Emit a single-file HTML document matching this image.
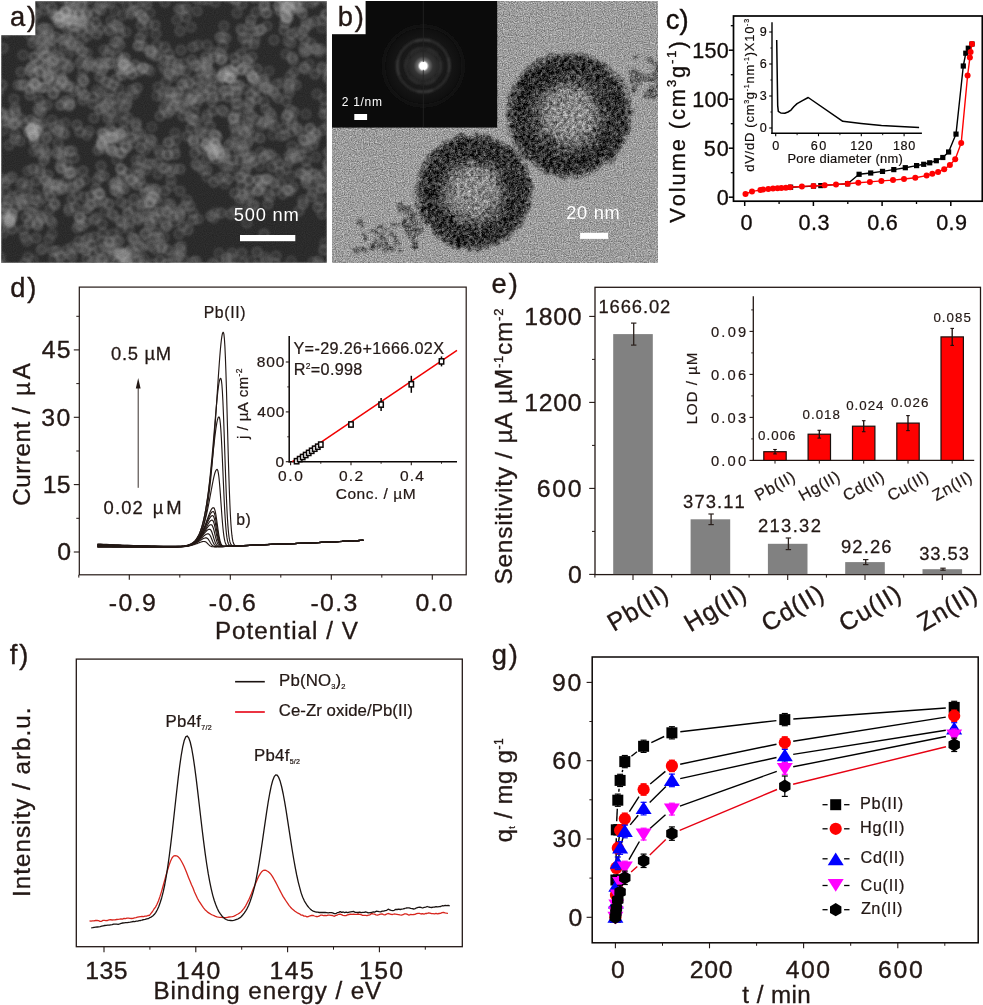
<!DOCTYPE html>
<html><head><meta charset="utf-8"><title>figure</title>
<style>html,body{margin:0;padding:0;background:#fff;overflow:hidden}svg{display:block;font-family:"Liberation Sans",sans-serif;font-kerning:none;stroke-width:0.35px;will-change:transform;opacity:0.9999;}</style>
</head><body>
<svg width="983" height="1005" viewBox="0 0 983 1005">
<defs>
<filter id="semf" x="0" y="0" width="100%" height="100%" color-interpolation-filters="sRGB"><feGaussianBlur in="SourceGraphic" stdDeviation="1.15" result="b"/><feTurbulence type="fractalNoise" baseFrequency="0.9" numOctaves="1" seed="5" result="n"/><feColorMatrix in="n" type="matrix" values="1 0 0 0 0 1 0 0 0 0 1 0 0 0 0 0 0 0 0 1" result="g"/><feComposite in="b" in2="g" operator="arithmetic" k1="0" k2="1" k3="0.10" k4="-0.05"/></filter>
<filter id="temf" x="0" y="0" width="100%" height="100%" color-interpolation-filters="sRGB"><feTurbulence type="fractalNoise" baseFrequency="0.85" numOctaves="2" seed="11" result="n"/><feColorMatrix in="n" type="matrix" values="1 0 0 0 0 1 0 0 0 0 1 0 0 0 0 0 0 0 0 1" result="g"/><feComposite in="SourceGraphic" in2="g" operator="arithmetic" k1="0" k2="1" k3="0.6" k4="-0.3"/></filter>
<filter id="rough" x="-10%" y="-10%" width="120%" height="120%" color-interpolation-filters="sRGB"><feTurbulence type="fractalNoise" baseFrequency="0.12" numOctaves="2" seed="4" result="t"/><feDisplacementMap in="SourceGraphic" in2="t" scale="9" xChannelSelector="R" yChannelSelector="G" result="d"/><feGaussianBlur in="d" stdDeviation="0.8" result="db"/><feTurbulence type="fractalNoise" baseFrequency="0.28" numOctaves="2" seed="9" result="m"/><feColorMatrix in="m" type="matrix" values="1 0 0 0 0 1 0 0 0 0 1 0 0 0 0 0 0 0 0 1" result="mg"/><feComposite in="db" in2="mg" operator="arithmetic" k1="0" k2="1" k3="0.7" k4="-0.35" result="mix"/><feComposite in="mix" in2="db" operator="in"/></filter>
<radialGradient id="p1" cx="0.5" cy="0.5" r="0.5"><stop offset="0" stop-color="#8e8e8e"/><stop offset="0.34" stop-color="#828282"/><stop offset="0.56" stop-color="#4c4c4c"/><stop offset="0.72" stop-color="#303030"/><stop offset="0.9" stop-color="#383838"/><stop offset="0.97" stop-color="#606060"/><stop offset="1" stop-color="#b0b0b0"/></radialGradient>
<radialGradient id="glow" cx="0.5" cy="0.5" r="0.5"><stop offset="0" stop-color="#fff"/><stop offset="0.08" stop-color="#fff"/><stop offset="0.13" stop-color="#707070"/><stop offset="0.22" stop-color="#343434"/><stop offset="0.45" stop-color="#1a1a1a"/><stop offset="1" stop-color="#0b0b0b"/></radialGradient>
<g id="sb"><circle r="5" fill="#a2a2a2" fill-opacity="0.45" stroke="#bebebe" stroke-opacity="0.45" stroke-width="1.6"/><circle r="1.6" fill="#555" fill-opacity="0.3"/></g>
<g id="sp"><circle r="4.8" fill="#858585" fill-opacity="0.36" stroke="#a8a8a8" stroke-opacity="0.42" stroke-width="1.6"/><circle r="1.8" fill="#303030" fill-opacity="0.3"/></g>
<filter id="soft" x="-20%" y="-20%" width="140%" height="140%"><feGaussianBlur stdDeviation="0.9"/></filter>
<clipPath id="ca"><rect x="1" y="1" width="326" height="262"/></clipPath>
<clipPath id="cb"><rect x="332" y="1" width="326" height="262"/></clipPath>
</defs>
<rect width="983" height="1005" fill="#fff"/>
<g clip-path="url(#ca)"><g filter="url(#semf)">
<rect x="1" y="1" width="326" height="262" fill="#2b2b2b"/>
<use href="#sp" x="320" y="265" opacity="0.46"/>
<use href="#sp" x="317" y="265" opacity="0.57"/>
<use href="#sp" x="318" y="261" opacity="0.56"/>
<use href="#sp" x="313" y="262" opacity="0.44"/>
<use href="#sp" x="324" y="250" opacity="0.63"/>
<use href="#sp" x="325" y="243" opacity="0.44"/>
<use href="#sp" x="330" y="152" opacity="0.47"/>
<use href="#sp" x="331" y="156" opacity="0.48"/>
<use href="#sp" x="328" y="152" opacity="0.50"/>
<use href="#sp" x="215" y="265" opacity="0.53"/>
<use href="#sp" x="226" y="262" opacity="0.62"/>
<use href="#sp" x="291" y="261" opacity="0.44"/>
<use href="#sp" x="213" y="263" opacity="0.55"/>
<use href="#sp" x="328" y="163" opacity="0.56"/>
<use href="#sp" x="328" y="164" opacity="0.48"/>
<use href="#sp" x="257" y="266" opacity="0.50"/>
<use href="#sp" x="329" y="168" opacity="0.52"/>
<use href="#sp" x="227" y="258" opacity="0.62"/>
<use href="#sp" x="275" y="263" opacity="0.59"/>
<use href="#sp" x="329" y="172" opacity="0.53"/>
<use href="#sp" x="219" y="253" opacity="0.44"/>
<use href="#sp" x="243" y="263" opacity="0.50"/>
<use href="#sp" x="328" y="126" opacity="0.60"/>
<use href="#sp" x="232" y="258" opacity="0.52"/>
<use href="#sp" x="329" y="187" opacity="0.51"/>
<use href="#sp" x="266" y="261" opacity="0.56"/>
<use href="#sp" x="251" y="261" opacity="0.43"/>
<use href="#sp" x="313" y="145" opacity="0.56"/>
<use href="#sp" x="323" y="130" opacity="0.57"/>
<use href="#sp" x="315" y="139" opacity="0.44"/>
<use href="#sp" x="328" y="113" opacity="0.51"/>
<use href="#sp" x="324" y="174" opacity="0.61"/>
<use href="#sp" x="322" y="214" opacity="0.48"/>
<use href="#sp" x="316" y="135" opacity="0.54"/>
<use href="#sp" x="276" y="256" opacity="0.50"/>
<use href="#sp" x="311" y="139" opacity="0.54"/>
<use href="#sp" x="232" y="253" opacity="0.51"/>
<use href="#sp" x="316" y="157" opacity="0.50"/>
<use href="#sp" x="315" y="133" opacity="0.62"/>
<use href="#sp" x="311" y="137" opacity="0.57"/>
<use href="#sp" x="324" y="114" opacity="0.64"/>
<use href="#sp" x="265" y="257" opacity="0.49"/>
<use href="#sp" x="307" y="148" opacity="0.52"/>
<use href="#sp" x="325" y="108" opacity="0.50"/>
<use href="#sp" x="306" y="140" opacity="0.61"/>
<use href="#sp" x="304" y="140" opacity="0.50"/>
<use href="#sp" x="242" y="253" opacity="0.57"/>
<use href="#sp" x="322" y="188" opacity="0.46"/>
<use href="#sp" x="321" y="189" opacity="0.54"/>
<use href="#sp" x="303" y="139" opacity="0.48"/>
<use href="#sp" x="321" y="182" opacity="0.62"/>
<use href="#sp" x="324" y="99" opacity="0.50"/>
<use href="#sp" x="310" y="129" opacity="0.63"/>
<use href="#sp" x="320" y="201" opacity="0.54"/>
<use href="#sp" x="310" y="128" opacity="0.50"/>
<use href="#sp" x="302" y="148" opacity="0.54"/>
<use href="#sp" x="318" y="207" opacity="0.62"/>
<use href="#sp" x="196" y="261" opacity="0.57"/>
<use href="#sp" x="257" y="252" opacity="0.60"/>
<use href="#sp" x="318" y="178" opacity="0.54"/>
<use href="#sp" x="194" y="266" opacity="0.56"/>
<use href="#sp" x="54" y="259" opacity="0.45"/>
<use href="#sp" x="315" y="174" opacity="0.60"/>
<use href="#sp" x="193" y="262" opacity="0.56"/>
<use href="#sp" x="-3" y="5" opacity="0.56"/>
<use href="#sp" x="328" y="78" opacity="0.49"/>
<use href="#sp" x="329" y="77" opacity="0.59"/>
<use href="#sp" x="299" y="131" opacity="0.54"/>
<use href="#sp" x="317" y="94" opacity="0.49"/>
<use href="#sp" x="53" y="251" opacity="0.64"/>
<use href="#sp" x="57" y="251" opacity="0.59"/>
<use href="#sp" x="312" y="174" opacity="0.57"/>
<use href="#sp" x="306" y="161" opacity="0.60"/>
<use href="#sp" x="197" y="-1" opacity="0.57"/>
<use href="#sp" x="292" y="146" opacity="0.50"/>
<use href="#sp" x="330" y="72" opacity="0.63"/>
<use href="#sp" x="300" y="155" opacity="0.62"/>
<use href="#sp" x="313" y="192" opacity="0.57"/>
<use href="#sp" x="2" y="2" opacity="0.52"/>
<use href="#sp" x="0" y="21" opacity="0.53"/>
<use href="#sp" x="306" y="114" opacity="0.43"/>
<use href="#sp" x="297" y="128" opacity="0.62"/>
<use href="#sp" x="179" y="9" opacity="0.60"/>
<use href="#sp" x="182" y="10" opacity="0.55"/>
<use href="#sp" x="60" y="256" opacity="0.52"/>
<use href="#sp" x="186" y="8" opacity="0.60"/>
<use href="#sp" x="292" y="132" opacity="0.42"/>
<use href="#sp" x="307" y="169" opacity="0.51"/>
<use href="#sp" x="203" y="0" opacity="0.48"/>
<use href="#sp" x="165" y="2" opacity="0.55"/>
<use href="#sp" x="61" y="257" opacity="0.50"/>
<use href="#sp" x="311" y="197" opacity="0.55"/>
<use href="#sp" x="211" y="216" opacity="0.62"/>
<use href="#sp" x="198" y="219" opacity="0.51"/>
<use href="#sp" x="208" y="0" opacity="0.45"/>
<use href="#sp" x="310" y="185" opacity="0.42"/>
<use href="#sp" x="285" y="135" opacity="0.60"/>
<use href="#sp" x="51" y="184" opacity="0.52"/>
<use href="#sp" x="295" y="156" opacity="0.52"/>
<use href="#sp" x="281" y="136" opacity="0.43"/>
<use href="#sp" x="33" y="260" opacity="0.44"/>
<use href="#sp" x="214" y="218" opacity="0.42"/>
<use href="#sp" x="315" y="74" opacity="0.62"/>
<use href="#sp" x="307" y="177" opacity="0.43"/>
<use href="#sp" x="292" y="125" opacity="0.49"/>
<use href="#sp" x="-2" y="30" opacity="0.52"/>
<use href="#sp" x="292" y="153" opacity="0.55"/>
<use href="#sp" x="183" y="259" opacity="0.47"/>
<use href="#sp" x="46" y="180" opacity="0.56"/>
<use href="#sp" x="25" y="263" opacity="0.56"/>
<use href="#sp" x="296" y="158" opacity="0.64"/>
<use href="#sp" x="322" y="69" opacity="0.44"/>
<use href="#sp" x="215" y="2" opacity="0.49"/>
<use href="#sp" x="48" y="184" opacity="0.44"/>
<use href="#sp" x="305" y="175" opacity="0.48"/>
<use href="#sp" x="45" y="180" opacity="0.47"/>
<use href="#sp" x="-2" y="264" opacity="0.43"/>
<use href="#sp" x="186" y="17" opacity="0.60"/>
<use href="#sp" x="3" y="265" opacity="0.48"/>
<use href="#sp" x="292" y="121" opacity="0.58"/>
<use href="#sp" x="306" y="179" opacity="0.60"/>
<use href="#sp" x="188" y="230" opacity="0.60"/>
<use href="#sp" x="54" y="185" opacity="0.43"/>
<use href="#sp" x="197" y="11" opacity="0.55"/>
<use href="#sp" x="193" y="220" opacity="0.61"/>
<use href="#sp" x="322" y="67" opacity="0.56"/>
<use href="#sp" x="284" y="128" opacity="0.55"/>
<use href="#sp" x="181" y="246" opacity="0.51"/>
<use href="#sp" x="306" y="183" opacity="0.60"/>
<use href="#sp" x="48" y="187" opacity="0.54"/>
<use href="#sp" x="177" y="20" opacity="0.50"/>
<use href="#sp" x="120" y="-2" opacity="0.53"/>
<use href="#sp" x="67" y="250" opacity="0.52"/>
<use href="#sp" x="215" y="213" opacity="0.46"/>
<use href="#sp" x="181" y="251" opacity="0.57"/>
<use href="#sp" x="144" y="1" opacity="0.60"/>
<use href="#sp" x="10" y="2" opacity="0.56"/>
<use href="#sp" x="43" y="248" opacity="0.42"/>
<use href="#sp" x="41" y="250" opacity="0.51"/>
<use href="#sp" x="55" y="205" opacity="0.59"/>
<use href="#sp" x="52" y="234" opacity="0.45"/>
<use href="#sp" x="10" y="7" opacity="0.53"/>
<use href="#sp" x="294" y="112" opacity="0.57"/>
<use href="#sp" x="302" y="174" opacity="0.54"/>
<use href="#sp" x="49" y="239" opacity="0.49"/>
<use href="#sp" x="273" y="135" opacity="0.42"/>
<use href="#sp" x="54" y="203" opacity="0.57"/>
<use href="#sp" x="56" y="191" opacity="0.46"/>
<use href="#sp" x="289" y="156" opacity="0.55"/>
<use href="#sp" x="179" y="248" opacity="0.54"/>
<use href="#sp" x="57" y="186" opacity="0.58"/>
<use href="#sp" x="227" y="-3" opacity="0.44"/>
<use href="#sp" x="303" y="204" opacity="0.63"/>
<use href="#sp" x="179" y="256" opacity="0.58"/>
<use href="#sp" x="48" y="190" opacity="0.61"/>
<use href="#sp" x="62" y="169" opacity="0.46"/>
<use href="#sp" x="61" y="168" opacity="0.58"/>
<use href="#sp" x="193" y="213" opacity="0.50"/>
<use href="#sp" x="14" y="-4" opacity="0.57"/>
<use href="#sp" x="57" y="184" opacity="0.57"/>
<use href="#sp" x="70" y="254" opacity="0.51"/>
<use href="#sp" x="147" y="4" opacity="0.63"/>
<use href="#sp" x="6" y="32" opacity="0.52"/>
<use href="#sp" x="291" y="159" opacity="0.52"/>
<use href="#sp" x="48" y="175" opacity="0.58"/>
<use href="#sp" x="28" y="257" opacity="0.45"/>
<use href="#sp" x="50" y="196" opacity="0.62"/>
<use href="#sp" x="13" y="-1" opacity="0.49"/>
<use href="#sp" x="305" y="69" opacity="0.62"/>
<use href="#sp" x="300" y="173" opacity="0.45"/>
<use href="#sp" x="303" y="200" opacity="0.45"/>
<use href="#sp" x="299" y="211" opacity="0.55"/>
<use href="#sp" x="134" y="3" opacity="0.47"/>
<use href="#sp" x="179" y="234" opacity="0.52"/>
<use href="#sp" x="286" y="118" opacity="0.46"/>
<use href="#sp" x="288" y="115" opacity="0.58"/>
<use href="#sp" x="160" y="116" opacity="0.58"/>
<use href="#sp" x="52" y="223" opacity="0.57"/>
<use href="#sp" x="72" y="247" opacity="0.45"/>
<use href="#sp" x="60" y="166" opacity="0.43"/>
<use href="#sp" x="72" y="257" opacity="0.55"/>
<use href="#sp" x="287" y="115" opacity="0.44"/>
<use href="#sp" x="180" y="31" opacity="0.58"/>
<use href="#sp" x="176" y="258" opacity="0.54"/>
<use href="#sp" x="67" y="165" opacity="0.63"/>
<use href="#sp" x="290" y="110" opacity="0.60"/>
<use href="#sp" x="304" y="67" opacity="0.56"/>
<use href="#sp" x="36" y="181" opacity="0.60"/>
<use href="#sp" x="15" y="30" opacity="0.53"/>
<use href="#sp" x="127" y="5" opacity="0.48"/>
<use href="#sp" x="165" y="111" opacity="0.43"/>
<use href="#sp" x="264" y="234" opacity="0.57"/>
<use href="#sp" x="168" y="113" opacity="0.57"/>
<use href="#sp" x="60" y="189" opacity="0.56"/>
<use href="#sp" x="232" y="-2" opacity="0.53"/>
<use href="#sp" x="14" y="19" opacity="0.52"/>
<use href="#sp" x="183" y="226" opacity="0.62"/>
<use href="#sp" x="330" y="51" opacity="0.50"/>
<use href="#sp" x="62" y="162" opacity="0.45"/>
<use href="#sp" x="274" y="125" opacity="0.63"/>
<use href="#sp" x="221" y="213" opacity="0.59"/>
<use href="#sp" x="172" y="110" opacity="0.62"/>
<use href="#sp" x="174" y="106" opacity="0.64"/>
<use href="#sp" x="-4" y="256" opacity="0.52"/>
<use href="#sp" x="309" y="64" opacity="0.45"/>
<use href="#sp" x="296" y="85" opacity="0.53"/>
<use href="#sp" x="40" y="173" opacity="0.53"/>
<use href="#sp" x="191" y="27" opacity="0.51"/>
<use href="#sp" x="50" y="220" opacity="0.59"/>
<use href="#sp" x="-0" y="257" opacity="0.48"/>
<use href="#sp" x="62" y="186" opacity="0.63"/>
<use href="#sp" x="289" y="162" opacity="0.47"/>
<use href="#sp" x="77" y="228" opacity="0.48"/>
<use href="#sp" x="164" y="108" opacity="0.60"/>
<use href="#sp" x="173" y="256" opacity="0.47"/>
<use href="#sp" x="50" y="209" opacity="0.58"/>
<use href="#sp" x="16" y="13" opacity="0.48"/>
<use href="#sp" x="190" y="206" opacity="0.51"/>
<use href="#sp" x="18" y="-0" opacity="0.52"/>
<use href="#sp" x="174" y="101" opacity="0.47"/>
<use href="#sp" x="235" y="-4" opacity="0.60"/>
<use href="#sp" x="17" y="23" opacity="0.63"/>
<use href="#sp" x="294" y="72" opacity="0.62"/>
<use href="#sp" x="150" y="13" opacity="0.45"/>
<use href="#sp" x="152" y="127" opacity="0.43"/>
<use href="#sp" x="63" y="189" opacity="0.52"/>
<use href="#sp" x="17" y="12" opacity="0.58"/>
<use href="#sp" x="77" y="248" opacity="0.54"/>
<use href="#sp" x="137" y="10" opacity="0.63"/>
<use href="#sp" x="260" y="138" opacity="0.64"/>
<use href="#sp" x="159" y="150" opacity="0.57"/>
<use href="#sp" x="68" y="173" opacity="0.48"/>
<use href="#sp" x="172" y="98" opacity="0.51"/>
<use href="#sp" x="115" y="11" opacity="0.43"/>
<use href="#sp" x="169" y="100" opacity="0.51"/>
<use href="#sp" x="269" y="124" opacity="0.59"/>
<use href="#sp" x="28" y="171" opacity="0.49"/>
<use href="#sp" x="160" y="154" opacity="0.46"/>
<use href="#sp" x="236" y="1" opacity="0.54"/>
<use href="#sp" x="236" y="-1" opacity="0.62"/>
<use href="#sp" x="79" y="241" opacity="0.56"/>
<use href="#sp" x="292" y="82" opacity="0.44"/>
<use href="#sp" x="176" y="97" opacity="0.51"/>
<use href="#sp" x="20" y="3" opacity="0.47"/>
<use href="#sp" x="152" y="141" opacity="0.60"/>
<use href="#sp" x="286" y="101" opacity="0.51"/>
<use href="#sp" x="289" y="93" opacity="0.52"/>
<use href="#sp" x="133" y="11" opacity="0.61"/>
<use href="#sp" x="66" y="181" opacity="0.49"/>
<use href="#sp" x="62" y="156" opacity="0.52"/>
<use href="#sp" x="70" y="172" opacity="0.64"/>
<use href="#sp" x="21" y="30" opacity="0.49"/>
<use href="#sp" x="110" y="3" opacity="0.54"/>
<use href="#sp" x="180" y="106" opacity="0.56"/>
<use href="#sp" x="69" y="211" opacity="0.49"/>
<use href="#sp" x="158" y="163" opacity="0.56"/>
<use href="#sp" x="261" y="152" opacity="0.51"/>
<use href="#sp" x="79" y="225" opacity="0.60"/>
<use href="#sp" x="187" y="200" opacity="0.54"/>
<use href="#sp" x="289" y="88" opacity="0.58"/>
<use href="#sp" x="271" y="155" opacity="0.55"/>
<use href="#sp" x="178" y="98" opacity="0.57"/>
<use href="#sp" x="237" y="13" opacity="0.51"/>
<use href="#sp" x="71" y="173" opacity="0.45"/>
<use href="#sp" x="319" y="52" opacity="0.50"/>
<use href="#sp" x="290" y="76" opacity="0.49"/>
<use href="#sp" x="182" y="106" opacity="0.42"/>
<use href="#sp" x="173" y="92" opacity="0.59"/>
<use href="#sp" x="268" y="154" opacity="0.54"/>
<use href="#sp" x="3" y="48" opacity="0.53"/>
<use href="#sp" x="289" y="84" opacity="0.57"/>
<use href="#sp" x="43" y="198" opacity="0.43"/>
<use href="#sp" x="261" y="126" opacity="0.45"/>
<use href="#sp" x="40" y="169" opacity="0.58"/>
<use href="#sp" x="70" y="174" opacity="0.43"/>
<use href="#sp" x="33" y="169" opacity="0.61"/>
<use href="#sp" x="69" y="208" opacity="0.53"/>
<use href="#sp" x="69" y="151" opacity="0.63"/>
<use href="#sp" x="-4" y="109" opacity="0.61"/>
<use href="#sp" x="272" y="117" opacity="0.51"/>
<use href="#sp" x="168" y="264" opacity="0.50"/>
<use href="#sp" x="150" y="139" opacity="0.52"/>
<use href="#sp" x="12" y="177" opacity="0.59"/>
<use href="#sp" x="141" y="15" opacity="0.52"/>
<use href="#sp" x="141" y="15" opacity="0.58"/>
<use href="#sp" x="293" y="60" opacity="0.64"/>
<use href="#sp" x="181" y="50" opacity="0.58"/>
<use href="#sp" x="268" y="120" opacity="0.53"/>
<use href="#sp" x="82" y="226" opacity="0.58"/>
<use href="#sp" x="131" y="14" opacity="0.53"/>
<use href="#sp" x="263" y="123" opacity="0.55"/>
<use href="#sp" x="152" y="164" opacity="0.51"/>
<use href="#sp" x="168" y="250" opacity="0.63"/>
<use href="#sp" x="320" y="49" opacity="0.64"/>
<use href="#sp" x="149" y="145" opacity="0.54"/>
<use href="#sp" x="178" y="92" opacity="0.54"/>
<use href="#sp" x="164" y="237" opacity="0.44"/>
<use href="#sp" x="73" y="172" opacity="0.54"/>
<use href="#sp" x="166" y="168" opacity="0.62"/>
<use href="#sp" x="123" y="15" opacity="0.47"/>
<use href="#sp" x="184" y="109" opacity="0.59"/>
<use href="#sp" x="-3" y="109" opacity="0.48"/>
<use href="#sp" x="106" y="2" opacity="0.58"/>
<use href="#sp" x="185" y="206" opacity="0.48"/>
<use href="#sp" x="63" y="151" opacity="0.55"/>
<use href="#sp" x="169" y="92" opacity="0.59"/>
<use href="#sp" x="276" y="159" opacity="0.43"/>
<use href="#sp" x="148" y="164" opacity="0.60"/>
<use href="#sp" x="264" y="121" opacity="0.54"/>
<use href="#sp" x="61" y="154" opacity="0.47"/>
<use href="#sp" x="254" y="136" opacity="0.49"/>
<use href="#sp" x="74" y="158" opacity="0.54"/>
<use href="#sp" x="166" y="264" opacity="0.58"/>
<use href="#sp" x="316" y="50" opacity="0.46"/>
<use href="#sp" x="291" y="176" opacity="0.44"/>
<use href="#sp" x="93" y="97" opacity="0.47"/>
<use href="#sp" x="2" y="179" opacity="0.56"/>
<use href="#sp" x="82" y="248" opacity="0.51"/>
<use href="#sp" x="36" y="238" opacity="0.59"/>
<use href="#sp" x="170" y="172" opacity="0.58"/>
<use href="#sp" x="163" y="168" opacity="0.50"/>
<use href="#sp" x="265" y="156" opacity="0.55"/>
<use href="#sp" x="286" y="169" opacity="0.45"/>
<use href="#sp" x="72" y="151" opacity="0.55"/>
<use href="#sp" x="178" y="64" opacity="0.56"/>
<use href="#sp" x="28" y="185" opacity="0.47"/>
<use href="#sp" x="0" y="114" opacity="0.57"/>
<use href="#sp" x="23" y="182" opacity="0.45"/>
<use href="#sp" x="180" y="216" opacity="0.63"/>
<use href="#sp" x="25" y="26" opacity="0.54"/>
<use href="#sp" x="231" y="214" opacity="0.62"/>
<use href="#sp" x="293" y="187" opacity="0.57"/>
<use href="#sp" x="9" y="179" opacity="0.47"/>
<use href="#sp" x="242" y="4" opacity="0.58"/>
<use href="#sp" x="93" y="104" opacity="0.56"/>
<use href="#sp" x="177" y="71" opacity="0.50"/>
<use href="#sp" x="177" y="68" opacity="0.57"/>
<use href="#sp" x="270" y="113" opacity="0.59"/>
<use href="#sp" x="70" y="188" opacity="0.57"/>
<use href="#sp" x="85" y="241" opacity="0.47"/>
<use href="#sp" x="-2" y="181" opacity="0.63"/>
<use href="#sp" x="144" y="19" opacity="0.62"/>
<use href="#sp" x="163" y="97" opacity="0.52"/>
<use href="#sp" x="141" y="160" opacity="0.62"/>
<use href="#sp" x="292" y="57" opacity="0.64"/>
<use href="#sp" x="111" y="21" opacity="0.50"/>
<use href="#sp" x="26" y="29" opacity="0.46"/>
<use href="#sp" x="182" y="209" opacity="0.47"/>
<use href="#sp" x="85" y="95" opacity="0.53"/>
<use href="#sp" x="143" y="19" opacity="0.45"/>
<use href="#sp" x="82" y="60" opacity="0.47"/>
<use href="#sp" x="180" y="70" opacity="0.58"/>
<use href="#sp" x="145" y="150" opacity="0.42"/>
<use href="#sp" x="155" y="25" opacity="0.55"/>
<use href="#sp" x="167" y="155" opacity="0.51"/>
<use href="#sp" x="279" y="164" opacity="0.58"/>
<use href="#sp" x="26" y="4" opacity="0.48"/>
<use href="#sp" x="249" y="129" opacity="0.53"/>
<use href="#sp" x="180" y="214" opacity="0.47"/>
<use href="#sp" x="83" y="52" opacity="0.42"/>
<use href="#sp" x="2" y="113" opacity="0.61"/>
<use href="#sp" x="247" y="223" opacity="0.50"/>
<use href="#sp" x="315" y="48" opacity="0.48"/>
<use href="#sp" x="83" y="100" opacity="0.63"/>
<use href="#sp" x="30" y="35" opacity="0.50"/>
<use href="#sp" x="80" y="63" opacity="0.54"/>
<use href="#sp" x="81" y="219" opacity="0.45"/>
<use href="#sp" x="42" y="219" opacity="0.51"/>
<use href="#sp" x="168" y="155" opacity="0.61"/>
<use href="#sp" x="80" y="217" opacity="0.60"/>
<use href="#sp" x="79" y="217" opacity="0.60"/>
<use href="#sp" x="72" y="199" opacity="0.62"/>
<use href="#sp" x="35" y="194" opacity="0.47"/>
<use href="#sp" x="306" y="52" opacity="0.43"/>
<use href="#sp" x="83" y="95" opacity="0.45"/>
<use href="#sp" x="42" y="217" opacity="0.56"/>
<use href="#sp" x="257" y="120" opacity="0.54"/>
<use href="#sp" x="168" y="143" opacity="0.50"/>
<use href="#sp" x="264" y="158" opacity="0.58"/>
<use href="#sp" x="162" y="245" opacity="0.47"/>
<use href="#sp" x="173" y="76" opacity="0.55"/>
<use href="#sp" x="182" y="84" opacity="0.51"/>
<use href="#sp" x="282" y="83" opacity="0.45"/>
<use href="#sp" x="82" y="51" opacity="0.59"/>
<use href="#sp" x="304" y="52" opacity="0.46"/>
<use href="#sp" x="247" y="126" opacity="0.60"/>
<use href="#sp" x="180" y="191" opacity="0.59"/>
<use href="#sp" x="224" y="26" opacity="0.52"/>
<use href="#sp" x="88" y="238" opacity="0.52"/>
<use href="#sp" x="57" y="154" opacity="0.47"/>
<use href="#sp" x="174" y="222" opacity="0.45"/>
<use href="#sp" x="278" y="98" opacity="0.57"/>
<use href="#sp" x="21" y="184" opacity="0.50"/>
<use href="#sp" x="148" y="24" opacity="0.54"/>
<use href="#sp" x="183" y="85" opacity="0.50"/>
<use href="#sp" x="65" y="123" opacity="0.48"/>
<use href="#sp" x="83" y="71" opacity="0.46"/>
<use href="#sp" x="251" y="156" opacity="0.59"/>
<use href="#sp" x="162" y="248" opacity="0.52"/>
<use href="#sp" x="163" y="92" opacity="0.45"/>
<use href="#sp" x="75" y="207" opacity="0.61"/>
<use href="#sp" x="39" y="202" opacity="0.45"/>
<use href="#sp" x="57" y="152" opacity="0.47"/>
<use href="#sp" x="184" y="63" opacity="0.45"/>
<use href="#sp" x="169" y="142" opacity="0.54"/>
<use href="#sp" x="159" y="237" opacity="0.59"/>
<use href="#sp" x="65" y="134" opacity="0.43"/>
<use href="#sp" x="84" y="81" opacity="0.62"/>
<use href="#sp" x="183" y="116" opacity="0.57"/>
<use href="#sp" x="174" y="169" opacity="0.60"/>
<use href="#sp" x="86" y="222" opacity="0.51"/>
<use href="#sp" x="308" y="50" opacity="0.52"/>
<use href="#sp" x="189" y="101" opacity="0.44"/>
<use href="#sp" x="248" y="123" opacity="0.48"/>
<use href="#sp" x="185" y="90" opacity="0.61"/>
<use href="#sp" x="286" y="54" opacity="0.48"/>
<use href="#sp" x="27" y="21" opacity="0.62"/>
<use href="#sp" x="86" y="251" opacity="0.60"/>
<use href="#sp" x="77" y="125" opacity="0.62"/>
<use href="#sp" x="178" y="212" opacity="0.45"/>
<use href="#sp" x="161" y="248" opacity="0.51"/>
<use href="#sp" x="74" y="187" opacity="0.60"/>
<use href="#sp" x="102" y="98" opacity="0.49"/>
<use href="#sp" x="3" y="116" opacity="0.47"/>
<use href="#sp" x="87" y="248" opacity="0.42"/>
<use href="#sp" x="101" y="4" opacity="0.54"/>
<use href="#sp" x="83" y="81" opacity="0.54"/>
<use href="#sp" x="40" y="215" opacity="0.47"/>
<use href="#sp" x="82" y="78" opacity="0.48"/>
<use href="#sp" x="290" y="191" opacity="0.56"/>
<use href="#sp" x="87" y="53" opacity="0.46"/>
<use href="#sp" x="108" y="103" opacity="0.59"/>
<use href="#sp" x="-2" y="92" opacity="0.61"/>
<use href="#sp" x="189" y="99" opacity="0.51"/>
<use href="#sp" x="172" y="61" opacity="0.45"/>
<use href="#sp" x="100" y="29" opacity="0.55"/>
<use href="#sp" x="171" y="180" opacity="0.48"/>
<use href="#sp" x="27" y="189" opacity="0.44"/>
<use href="#sp" x="193" y="47" opacity="0.58"/>
<use href="#sp" x="141" y="169" opacity="0.54"/>
<use href="#sp" x="87" y="259" opacity="0.48"/>
<use href="#sp" x="167" y="226" opacity="0.47"/>
<use href="#sp" x="156" y="232" opacity="0.58"/>
<use href="#sp" x="5" y="183" opacity="0.62"/>
<use href="#sp" x="191" y="101" opacity="0.50"/>
<use href="#sp" x="241" y="29" opacity="0.55"/>
<use href="#sp" x="249" y="140" opacity="0.47"/>
<use href="#sp" x="146" y="170" opacity="0.52"/>
<use href="#sp" x="249" y="158" opacity="0.55"/>
<use href="#sp" x="27" y="241" opacity="0.49"/>
<use href="#sp" x="38" y="226" opacity="0.55"/>
<use href="#sp" x="36" y="39" opacity="0.54"/>
<use href="#sp" x="157" y="96" opacity="0.43"/>
<use href="#sp" x="125" y="107" opacity="0.45"/>
<use href="#sp" x="137" y="167" opacity="0.51"/>
<use href="#sp" x="136" y="160" opacity="0.45"/>
<use href="#sp" x="246" y="133" opacity="0.54"/>
<use href="#sp" x="63" y="133" opacity="0.55"/>
<use href="#sp" x="266" y="109" opacity="0.56"/>
<use href="#sp" x="97" y="34" opacity="0.61"/>
<use href="#sp" x="35" y="200" opacity="0.55"/>
<use href="#sp" x="33" y="43" opacity="0.59"/>
<use href="#sp" x="97" y="90" opacity="0.45"/>
<use href="#sp" x="250" y="25" opacity="0.61"/>
<use href="#sp" x="160" y="260" opacity="0.62"/>
<use href="#sp" x="115" y="25" opacity="0.55"/>
<use href="#sp" x="83" y="171" opacity="0.60"/>
<use href="#sp" x="194" y="112" opacity="0.54"/>
<use href="#sp" x="170" y="60" opacity="0.52"/>
<use href="#sp" x="117" y="105" opacity="0.46"/>
<use href="#sp" x="235" y="211" opacity="0.53"/>
<use href="#sp" x="166" y="226" opacity="0.58"/>
<use href="#sp" x="255" y="161" opacity="0.59"/>
<use href="#sp" x="81" y="90" opacity="0.62"/>
<use href="#sp" x="141" y="25" opacity="0.53"/>
<use href="#sp" x="44" y="160" opacity="0.63"/>
<use href="#sp" x="275" y="94" opacity="0.50"/>
<use href="#sp" x="225" y="184" opacity="0.42"/>
<use href="#sp" x="186" y="71" opacity="0.51"/>
<use href="#sp" x="169" y="72" opacity="0.54"/>
<use href="#sp" x="169" y="54" opacity="0.59"/>
<use href="#sp" x="253" y="31" opacity="0.47"/>
<use href="#sp" x="38" y="222" opacity="0.43"/>
<use href="#sp" x="304" y="48" opacity="0.58"/>
<use href="#sp" x="88" y="64" opacity="0.46"/>
<use href="#sp" x="247" y="159" opacity="0.61"/>
<use href="#sp" x="100" y="93" opacity="0.54"/>
<use href="#sp" x="142" y="139" opacity="0.45"/>
<use href="#sp" x="166" y="82" opacity="0.53"/>
<use href="#sp" x="101" y="10" opacity="0.59"/>
<use href="#sp" x="186" y="80" opacity="0.47"/>
<use href="#sp" x="288" y="190" opacity="0.63"/>
<use href="#sp" x="242" y="31" opacity="0.43"/>
<use href="#sp" x="74" y="50" opacity="0.45"/>
<use href="#sp" x="192" y="99" opacity="0.55"/>
<use href="#sp" x="169" y="74" opacity="0.57"/>
<use href="#sp" x="104" y="106" opacity="0.55"/>
<use href="#sp" x="141" y="148" opacity="0.62"/>
<use href="#sp" x="198" y="45" opacity="0.46"/>
<use href="#sp" x="88" y="66" opacity="0.43"/>
<use href="#sp" x="243" y="130" opacity="0.54"/>
<use href="#sp" x="277" y="84" opacity="0.50"/>
<use href="#sp" x="155" y="237" opacity="0.51"/>
<use href="#sp" x="156" y="34" opacity="0.51"/>
<use href="#sp" x="4" y="121" opacity="0.61"/>
<use href="#sp" x="118" y="25" opacity="0.48"/>
<use href="#sp" x="127" y="104" opacity="0.57"/>
<use href="#sp" x="37" y="224" opacity="0.54"/>
<use href="#sp" x="196" y="104" opacity="0.48"/>
<use href="#sp" x="193" y="98" opacity="0.62"/>
<use href="#sp" x="175" y="133" opacity="0.48"/>
<use href="#sp" x="110" y="99" opacity="0.49"/>
<use href="#sp" x="41" y="41" opacity="0.46"/>
<use href="#sp" x="94" y="237" opacity="0.57"/>
<use href="#sp" x="165" y="47" opacity="0.57"/>
<use href="#sp" x="141" y="134" opacity="0.50"/>
<use href="#sp" x="109" y="29" opacity="0.45"/>
<use href="#sp" x="247" y="144" opacity="0.55"/>
<use href="#sp" x="287" y="190" opacity="0.49"/>
<use href="#sp" x="280" y="172" opacity="0.54"/>
<use href="#sp" x="252" y="116" opacity="0.56"/>
<use href="#sp" x="154" y="238" opacity="0.42"/>
<use href="#sp" x="116" y="108" opacity="0.43"/>
<use href="#sp" x="79" y="182" opacity="0.60"/>
<use href="#sp" x="91" y="245" opacity="0.61"/>
<use href="#sp" x="244" y="133" opacity="0.44"/>
<use href="#sp" x="3" y="130" opacity="0.47"/>
<use href="#sp" x="190" y="117" opacity="0.51"/>
<use href="#sp" x="173" y="216" opacity="0.60"/>
<use href="#sp" x="311" y="43" opacity="0.49"/>
<use href="#sp" x="189" y="83" opacity="0.63"/>
<use href="#sp" x="77" y="195" opacity="0.44"/>
<use href="#sp" x="32" y="23" opacity="0.62"/>
<use href="#sp" x="67" y="57" opacity="0.43"/>
<use href="#sp" x="251" y="163" opacity="0.55"/>
<use href="#sp" x="98" y="8" opacity="0.63"/>
<use href="#sp" x="136" y="123" opacity="0.58"/>
<use href="#sp" x="180" y="169" opacity="0.62"/>
<use href="#sp" x="174" y="149" opacity="0.50"/>
<use href="#sp" x="2" y="85" opacity="0.63"/>
<use href="#sp" x="251" y="20" opacity="0.62"/>
<use href="#sp" x="327" y="1" opacity="0.48"/>
<use href="#sp" x="325" y="-3" opacity="0.59"/>
<use href="#sp" x="90" y="62" opacity="0.62"/>
<use href="#sp" x="32" y="10" opacity="0.47"/>
<use href="#sp" x="100" y="109" opacity="0.51"/>
<use href="#sp" x="273" y="91" opacity="0.59"/>
<use href="#sp" x="255" y="39" opacity="0.55"/>
<use href="#sp" x="91" y="264" opacity="0.62"/>
<use href="#sp" x="158" y="174" opacity="0.52"/>
<use href="#sp" x="110" y="31" opacity="0.52"/>
<use href="#sp" x="47" y="44" opacity="0.46"/>
<use href="#sp" x="247" y="165" opacity="0.48"/>
<use href="#sp" x="79" y="184" opacity="0.61"/>
<use href="#sp" x="32" y="15" opacity="0.48"/>
<use href="#sp" x="228" y="179" opacity="0.62"/>
<use href="#sp" x="105" y="108" opacity="0.60"/>
<use href="#sp" x="58" y="143" opacity="0.55"/>
<use href="#sp" x="78" y="46" opacity="0.49"/>
<use href="#sp" x="32" y="15" opacity="0.42"/>
<use href="#sp" x="45" y="156" opacity="0.45"/>
<use href="#sp" x="272" y="167" opacity="0.60"/>
<use href="#sp" x="175" y="154" opacity="0.63"/>
<use href="#sp" x="192" y="60" opacity="0.63"/>
<use href="#sp" x="194" y="95" opacity="0.48"/>
<use href="#sp" x="51" y="48" opacity="0.63"/>
<use href="#sp" x="239" y="118" opacity="0.52"/>
<use href="#sp" x="114" y="99" opacity="0.50"/>
<use href="#sp" x="233" y="119" opacity="0.62"/>
<use href="#sp" x="254" y="-2" opacity="0.60"/>
<use href="#sp" x="258" y="31" opacity="0.57"/>
<use href="#sp" x="74" y="46" opacity="0.48"/>
<use href="#sp" x="235" y="124" opacity="0.44"/>
<use href="#sp" x="326" y="15" opacity="0.46"/>
<use href="#sp" x="94" y="220" opacity="0.48"/>
<use href="#sp" x="100" y="110" opacity="0.46"/>
<use href="#sp" x="92" y="66" opacity="0.55"/>
<use href="#sp" x="158" y="87" opacity="0.49"/>
<use href="#sp" x="264" y="102" opacity="0.47"/>
<use href="#sp" x="80" y="132" opacity="0.61"/>
<use href="#sp" x="165" y="223" opacity="0.50"/>
<use href="#sp" x="176" y="140" opacity="0.42"/>
<use href="#sp" x="322" y="28" opacity="0.42"/>
<use href="#sp" x="9" y="115" opacity="0.54"/>
<use href="#sp" x="71" y="104" opacity="0.43"/>
<use href="#sp" x="102" y="224" opacity="0.54"/>
<use href="#sp" x="171" y="186" opacity="0.43"/>
<use href="#sp" x="249" y="114" opacity="0.52"/>
<use href="#sp" x="119" y="28" opacity="0.56"/>
<use href="#sp" x="25" y="237" opacity="0.54"/>
<use href="#sp" x="59" y="125" opacity="0.47"/>
<use href="#sp" x="326" y="14" opacity="0.60"/>
<use href="#sp" x="136" y="126" opacity="0.63"/>
<use href="#sp" x="234" y="118" opacity="0.60"/>
<use href="#sp" x="214" y="182" opacity="0.63"/>
<use href="#sp" x="43" y="39" opacity="0.63"/>
<use href="#sp" x="38" y="32" opacity="0.50"/>
<use href="#sp" x="139" y="175" opacity="0.54"/>
<use href="#sp" x="247" y="38" opacity="0.51"/>
<use href="#sp" x="69" y="106" opacity="0.59"/>
<use href="#sp" x="192" y="119" opacity="0.46"/>
<use href="#sp" x="234" y="117" opacity="0.47"/>
<use href="#sp" x="43" y="48" opacity="0.52"/>
<use href="#sp" x="91" y="-4" opacity="0.54"/>
<use href="#sp" x="220" y="37" opacity="0.64"/>
<use href="#sp" x="9" y="145" opacity="0.49"/>
<use href="#sp" x="165" y="70" opacity="0.42"/>
<use href="#sp" x="129" y="223" opacity="0.51"/>
<use href="#sp" x="96" y="23" opacity="0.61"/>
<use href="#sp" x="124" y="114" opacity="0.44"/>
<use href="#sp" x="244" y="149" opacity="0.53"/>
<use href="#sp" x="155" y="249" opacity="0.55"/>
<use href="#sp" x="69" y="104" opacity="0.60"/>
<use href="#sp" x="146" y="233" opacity="0.49"/>
<use href="#sp" x="165" y="60" opacity="0.55"/>
<use href="#sp" x="75" y="91" opacity="0.63"/>
<use href="#sp" x="64" y="46" opacity="0.63"/>
<use href="#sp" x="223" y="37" opacity="0.54"/>
<use href="#sp" x="207" y="45" opacity="0.49"/>
<use href="#sp" x="71" y="45" opacity="0.56"/>
<use href="#sp" x="46" y="153" opacity="0.58"/>
<use href="#sp" x="243" y="38" opacity="0.57"/>
<use href="#sp" x="199" y="99" opacity="0.57"/>
<use href="#sp" x="243" y="151" opacity="0.50"/>
<use href="#sp" x="58" y="132" opacity="0.58"/>
<use href="#sp" x="124" y="224" opacity="0.50"/>
<use href="#sp" x="237" y="130" opacity="0.47"/>
<use href="#sp" x="128" y="118" opacity="0.44"/>
<use href="#sp" x="153" y="264" opacity="0.54"/>
<use href="#sp" x="137" y="133" opacity="0.46"/>
<use href="#sp" x="207" y="115" opacity="0.48"/>
<use href="#sp" x="86" y="209" opacity="0.49"/>
<use href="#sp" x="93" y="253" opacity="0.50"/>
<use href="#sp" x="43" y="50" opacity="0.51"/>
<use href="#sp" x="213" y="111" opacity="0.63"/>
<use href="#sp" x="127" y="99" opacity="0.54"/>
<use href="#sp" x="95" y="14" opacity="0.54"/>
<use href="#sp" x="-3" y="192" opacity="0.51"/>
<use href="#sp" x="193" y="120" opacity="0.54"/>
<use href="#sp" x="58" y="130" opacity="0.60"/>
<use href="#sp" x="69" y="66" opacity="0.54"/>
<use href="#sp" x="243" y="211" opacity="0.53"/>
<use href="#sp" x="94" y="261" opacity="0.50"/>
<use href="#sp" x="15" y="108" opacity="0.46"/>
<use href="#sp" x="136" y="176" opacity="0.47"/>
<use href="#sp" x="33" y="207" opacity="0.44"/>
<use href="#sp" x="82" y="40" opacity="0.48"/>
<use href="#sp" x="268" y="91" opacity="0.43"/>
<use href="#sp" x="87" y="36" opacity="0.51"/>
<use href="#sp" x="15" y="111" opacity="0.55"/>
<use href="#sp" x="234" y="127" opacity="0.45"/>
<use href="#sp" x="240" y="160" opacity="0.59"/>
<use href="#sp" x="226" y="38" opacity="0.52"/>
<use href="#sp" x="254" y="44" opacity="0.56"/>
<use href="#sp" x="157" y="45" opacity="0.51"/>
<use href="#sp" x="261" y="30" opacity="0.60"/>
<use href="#sp" x="322" y="20" opacity="0.57"/>
<use href="#sp" x="96" y="265" opacity="0.45"/>
<use href="#sp" x="57" y="55" opacity="0.54"/>
<use href="#sp" x="120" y="221" opacity="0.48"/>
<use href="#sp" x="103" y="233" opacity="0.58"/>
<use href="#sp" x="23" y="55" opacity="0.50"/>
<use href="#sp" x="69" y="100" opacity="0.47"/>
<use href="#sp" x="260" y="166" opacity="0.43"/>
<use href="#sp" x="145" y="234" opacity="0.64"/>
<use href="#sp" x="121" y="221" opacity="0.45"/>
<use href="#sp" x="195" y="65" opacity="0.48"/>
<use href="#sp" x="123" y="97" opacity="0.63"/>
<use href="#sp" x="28" y="199" opacity="0.43"/>
<use href="#sp" x="283" y="194" opacity="0.51"/>
<use href="#sp" x="242" y="145" opacity="0.52"/>
<use href="#sp" x="96" y="218" opacity="0.57"/>
<use href="#sp" x="268" y="88" opacity="0.59"/>
<use href="#sp" x="305" y="40" opacity="0.63"/>
<use href="#sp" x="59" y="57" opacity="0.49"/>
<use href="#sp" x="85" y="180" opacity="0.44"/>
<use href="#sp" x="219" y="178" opacity="0.47"/>
<use href="#sp" x="163" y="66" opacity="0.42"/>
<use href="#sp" x="33" y="213" opacity="0.48"/>
<use href="#sp" x="36" y="14" opacity="0.56"/>
<use href="#sp" x="281" y="183" opacity="0.62"/>
<use href="#sp" x="73" y="87" opacity="0.44"/>
<use href="#sp" x="261" y="29" opacity="0.48"/>
<use href="#sp" x="196" y="87" opacity="0.62"/>
<use href="#sp" x="274" y="40" opacity="0.55"/>
<use href="#sp" x="291" y="43" opacity="0.51"/>
<use href="#sp" x="66" y="64" opacity="0.44"/>
<use href="#sp" x="11" y="118" opacity="0.43"/>
<use href="#sp" x="171" y="208" opacity="0.47"/>
<use href="#sp" x="89" y="-1" opacity="0.56"/>
<use href="#sp" x="269" y="71" opacity="0.43"/>
<use href="#sp" x="224" y="176" opacity="0.53"/>
<use href="#sp" x="48" y="38" opacity="0.60"/>
<use href="#sp" x="143" y="34" opacity="0.42"/>
<use href="#sp" x="196" y="66" opacity="0.48"/>
<use href="#sp" x="246" y="170" opacity="0.51"/>
<use href="#sp" x="256" y="12" opacity="0.55"/>
<use href="#sp" x="9" y="122" opacity="0.58"/>
<use href="#sp" x="41" y="-1" opacity="0.57"/>
<use href="#sp" x="149" y="225" opacity="0.52"/>
<use href="#sp" x="68" y="68" opacity="0.49"/>
<use href="#sp" x="40" y="52" opacity="0.56"/>
<use href="#sp" x="224" y="112" opacity="0.52"/>
<use href="#sp" x="196" y="121" opacity="0.62"/>
<use href="#sp" x="110" y="91" opacity="0.54"/>
<use href="#sp" x="236" y="112" opacity="0.55"/>
<use href="#sp" x="90" y="29" opacity="0.57"/>
<use href="#sp" x="266" y="88" opacity="0.53"/>
<use href="#sp" x="151" y="246" opacity="0.53"/>
<use href="#sp" x="101" y="166" opacity="0.57"/>
<use href="#sp" x="239" y="177" opacity="0.55"/>
<use href="#sp" x="100" y="77" opacity="0.64"/>
<use href="#sp" x="244" y="172" opacity="0.49"/>
<use href="#sp" x="71" y="42" opacity="0.53"/>
<use href="#sp" x="235" y="193" opacity="0.64"/>
<use href="#sp" x="52" y="40" opacity="0.60"/>
<use href="#sp" x="97" y="68" opacity="0.54"/>
<use href="#sp" x="126" y="32" opacity="0.49"/>
<use href="#sp" x="233" y="167" opacity="0.46"/>
<use href="#sp" x="84" y="197" opacity="0.51"/>
<use href="#sp" x="203" y="97" opacity="0.51"/>
<use href="#sp" x="111" y="113" opacity="0.52"/>
<use href="#sp" x="88" y="208" opacity="0.48"/>
<use href="#sp" x="207" y="119" opacity="0.53"/>
<use href="#sp" x="94" y="118" opacity="0.55"/>
<use href="#sp" x="134" y="143" opacity="0.44"/>
<use href="#sp" x="63" y="63" opacity="0.57"/>
<use href="#sp" x="168" y="213" opacity="0.58"/>
<use href="#sp" x="62" y="105" opacity="0.46"/>
<use href="#sp" x="236" y="134" opacity="0.48"/>
<use href="#sp" x="207" y="177" opacity="0.43"/>
<use href="#sp" x="247" y="108" opacity="0.52"/>
<use href="#sp" x="222" y="110" opacity="0.57"/>
<use href="#sp" x="16" y="114" opacity="0.51"/>
<use href="#sp" x="30" y="222" opacity="0.55"/>
<use href="#sp" x="120" y="34" opacity="0.55"/>
<use href="#sp" x="40" y="153" opacity="0.43"/>
<use href="#sp" x="265" y="88" opacity="0.43"/>
<use href="#sp" x="65" y="101" opacity="0.53"/>
<use href="#sp" x="197" y="80" opacity="0.62"/>
<use href="#sp" x="250" y="105" opacity="0.58"/>
<use href="#sp" x="247" y="45" opacity="0.52"/>
<use href="#sp" x="129" y="228" opacity="0.48"/>
<use href="#sp" x="151" y="224" opacity="0.45"/>
<use href="#sp" x="42" y="29" opacity="0.56"/>
<use href="#sp" x="239" y="151" opacity="0.59"/>
<use href="#sp" x="288" y="41" opacity="0.51"/>
<use href="#sp" x="6" y="192" opacity="0.44"/>
<use href="#sp" x="52" y="120" opacity="0.48"/>
<use href="#sp" x="18" y="195" opacity="0.58"/>
<use href="#sp" x="170" y="204" opacity="0.59"/>
<use href="#sp" x="14" y="99" opacity="0.51"/>
<use href="#sp" x="89" y="26" opacity="0.62"/>
<use href="#sp" x="201" y="91" opacity="0.51"/>
<use href="#sp" x="54" y="127" opacity="0.43"/>
<use href="#sp" x="128" y="214" opacity="0.47"/>
<use href="#sp" x="127" y="173" opacity="0.62"/>
<use href="#sp" x="140" y="180" opacity="0.58"/>
<use href="#sp" x="29" y="224" opacity="0.44"/>
<use href="#sp" x="134" y="94" opacity="0.48"/>
<use href="#sp" x="204" y="95" opacity="0.51"/>
<use href="#sp" x="200" y="66" opacity="0.53"/>
<use href="#sp" x="158" y="55" opacity="0.43"/>
<use href="#sp" x="121" y="169" opacity="0.62"/>
<use href="#sp" x="265" y="83" opacity="0.54"/>
<use href="#sp" x="257" y="99" opacity="0.48"/>
<use href="#sp" x="105" y="82" opacity="0.43"/>
<use href="#sp" x="84" y="-3" opacity="0.55"/>
<use href="#sp" x="121" y="169" opacity="0.63"/>
<use href="#sp" x="54" y="59" opacity="0.58"/>
<use href="#sp" x="99" y="250" opacity="0.61"/>
<use href="#sp" x="241" y="177" opacity="0.61"/>
<use href="#sp" x="24" y="199" opacity="0.57"/>
<use href="#sp" x="121" y="229" opacity="0.43"/>
<use href="#sp" x="45" y="56" opacity="0.49"/>
<use href="#sp" x="191" y="128" opacity="0.55"/>
<use href="#sp" x="60" y="105" opacity="0.51"/>
<use href="#sp" x="103" y="241" opacity="0.47"/>
<use href="#sp" x="316" y="-0" opacity="0.44"/>
<use href="#sp" x="30" y="212" opacity="0.61"/>
<use href="#sp" x="138" y="220" opacity="0.57"/>
<use href="#sp" x="104" y="50" opacity="0.49"/>
<use href="#sp" x="237" y="142" opacity="0.53"/>
<use href="#sp" x="47" y="56" opacity="0.61"/>
<use href="#sp" x="100" y="62" opacity="0.45"/>
<use href="#sp" x="100" y="64" opacity="0.56"/>
<use href="#sp" x="264" y="79" opacity="0.47"/>
<use href="#sp" x="44" y="56" opacity="0.62"/>
<use href="#sp" x="166" y="212" opacity="0.60"/>
<use href="#sp" x="206" y="57" opacity="0.63"/>
<use href="#sp" x="34" y="57" opacity="0.51"/>
<use href="#sp" x="128" y="212" opacity="0.53"/>
<use href="#sp" x="66" y="40" opacity="0.49"/>
<use href="#sp" x="203" y="62" opacity="0.50"/>
<use href="#sp" x="107" y="82" opacity="0.63"/>
<use href="#sp" x="132" y="180" opacity="0.64"/>
<use href="#sp" x="212" y="101" opacity="0.64"/>
<use href="#sp" x="44" y="149" opacity="0.62"/>
<use href="#sp" x="132" y="138" opacity="0.53"/>
<use href="#sp" x="63" y="40" opacity="0.57"/>
<use href="#sp" x="68" y="86" opacity="0.62"/>
<use href="#sp" x="23" y="230" opacity="0.52"/>
<use href="#sp" x="140" y="38" opacity="0.62"/>
<use href="#sp" x="49" y="34" opacity="0.60"/>
<use href="#sp" x="134" y="183" opacity="0.49"/>
<use href="#sp" x="35" y="57" opacity="0.50"/>
<use href="#sp" x="187" y="136" opacity="0.57"/>
<use href="#sp" x="301" y="35" opacity="0.46"/>
<use href="#sp" x="149" y="221" opacity="0.48"/>
<use href="#sp" x="90" y="205" opacity="0.47"/>
<use href="#sp" x="255" y="98" opacity="0.45"/>
<use href="#sp" x="44" y="28" opacity="0.62"/>
<use href="#sp" x="201" y="71" opacity="0.64"/>
<use href="#sp" x="156" y="56" opacity="0.60"/>
<use href="#sp" x="67" y="87" opacity="0.53"/>
<use href="#sp" x="102" y="71" opacity="0.59"/>
<use href="#sp" x="13" y="124" opacity="0.57"/>
<use href="#sp" x="315" y="21" opacity="0.52"/>
<use href="#sp" x="124" y="122" opacity="0.54"/>
<use href="#sp" x="44" y="4" opacity="0.45"/>
<use href="#sp" x="87" y="135" opacity="0.48"/>
<use href="#sp" x="223" y="46" opacity="0.50"/>
<use href="#sp" x="267" y="26" opacity="0.50"/>
<use href="#sp" x="131" y="180" opacity="0.57"/>
<use href="#sp" x="117" y="160" opacity="0.48"/>
<use href="#sp" x="114" y="216" opacity="0.48"/>
<use href="#sp" x="233" y="160" opacity="0.62"/>
<use href="#sp" x="138" y="218" opacity="0.60"/>
<use href="#sp" x="56" y="37" opacity="0.63"/>
<use href="#sp" x="240" y="199" opacity="0.60"/>
<use href="#sp" x="52" y="61" opacity="0.47"/>
<use href="#sp" x="249" y="102" opacity="0.53"/>
<use href="#sp" x="228" y="166" opacity="0.61"/>
<use href="#sp" x="262" y="80" opacity="0.60"/>
<use href="#sp" x="131" y="137" opacity="0.47"/>
<use href="#sp" x="145" y="244" opacity="0.53"/>
<use href="#sp" x="314" y="-0" opacity="0.55"/>
<use href="#sp" x="235" y="146" opacity="0.43"/>
<use href="#sp" x="119" y="89" opacity="0.48"/>
<use href="#sp" x="165" y="191" opacity="0.59"/>
<use href="#sp" x="214" y="52" opacity="0.57"/>
<use href="#sp" x="113" y="234" opacity="0.52"/>
<use href="#sp" x="101" y="260" opacity="0.55"/>
<use href="#sp" x="41" y="112" opacity="0.54"/>
<use href="#sp" x="89" y="131" opacity="0.50"/>
<use href="#sp" x="34" y="151" opacity="0.44"/>
<use href="#sp" x="53" y="62" opacity="0.59"/>
<use href="#sp" x="115" y="42" opacity="0.60"/>
<use href="#sp" x="113" y="118" opacity="0.52"/>
<use href="#sp" x="21" y="200" opacity="0.59"/>
<use href="#sp" x="156" y="219" opacity="0.61"/>
<use href="#sp" x="132" y="90" opacity="0.58"/>
<use href="#sp" x="14" y="124" opacity="0.60"/>
<use href="#sp" x="113" y="85" opacity="0.64"/>
<use href="#sp" x="39" y="111" opacity="0.43"/>
<use href="#sp" x="108" y="118" opacity="0.63"/>
<use href="#sp" x="151" y="50" opacity="0.53"/>
<use href="#sp" x="137" y="185" opacity="0.60"/>
<use href="#sp" x="102" y="259" opacity="0.59"/>
<use href="#sp" x="3" y="233" opacity="0.45"/>
<use href="#sp" x="152" y="52" opacity="0.56"/>
<use href="#sp" x="203" y="78" opacity="0.45"/>
<use href="#sp" x="87" y="12" opacity="0.59"/>
<use href="#sp" x="264" y="3" opacity="0.50"/>
<use href="#sp" x="276" y="190" opacity="0.51"/>
<use href="#sp" x="82" y="30" opacity="0.49"/>
<use href="#sp" x="48" y="29" opacity="0.60"/>
<use href="#sp" x="15" y="139" opacity="0.57"/>
<use href="#sp" x="38" y="109" opacity="0.49"/>
<use href="#sp" x="87" y="15" opacity="0.59"/>
<use href="#sp" x="65" y="82" opacity="0.47"/>
<use href="#sp" x="67" y="37" opacity="0.60"/>
<use href="#sp" x="236" y="104" opacity="0.56"/>
<use href="#sp" x="92" y="204" opacity="0.60"/>
<use href="#sp" x="104" y="67" opacity="0.56"/>
<use href="#sp" x="53" y="-4" opacity="0.64"/>
<use href="#sp" x="264" y="6" opacity="0.58"/>
<use href="#sp" x="118" y="42" opacity="0.53"/>
<use href="#sp" x="44" y="10" opacity="0.56"/>
<use href="#sp" x="144" y="265" opacity="0.55"/>
<use href="#sp" x="206" y="87" opacity="0.49"/>
<use href="#sp" x="310" y="24" opacity="0.50"/>
<use href="#sp" x="53" y="-3" opacity="0.60"/>
<use href="#sp" x="137" y="88" opacity="0.61"/>
<use href="#sp" x="304" y="30" opacity="0.64"/>
<use href="#sp" x="274" y="183" opacity="0.58"/>
<use href="#sp" x="16" y="123" opacity="0.54"/>
<use href="#sp" x="203" y="170" opacity="0.52"/>
<use href="#sp" x="213" y="97" opacity="0.58"/>
<use href="#sp" x="252" y="57" opacity="0.57"/>
<use href="#sp" x="207" y="64" opacity="0.64"/>
<use href="#sp" x="208" y="61" opacity="0.59"/>
<use href="#sp" x="256" y="90" opacity="0.51"/>
<use href="#sp" x="12" y="197" opacity="0.49"/>
<use href="#sp" x="166" y="203" opacity="0.44"/>
<use href="#sp" x="238" y="103" opacity="0.60"/>
<use href="#sp" x="26" y="217" opacity="0.52"/>
<use href="#sp" x="110" y="49" opacity="0.52"/>
<use href="#sp" x="232" y="142" opacity="0.44"/>
<use href="#sp" x="112" y="214" opacity="0.54"/>
<use href="#sp" x="91" y="196" opacity="0.63"/>
<use href="#sp" x="265" y="6" opacity="0.49"/>
<use href="#sp" x="149" y="51" opacity="0.59"/>
<use href="#sp" x="292" y="34" opacity="0.60"/>
<use href="#sp" x="100" y="176" opacity="0.58"/>
<use href="#sp" x="312" y="3" opacity="0.56"/>
<use href="#sp" x="151" y="54" opacity="0.49"/>
<use href="#sp" x="38" y="148" opacity="0.58"/>
<use href="#sp" x="207" y="170" opacity="0.56"/>
<use href="#sp" x="74" y="34" opacity="0.64"/>
<use href="#sp" x="23" y="205" opacity="0.54"/>
<use href="#sp" x="256" y="88" opacity="0.51"/>
<use href="#sp" x="251" y="95" opacity="0.63"/>
<use href="#sp" x="122" y="176" opacity="0.57"/>
<use href="#sp" x="127" y="147" opacity="0.51"/>
<use href="#sp" x="62" y="78" opacity="0.57"/>
<use href="#sp" x="206" y="72" opacity="0.47"/>
<use href="#sp" x="144" y="259" opacity="0.47"/>
<use href="#sp" x="60" y="73" opacity="0.63"/>
<use href="#sp" x="122" y="153" opacity="0.53"/>
<use href="#sp" x="105" y="63" opacity="0.61"/>
<use href="#sp" x="105" y="212" opacity="0.48"/>
<use href="#sp" x="224" y="165" opacity="0.54"/>
<use href="#sp" x="161" y="212" opacity="0.49"/>
<use href="#sp" x="207" y="67" opacity="0.61"/>
<use href="#sp" x="21" y="72" opacity="0.57"/>
<use href="#sp" x="126" y="148" opacity="0.52"/>
<use href="#sp" x="62" y="80" opacity="0.52"/>
<use href="#sp" x="252" y="206" opacity="0.48"/>
<use href="#sp" x="18" y="85" opacity="0.48"/>
<use href="#sp" x="210" y="126" opacity="0.59"/>
<use href="#sp" x="21" y="204" opacity="0.50"/>
<use href="#sp" x="105" y="247" opacity="0.46"/>
<use href="#sp" x="84" y="20" opacity="0.52"/>
<use href="#sp" x="123" y="178" opacity="0.53"/>
<use href="#sp" x="242" y="186" opacity="0.65"/>
<use href="#sp" x="198" y="166" opacity="0.52"/>
<use href="#sp" x="97" y="180" opacity="0.52"/>
<use href="#sp" x="257" y="69" opacity="0.65"/>
<use href="#sp" x="108" y="54" opacity="0.59"/>
<use href="#sp" x="266" y="13" opacity="0.54"/>
<use href="#sp" x="270" y="180" opacity="0.52"/>
<use href="#sp" x="220" y="53" opacity="0.48"/>
<use href="#sp" x="81" y="3" opacity="0.47"/>
<use href="#sp" x="62" y="83" opacity="0.54"/>
<use href="#sp" x="196" y="164" opacity="0.58"/>
<use href="#sp" x="296" y="32" opacity="0.46"/>
<use href="#sp" x="42" y="106" opacity="0.54"/>
<use href="#sp" x="62" y="82" opacity="0.47"/>
<use href="#sp" x="268" y="204" opacity="0.57"/>
<use href="#sp" x="210" y="89" opacity="0.51"/>
<use href="#sp" x="143" y="46" opacity="0.58"/>
<use href="#sp" x="121" y="153" opacity="0.61"/>
<use href="#sp" x="306" y="26" opacity="0.53"/>
<use href="#sp" x="15" y="134" opacity="0.52"/>
<use href="#sp" x="134" y="238" opacity="0.45"/>
<use href="#sp" x="104" y="258" opacity="0.48"/>
<use href="#sp" x="134" y="209" opacity="0.57"/>
<use href="#sp" x="215" y="57" opacity="0.61"/>
<use href="#sp" x="83" y="24" opacity="0.47"/>
<use href="#sp" x="243" y="195" opacity="0.65"/>
<use href="#sp" x="154" y="216" opacity="0.64"/>
<use href="#sp" x="85" y="15" opacity="0.52"/>
<use href="#sp" x="47" y="105" opacity="0.56"/>
<use href="#sp" x="104" y="176" opacity="0.59"/>
<use href="#sp" x="207" y="81" opacity="0.51"/>
<use href="#sp" x="82" y="5" opacity="0.52"/>
<use href="#sp" x="109" y="242" opacity="0.60"/>
<use href="#sp" x="143" y="216" opacity="0.55"/>
<use href="#sp" x="126" y="205" opacity="0.53"/>
<use href="#sp" x="0" y="229" opacity="0.56"/>
<use href="#sp" x="150" y="71" opacity="0.46"/>
<use href="#sp" x="54" y="68" opacity="0.54"/>
<use href="#sp" x="211" y="90" opacity="0.50"/>
<use href="#sp" x="245" y="199" opacity="0.48"/>
<use href="#sp" x="142" y="248" opacity="0.56"/>
<use href="#sp" x="48" y="64" opacity="0.59"/>
<use href="#sp" x="21" y="119" opacity="0.56"/>
<use href="#sp" x="132" y="238" opacity="0.55"/>
<use href="#sp" x="51" y="66" opacity="0.59"/>
<use href="#sp" x="47" y="137" opacity="0.53"/>
<use href="#sp" x="135" y="240" opacity="0.66"/>
<use href="#sp" x="46" y="139" opacity="0.49"/>
<use href="#sp" x="200" y="130" opacity="0.44"/>
<use href="#sp" x="267" y="13" opacity="0.57"/>
<use href="#sp" x="39" y="63" opacity="0.59"/>
<use href="#sp" x="110" y="242" opacity="0.53"/>
<use href="#sp" x="267" y="179" opacity="0.53"/>
<use href="#sp" x="120" y="45" opacity="0.52"/>
<use href="#sp" x="108" y="265" opacity="0.50"/>
<use href="#sp" x="241" y="54" opacity="0.62"/>
<use href="#sp" x="139" y="45" opacity="0.63"/>
<use href="#sp" x="20" y="141" opacity="0.51"/>
<use href="#sp" x="249" y="180" opacity="0.57"/>
<use href="#sp" x="306" y="22" opacity="0.55"/>
<use href="#sp" x="249" y="180" opacity="0.48"/>
<use href="#sp" x="125" y="146" opacity="0.61"/>
<use href="#sp" x="81" y="6" opacity="0.56"/>
<use href="#sp" x="220" y="96" opacity="0.67"/>
<use href="#sp" x="284" y="30" opacity="0.65"/>
<use href="#sp" x="124" y="131" opacity="0.65"/>
<use href="#sp" x="47" y="129" opacity="0.51"/>
<use href="#sp" x="209" y="71" opacity="0.47"/>
<use href="#sp" x="254" y="205" opacity="0.63"/>
<use href="#sp" x="2" y="201" opacity="0.47"/>
<use href="#sp" x="229" y="145" opacity="0.60"/>
<use href="#sp" x="79" y="26" opacity="0.49"/>
<use href="#sp" x="255" y="79" opacity="0.61"/>
<use href="#sp" x="35" y="65" opacity="0.46"/>
<use href="#sp" x="119" y="152" opacity="0.47"/>
<use href="#sp" x="266" y="179" opacity="0.65"/>
<use href="#sp" x="148" y="215" opacity="0.57"/>
<use href="#sp" x="32" y="67" opacity="0.55"/>
<use href="#sp" x="116" y="79" opacity="0.67"/>
<use href="#sp" x="193" y="140" opacity="0.63"/>
<use href="#sp" x="158" y="211" opacity="0.51"/>
<use href="#sp" x="134" y="199" opacity="0.61"/>
<use href="#sp" x="81" y="22" opacity="0.54"/>
<use href="#sp" x="139" y="246" opacity="0.56"/>
<use href="#sp" x="144" y="187" opacity="0.53"/>
<use href="#sp" x="59" y="87" opacity="0.51"/>
<use href="#sp" x="138" y="46" opacity="0.52"/>
<use href="#sp" x="21" y="85" opacity="0.52"/>
<use href="#sp" x="223" y="56" opacity="0.50"/>
<use href="#sp" x="110" y="63" opacity="0.65"/>
<use href="#sp" x="109" y="248" opacity="0.54"/>
<use href="#sp" x="116" y="240" opacity="0.58"/>
<use href="#sp" x="81" y="21" opacity="0.64"/>
<use href="#sp" x="71" y="-1" opacity="0.61"/>
<use href="#sp" x="270" y="197" opacity="0.50"/>
<use href="#sp" x="31" y="68" opacity="0.67"/>
<use href="#sp" x="12" y="229" opacity="0.67"/>
<use href="#sp" x="247" y="60" opacity="0.65"/>
<use href="#sp" x="194" y="140" opacity="0.54"/>
<use href="#sp" x="45" y="67" opacity="0.65"/>
<use href="#sp" x="98" y="150" opacity="0.61"/>
<use href="#sp" x="225" y="158" opacity="0.47"/>
<use href="#sp" x="110" y="64" opacity="0.55"/>
<use href="#sp" x="8" y="201" opacity="0.62"/>
<use href="#sp" x="96" y="189" opacity="0.59"/>
<use href="#sp" x="155" y="189" opacity="0.67"/>
<use href="#sp" x="98" y="202" opacity="0.64"/>
<use href="#sp" x="228" y="97" opacity="0.65"/>
<use href="#sp" x="253" y="79" opacity="0.68"/>
<use href="#sp" x="81" y="19" opacity="0.55"/>
<use href="#sp" x="201" y="133" opacity="0.67"/>
<use href="#sp" x="253" y="78" opacity="0.47"/>
<use href="#sp" x="248" y="63" opacity="0.65"/>
<use href="#sp" x="64" y="-1" opacity="0.49"/>
<use href="#sp" x="147" y="69" opacity="0.58"/>
<use href="#sp" x="263" y="180" opacity="0.57"/>
<use href="#sp" x="212" y="74" opacity="0.49"/>
<use href="#sp" x="57" y="86" opacity="0.62"/>
<use href="#sp" x="194" y="143" opacity="0.65"/>
<use href="#sp" x="236" y="96" opacity="0.53"/>
<use href="#sp" x="54" y="93" opacity="0.53"/>
<use href="#sp" x="80" y="16" opacity="0.65"/>
<use href="#sp" x="212" y="78" opacity="0.60"/>
<use href="#sp" x="24" y="86" opacity="0.49"/>
<use href="#sp" x="139" y="259" opacity="0.55"/>
<use href="#sp" x="222" y="59" opacity="0.69"/>
<use href="#sp" x="39" y="100" opacity="0.55"/>
<use href="#sp" x="76" y="26" opacity="0.55"/>
<use href="#sp" x="119" y="241" opacity="0.59"/>
<use href="#sp" x="53" y="94" opacity="0.68"/>
<use href="#sp" x="30" y="71" opacity="0.67"/>
<use href="#sp" x="221" y="60" opacity="0.57"/>
<use href="#sp" x="52" y="8" opacity="0.64"/>
<use href="#sp" x="42" y="123" opacity="0.50"/>
<use href="#sp" x="151" y="189" opacity="0.50"/>
<use href="#sp" x="97" y="194" opacity="0.57"/>
<use href="#sp" x="195" y="153" opacity="0.63"/>
<use href="#sp" x="75" y="4" opacity="0.53"/>
<use href="#sp" x="24" y="84" opacity="0.51"/>
<use href="#sp" x="224" y="155" opacity="0.69"/>
<use href="#sp" x="111" y="249" opacity="0.54"/>
<use href="#sp" x="155" y="192" opacity="0.51"/>
<use href="#sp" x="73" y="27" opacity="0.52"/>
<use href="#sp" x="245" y="89" opacity="0.52"/>
<use href="#sp" x="301" y="-1" opacity="0.56"/>
<use href="#sp" x="235" y="58" opacity="0.63"/>
<use href="#sp" x="124" y="189" opacity="0.65"/>
<use href="#sp" x="121" y="202" opacity="0.57"/>
<use href="#sp" x="225" y="153" opacity="0.62"/>
<use href="#sp" x="259" y="180" opacity="0.58"/>
<use href="#sp" x="258" y="180" opacity="0.64"/>
<use href="#sp" x="79" y="14" opacity="0.53"/>
<use href="#sp" x="120" y="133" opacity="0.65"/>
<use href="#sp" x="153" y="211" opacity="0.51"/>
<use href="#sp" x="31" y="120" opacity="0.72"/>
<use href="#sp" x="70" y="2" opacity="0.56"/>
<use href="#sp" x="30" y="95" opacity="0.64"/>
<use href="#sp" x="268" y="194" opacity="0.56"/>
<use href="#sp" x="77" y="21" opacity="0.62"/>
<use href="#sp" x="111" y="151" opacity="0.58"/>
<use href="#sp" x="136" y="260" opacity="0.67"/>
<use href="#sp" x="249" y="195" opacity="0.70"/>
<use href="#sp" x="16" y="207" opacity="0.71"/>
<use href="#sp" x="121" y="135" opacity="0.74"/>
<use href="#sp" x="248" y="71" opacity="0.63"/>
<use href="#sp" x="205" y="135" opacity="0.65"/>
<use href="#sp" x="113" y="151" opacity="0.61"/>
<use href="#sp" x="116" y="182" opacity="0.59"/>
<use href="#sp" x="215" y="135" opacity="0.64"/>
<use href="#sp" x="51" y="76" opacity="0.75"/>
<use href="#sp" x="24" y="124" opacity="0.55"/>
<use href="#sp" x="103" y="201" opacity="0.70"/>
<use href="#sp" x="221" y="157" opacity="0.61"/>
<use href="#sp" x="99" y="193" opacity="0.67"/>
<use href="#sp" x="121" y="187" opacity="0.60"/>
<use href="#sp" x="40" y="71" opacity="0.70"/>
<use href="#sp" x="78" y="15" opacity="0.65"/>
<use href="#sp" x="225" y="91" opacity="0.61"/>
<use href="#sp" x="215" y="135" opacity="0.64"/>
<use href="#sp" x="53" y="83" opacity="0.55"/>
<use href="#sp" x="53" y="14" opacity="0.57"/>
<use href="#sp" x="219" y="85" opacity="0.74"/>
<use href="#sp" x="249" y="190" opacity="0.56"/>
<use href="#sp" x="245" y="67" opacity="0.63"/>
<use href="#sp" x="121" y="267" opacity="0.70"/>
<use href="#sp" x="119" y="134" opacity="0.56"/>
<use href="#sp" x="70" y="4" opacity="0.76"/>
<use href="#sp" x="48" y="75" opacity="0.60"/>
<use href="#sp" x="109" y="204" opacity="0.76"/>
<use href="#sp" x="34" y="141" opacity="0.65"/>
<use href="#sp" x="285" y="23" opacity="0.68"/>
<use href="#sp" x="100" y="194" opacity="0.69"/>
<use href="#sp" x="302" y="7" opacity="0.58"/>
<use href="#sp" x="118" y="56" opacity="0.67"/>
<use href="#sp" x="236" y="91" opacity="0.73"/>
<use href="#sp" x="149" y="192" opacity="0.73"/>
<use href="#sp" x="217" y="137" opacity="0.72"/>
<use href="#sp" x="216" y="159" opacity="0.71"/>
<use href="#sp" x="103" y="148" opacity="0.59"/>
<use href="#sp" x="72" y="25" opacity="0.66"/>
<use href="#sp" x="120" y="139" opacity="0.68"/>
<use href="#sp" x="38" y="124" opacity="0.58"/>
<use href="#sp" x="229" y="90" opacity="0.74"/>
<use href="#sp" x="65" y="26" opacity="0.60"/>
<use href="#sp" x="122" y="75" opacity="0.70"/>
<use href="#sp" x="207" y="159" opacity="0.64"/>
<use href="#sp" x="34" y="74" opacity="0.62"/>
<use href="#sp" x="283" y="-1" opacity="0.80"/>
<use href="#sp" x="49" y="77" opacity="0.72"/>
<use href="#sp" x="35" y="123" opacity="0.75"/>
<use href="#sp" x="114" y="184" opacity="0.72"/>
<use href="#sp" x="30" y="89" opacity="0.71"/>
<use href="#sp" x="145" y="193" opacity="0.78"/>
<use href="#sp" x="139" y="71" opacity="0.61"/>
<use href="#sp" x="101" y="145" opacity="0.68"/>
<use href="#sp" x="134" y="253" opacity="0.64"/>
<use href="#sp" x="156" y="199" opacity="0.73"/>
<use href="#sp" x="40" y="73" opacity="0.69"/>
<use href="#sp" x="117" y="186" opacity="0.80"/>
<use href="#sp" x="110" y="129" opacity="0.65"/>
<use href="#sp" x="114" y="251" opacity="0.66"/>
<use href="#sp" x="262" y="185" opacity="0.81"/>
<use href="#sp" x="6" y="207" opacity="0.77"/>
<use href="#sp" x="102" y="133" opacity="0.70"/>
<use href="#sp" x="114" y="255" opacity="0.69"/>
<use href="#sp" x="9" y="223" opacity="0.77"/>
<use href="#sp" x="59" y="23" opacity="0.65"/>
<use href="#sp" x="220" y="153" opacity="0.78"/>
<use href="#sp" x="142" y="205" opacity="0.67"/>
<use href="#sp" x="219" y="154" opacity="0.80"/>
<use href="#sp" x="242" y="69" opacity="0.64"/>
<use href="#sp" x="48" y="79" opacity="0.83"/>
<use href="#sp" x="154" y="197" opacity="0.82"/>
<use href="#sp" x="10" y="222" opacity="0.64"/>
<use href="#sp" x="72" y="9" opacity="0.67"/>
<use href="#sp" x="132" y="74" opacity="0.84"/>
<use href="#sp" x="120" y="69" opacity="0.82"/>
<use href="#sp" x="57" y="19" opacity="0.71"/>
<use href="#sp" x="236" y="65" opacity="0.82"/>
<use href="#sp" x="113" y="132" opacity="0.78"/>
<use href="#sp" x="239" y="85" opacity="0.71"/>
<use href="#sp" x="291" y="0" opacity="0.81"/>
<use href="#sp" x="56" y="16" opacity="0.75"/>
<use href="#sp" x="118" y="192" opacity="0.70"/>
<use href="#sp" x="241" y="70" opacity="0.86"/>
<use href="#sp" x="123" y="263" opacity="0.83"/>
<use href="#sp" x="10" y="221" opacity="0.73"/>
<use href="#sp" x="65" y="23" opacity="0.77"/>
<use href="#sp" x="296" y="4" opacity="0.83"/>
<use href="#sp" x="118" y="261" opacity="0.76"/>
<use href="#sp" x="152" y="197" opacity="0.74"/>
<use href="#sp" x="298" y="8" opacity="0.80"/>
<use href="#sp" x="61" y="22" opacity="0.90"/>
<use href="#sp" x="280" y="11" opacity="0.71"/>
<use href="#sp" x="284" y="3" opacity="0.75"/>
<use href="#sp" x="218" y="149" opacity="0.80"/>
<use href="#sp" x="34" y="137" opacity="0.92"/>
<use href="#sp" x="222" y="76" opacity="0.92"/>
<use href="#sp" x="6" y="221" opacity="0.70"/>
<use href="#sp" x="235" y="85" opacity="0.84"/>
<use href="#sp" x="144" y="203" opacity="0.73"/>
<use href="#sp" x="202" y="149" opacity="0.75"/>
<use href="#sp" x="34" y="83" opacity="0.74"/>
<use href="#sp" x="34" y="84" opacity="0.82"/>
<use href="#sp" x="102" y="141" opacity="0.93"/>
<use href="#sp" x="286" y="18" opacity="0.93"/>
<use href="#sp" x="223" y="77" opacity="0.80"/>
<use href="#sp" x="37" y="130" opacity="0.92"/>
<use href="#sp" x="10" y="220" opacity="0.87"/>
<use href="#sp" x="259" y="189" opacity="0.74"/>
<use href="#sp" x="72" y="15" opacity="0.92"/>
<use href="#sp" x="115" y="190" opacity="0.78"/>
<use href="#sp" x="45" y="87" opacity="0.94"/>
<use href="#sp" x="288" y="18" opacity="0.76"/>
<use href="#sp" x="217" y="148" opacity="0.93"/>
<use href="#sp" x="36" y="87" opacity="0.84"/>
<use href="#sp" x="295" y="5" opacity="0.84"/>
<use href="#sp" x="37" y="132" opacity="0.77"/>
<use href="#sp" x="124" y="70" opacity="0.84"/>
<use href="#sp" x="224" y="72" opacity="0.91"/>
<use href="#sp" x="258" y="191" opacity="0.86"/>
<use href="#sp" x="287" y="17" opacity="0.96"/>
<use href="#sp" x="122" y="61" opacity="0.86"/>
<use href="#sp" x="215" y="143" opacity="0.95"/>
<use href="#sp" x="41" y="88" opacity="0.78"/>
<use href="#sp" x="151" y="202" opacity="0.92"/>
<use href="#sp" x="36" y="84" opacity="0.89"/>
<use href="#sp" x="71" y="14" opacity="0.95"/>
<use href="#sp" x="285" y="15" opacity="0.84"/>
<use href="#sp" x="69" y="19" opacity="0.87"/>
<use href="#sp" x="149" y="203" opacity="0.95"/>
<use href="#sp" x="215" y="145" opacity="0.83"/>
<use href="#sp" x="207" y="143" opacity="0.86"/>
<use href="#sp" x="290" y="4" opacity="0.97"/>
<use href="#sp" x="119" y="254" opacity="0.93"/>
<use href="#sp" x="35" y="130" opacity="0.89"/>
<use href="#sp" x="29" y="132" opacity="0.80"/>
<use href="#sp" x="206" y="145" opacity="0.97"/>
<use href="#sp" x="65" y="11" opacity="0.90"/>
<use href="#sp" x="128" y="69" opacity="0.86"/>
<use href="#sp" x="105" y="138" opacity="0.90"/>
<use href="#sp" x="62" y="17" opacity="0.85"/>
<use href="#sp" x="285" y="12" opacity="1.00"/>
<use href="#sp" x="112" y="137" opacity="1.00"/>
<use href="#sp" x="229" y="78" opacity="1.00"/>
<use href="#sp" x="125" y="64" opacity="0.99"/>
<use href="#sp" x="228" y="77" opacity="0.88"/>
<use href="#sp" x="287" y="8" opacity="0.94"/>
<use href="#sp" x="65" y="12" opacity="1.00"/>
<use href="#sp" x="125" y="257" opacity="0.86"/>
<use href="#sp" x="233" y="73" opacity="0.93"/>
<use href="#sp" x="123" y="254" opacity="0.90"/>
<use href="#sp" x="122" y="256" opacity="0.90"/>
<use href="#sp" x="108" y="138" opacity="0.93"/>
<use href="#sp" x="291" y="10" opacity="1.00"/>
<use href="#sb" x="59" y="17" opacity="0.77"/>
<use href="#sb" x="60" y="16" opacity="0.66"/>
<use href="#sb" x="67" y="20" opacity="0.67"/>
<use href="#sb" x="66" y="13" opacity="0.56"/>
<use href="#sb" x="72" y="20" opacity="0.69"/>
<use href="#sb" x="143" y="68" opacity="0.79"/>
<use href="#sb" x="125" y="58" opacity="0.51"/>
<use href="#sb" x="135" y="65" opacity="0.47"/>
<use href="#sb" x="130" y="68" opacity="0.46"/>
<use href="#sb" x="123" y="65" opacity="0.74"/>
<use href="#sb" x="224" y="75" opacity="0.62"/>
<use href="#sb" x="229" y="70" opacity="0.55"/>
<use href="#sb" x="252" y="76" opacity="0.74"/>
<use href="#sb" x="231" y="71" opacity="0.53"/>
<use href="#sb" x="231" y="78" opacity="0.72"/>
<use href="#sb" x="102" y="144" opacity="0.59"/>
<use href="#sb" x="117" y="137" opacity="0.45"/>
<use href="#sb" x="111" y="148" opacity="0.61"/>
<use href="#sb" x="113" y="138" opacity="0.48"/>
<use href="#sb" x="104" y="134" opacity="0.54"/>
<use href="#sb" x="214" y="150" opacity="0.79"/>
<use href="#sb" x="210" y="146" opacity="0.54"/>
<use href="#sb" x="211" y="149" opacity="0.73"/>
<use href="#sb" x="213" y="154" opacity="0.61"/>
<use href="#sb" x="213" y="155" opacity="0.50"/>
<use href="#sb" x="31" y="129" opacity="0.60"/>
<use href="#sb" x="33" y="134" opacity="0.79"/>
<use href="#sb" x="33" y="128" opacity="0.76"/>
<use href="#sb" x="33" y="135" opacity="0.75"/>
<use href="#sb" x="31" y="130" opacity="0.80"/>
<use href="#sb" x="9" y="218" opacity="0.72"/>
<use href="#sb" x="6" y="218" opacity="0.48"/>
<use href="#sb" x="12" y="218" opacity="0.54"/>
<use href="#sb" x="5" y="213" opacity="0.61"/>
<use href="#sb" x="12" y="214" opacity="0.65"/>
<use href="#sb" x="126" y="253" opacity="0.50"/>
<use href="#sb" x="131" y="250" opacity="0.54"/>
<use href="#sb" x="127" y="262" opacity="0.78"/>
<use href="#sb" x="128" y="266" opacity="0.76"/>
<use href="#sb" x="120" y="252" opacity="0.49"/>
<use href="#sb" x="302" y="13" opacity="0.53"/>
<use href="#sb" x="288" y="6" opacity="0.74"/>
<use href="#sb" x="285" y="7" opacity="0.51"/>
<use href="#sb" x="289" y="8" opacity="0.53"/>
<use href="#sb" x="279" y="6" opacity="0.67"/>
</g></g>
<rect x="0.0" y="0.0" width="35.3" height="35.2" fill="#fff"/>
<text x="9.9" y="26.2" font-size="27.3" fill="#231815" stroke="#231815" stroke-width="0.38" letter-spacing="1.9">a)</text>
<text x="233.77" y="220.6" font-size="18.3" letter-spacing="0.80" fill="#fff" stroke="none" stroke-width="0.26">500 nm</text>
<rect x="240.0" y="235.0" width="55.3" height="6.2" fill="#fff"/>
<g clip-path="url(#cb)"><g filter="url(#temf)">
<rect x="332" y="1" width="326" height="262" fill="#9c9c9c"/>
<g filter="url(#rough)">
<circle cx="639" cy="77" r="4.0" fill="rgb(108,108,108)" fill-opacity="0.7"/>
<circle cx="645" cy="79" r="2.2" fill="rgb(123,123,123)" fill-opacity="0.7"/>
<circle cx="655" cy="63" r="2.6" fill="rgb(99,99,99)" fill-opacity="0.7"/>
<circle cx="652" cy="77" r="3.2" fill="rgb(120,120,120)" fill-opacity="0.7"/>
<circle cx="650" cy="58" r="2.5" fill="rgb(125,125,125)" fill-opacity="0.7"/>
<circle cx="658" cy="69" r="3.5" fill="rgb(85,85,85)" fill-opacity="0.7"/>
<circle cx="634" cy="88" r="2.3" fill="rgb(122,122,122)" fill-opacity="0.7"/>
<circle cx="654" cy="91" r="3.1" fill="rgb(102,102,102)" fill-opacity="0.7"/>
<circle cx="652" cy="94" r="3.0" fill="rgb(112,112,112)" fill-opacity="0.7"/>
<circle cx="654" cy="72" r="4.0" fill="rgb(93,93,93)" fill-opacity="0.7"/>
<circle cx="635" cy="57" r="2.7" fill="rgb(98,98,98)" fill-opacity="0.7"/>
<circle cx="651" cy="89" r="3.0" fill="rgb(104,104,104)" fill-opacity="0.7"/>
<circle cx="655" cy="79" r="3.4" fill="rgb(119,119,119)" fill-opacity="0.7"/>
<circle cx="648" cy="95" r="3.9" fill="rgb(86,86,86)" fill-opacity="0.7"/>
<circle cx="660" cy="84" r="3.6" fill="rgb(95,95,95)" fill-opacity="0.7"/>
<circle cx="641" cy="77" r="3.3" fill="rgb(121,121,121)" fill-opacity="0.7"/>
<circle cx="652" cy="61" r="2.7" fill="rgb(121,121,121)" fill-opacity="0.7"/>
<circle cx="635" cy="74" r="4.2" fill="rgb(125,125,125)" fill-opacity="0.7"/>
<circle cx="634" cy="90" r="4.0" fill="rgb(111,111,111)" fill-opacity="0.7"/>
<circle cx="633" cy="71" r="3.9" fill="rgb(111,111,111)" fill-opacity="0.7"/>
<circle cx="633" cy="81" r="3.0" fill="rgb(87,87,87)" fill-opacity="0.7"/>
<circle cx="648" cy="78" r="3.2" fill="rgb(102,102,102)" fill-opacity="0.7"/>
<circle cx="660" cy="65" r="2.4" fill="rgb(89,89,89)" fill-opacity="0.7"/>
<circle cx="647" cy="97" r="2.8" fill="rgb(111,111,111)" fill-opacity="0.7"/>
<circle cx="639" cy="84" r="2.8" fill="rgb(106,106,106)" fill-opacity="0.7"/>
<circle cx="659" cy="95" r="3.0" fill="rgb(109,109,109)" fill-opacity="0.7"/>
<circle cx="412" cy="234" r="3.6" fill="rgb(123,123,123)" fill-opacity="0.7"/>
<circle cx="363" cy="251" r="2.7" fill="rgb(117,117,117)" fill-opacity="0.7"/>
<circle cx="397" cy="243" r="3.1" fill="rgb(104,104,104)" fill-opacity="0.7"/>
<circle cx="373" cy="231" r="2.2" fill="rgb(106,106,106)" fill-opacity="0.7"/>
<circle cx="383" cy="239" r="3.0" fill="rgb(86,86,86)" fill-opacity="0.7"/>
<circle cx="394" cy="226" r="3.5" fill="rgb(125,125,125)" fill-opacity="0.7"/>
<circle cx="386" cy="242" r="3.4" fill="rgb(107,107,107)" fill-opacity="0.7"/>
<circle cx="375" cy="237" r="2.3" fill="rgb(122,122,122)" fill-opacity="0.7"/>
<circle cx="400" cy="251" r="3.5" fill="rgb(101,101,101)" fill-opacity="0.7"/>
<circle cx="376" cy="240" r="2.9" fill="rgb(96,96,96)" fill-opacity="0.7"/>
<circle cx="377" cy="233" r="2.7" fill="rgb(123,123,123)" fill-opacity="0.7"/>
<circle cx="407" cy="225" r="4.1" fill="rgb(86,86,86)" fill-opacity="0.7"/>
<circle cx="400" cy="226" r="2.6" fill="rgb(117,117,117)" fill-opacity="0.7"/>
<circle cx="408" cy="229" r="3.6" fill="rgb(96,96,96)" fill-opacity="0.7"/>
<circle cx="398" cy="225" r="2.8" fill="rgb(123,123,123)" fill-opacity="0.7"/>
<circle cx="378" cy="247" r="3.8" fill="rgb(113,113,113)" fill-opacity="0.7"/>
<circle cx="418" cy="224" r="4.0" fill="rgb(98,98,98)" fill-opacity="0.7"/>
<circle cx="385" cy="229" r="2.3" fill="rgb(92,92,92)" fill-opacity="0.7"/>
<circle cx="417" cy="231" r="2.6" fill="rgb(121,121,121)" fill-opacity="0.7"/>
<circle cx="375" cy="246" r="3.8" fill="rgb(90,90,90)" fill-opacity="0.7"/>
<circle cx="379" cy="226" r="3.2" fill="rgb(103,103,103)" fill-opacity="0.7"/>
<circle cx="411" cy="236" r="3.0" fill="rgb(125,125,125)" fill-opacity="0.7"/>
<circle cx="383" cy="234" r="2.5" fill="rgb(111,111,111)" fill-opacity="0.7"/>
<circle cx="357" cy="250" r="4.2" fill="rgb(124,124,124)" fill-opacity="0.7"/>
<circle cx="384" cy="251" r="2.3" fill="rgb(99,99,99)" fill-opacity="0.7"/>
<circle cx="386" cy="245" r="4.1" fill="rgb(118,118,118)" fill-opacity="0.7"/>
<circle cx="391" cy="249" r="3.9" fill="rgb(89,89,89)" fill-opacity="0.7"/>
<circle cx="418" cy="226" r="2.3" fill="rgb(100,100,100)" fill-opacity="0.7"/>
<circle cx="414" cy="243" r="4.0" fill="rgb(97,97,97)" fill-opacity="0.7"/>
<circle cx="414" cy="239" r="3.2" fill="rgb(85,85,85)" fill-opacity="0.7"/>
<circle cx="365" cy="237" r="3.5" fill="rgb(100,100,100)" fill-opacity="0.7"/>
<circle cx="390" cy="234" r="2.4" fill="rgb(124,124,124)" fill-opacity="0.7"/>
<circle cx="365" cy="251" r="3.2" fill="rgb(119,119,119)" fill-opacity="0.7"/>
<circle cx="406" cy="233" r="2.4" fill="rgb(97,97,97)" fill-opacity="0.7"/>
<circle cx="413" cy="226" r="3.8" fill="rgb(100,100,100)" fill-opacity="0.7"/>
<circle cx="415" cy="246" r="3.2" fill="rgb(85,85,85)" fill-opacity="0.7"/>
<circle cx="393" cy="234" r="2.7" fill="rgb(102,102,102)" fill-opacity="0.7"/>
<circle cx="396" cy="238" r="3.1" fill="rgb(88,88,88)" fill-opacity="0.7"/>
<circle cx="406" cy="222" r="3.8" fill="rgb(88,88,88)" fill-opacity="0.7"/>
<circle cx="360" cy="223" r="4.1" fill="rgb(115,115,115)" fill-opacity="0.7"/>
<circle cx="421" cy="208" r="3.2" fill="rgb(117,117,117)" fill-opacity="0.7"/>
<circle cx="400" cy="207" r="3.5" fill="rgb(109,109,109)" fill-opacity="0.7"/>
<circle cx="413" cy="216" r="4.2" fill="rgb(97,97,97)" fill-opacity="0.7"/>
<circle cx="408" cy="209" r="3.6" fill="rgb(85,85,85)" fill-opacity="0.7"/>
<circle cx="406" cy="207" r="2.3" fill="rgb(96,96,96)" fill-opacity="0.7"/>
<circle cx="409" cy="225" r="3.0" fill="rgb(119,119,119)" fill-opacity="0.7"/>
<circle cx="419" cy="224" r="2.3" fill="rgb(112,112,112)" fill-opacity="0.7"/>
<circle cx="414" cy="228" r="3.0" fill="rgb(105,105,105)" fill-opacity="0.7"/>
<circle cx="416" cy="219" r="2.6" fill="rgb(100,100,100)" fill-opacity="0.7"/>
<circle cx="403" cy="223" r="2.6" fill="rgb(112,112,112)" fill-opacity="0.7"/>
<circle cx="399" cy="206" r="2.9" fill="rgb(105,105,105)" fill-opacity="0.7"/>
<circle cx="422" cy="229" r="2.4" fill="rgb(101,101,101)" fill-opacity="0.7"/>
<circle cx="416" cy="233" r="3.8" fill="rgb(118,118,118)" fill-opacity="0.7"/>
<circle cx="415" cy="227" r="3.3" fill="rgb(121,121,121)" fill-opacity="0.7"/>
<circle cx="419" cy="226" r="2.5" fill="rgb(115,115,115)" fill-opacity="0.7"/>
<circle cx="418" cy="206" r="3.3" fill="rgb(90,90,90)" fill-opacity="0.7"/>
<circle cx="569" cy="114.5" r="63" fill="url(#p1)"/>
<circle cx="474" cy="192" r="58.5" fill="url(#p1)"/>
<circle cx="550" cy="85" r="3.4" fill="rgb(15,15,15)" fill-opacity="0.4"/>
<circle cx="575" cy="107" r="4.2" fill="rgb(127,127,127)" fill-opacity="0.35"/>
<circle cx="598" cy="66" r="3.2" fill="rgb(33,33,33)" fill-opacity="0.4"/>
<circle cx="618" cy="145" r="3.8" fill="rgb(33,33,33)" fill-opacity="0.4"/>
<circle cx="565" cy="96" r="4.8" fill="rgb(126,126,126)" fill-opacity="0.35"/>
<circle cx="600" cy="127" r="3.0" fill="rgb(33,33,33)" fill-opacity="0.4"/>
<circle cx="620" cy="142" r="3.1" fill="rgb(35,35,35)" fill-opacity="0.4"/>
<circle cx="531" cy="81" r="3.1" fill="rgb(27,27,27)" fill-opacity="0.4"/>
<circle cx="523" cy="82" r="3.5" fill="rgb(32,32,32)" fill-opacity="0.4"/>
<circle cx="605" cy="135" r="4.6" fill="rgb(28,28,28)" fill-opacity="0.4"/>
<circle cx="606" cy="107" r="4.4" fill="rgb(33,33,33)" fill-opacity="0.4"/>
<circle cx="550" cy="77" r="2.9" fill="rgb(30,30,30)" fill-opacity="0.4"/>
<circle cx="525" cy="146" r="2.7" fill="rgb(20,20,20)" fill-opacity="0.4"/>
<circle cx="568" cy="59" r="4.9" fill="rgb(31,31,31)" fill-opacity="0.4"/>
<circle cx="523" cy="87" r="3.2" fill="rgb(19,19,19)" fill-opacity="0.4"/>
<circle cx="583" cy="157" r="4.8" fill="rgb(25,25,25)" fill-opacity="0.4"/>
<circle cx="594" cy="80" r="3.2" fill="rgb(39,39,39)" fill-opacity="0.4"/>
<circle cx="559" cy="79" r="4.0" fill="rgb(33,33,33)" fill-opacity="0.4"/>
<circle cx="566" cy="141" r="3.2" fill="rgb(121,121,121)" fill-opacity="0.35"/>
<circle cx="578" cy="90" r="3.4" fill="rgb(156,156,156)" fill-opacity="0.35"/>
<circle cx="547" cy="160" r="3.5" fill="rgb(19,19,19)" fill-opacity="0.4"/>
<circle cx="553" cy="69" r="3.7" fill="rgb(21,21,21)" fill-opacity="0.4"/>
<circle cx="596" cy="69" r="2.6" fill="rgb(32,32,32)" fill-opacity="0.4"/>
<circle cx="585" cy="114" r="4.5" fill="rgb(145,145,145)" fill-opacity="0.35"/>
<circle cx="578" cy="106" r="4.7" fill="rgb(134,134,134)" fill-opacity="0.35"/>
<circle cx="538" cy="73" r="4.9" fill="rgb(17,17,17)" fill-opacity="0.4"/>
<circle cx="586" cy="92" r="4.4" fill="rgb(132,132,132)" fill-opacity="0.35"/>
<circle cx="599" cy="149" r="4.6" fill="rgb(36,36,36)" fill-opacity="0.4"/>
<circle cx="593" cy="97" r="3.3" fill="rgb(16,16,16)" fill-opacity="0.4"/>
<circle cx="525" cy="137" r="2.8" fill="rgb(17,17,17)" fill-opacity="0.4"/>
<circle cx="564" cy="170" r="3.4" fill="rgb(16,16,16)" fill-opacity="0.4"/>
<circle cx="527" cy="91" r="2.6" fill="rgb(15,15,15)" fill-opacity="0.4"/>
<circle cx="551" cy="146" r="3.0" fill="rgb(17,17,17)" fill-opacity="0.4"/>
<circle cx="520" cy="86" r="2.8" fill="rgb(27,27,27)" fill-opacity="0.4"/>
<circle cx="546" cy="164" r="4.2" fill="rgb(17,17,17)" fill-opacity="0.4"/>
<circle cx="611" cy="150" r="2.7" fill="rgb(23,23,23)" fill-opacity="0.4"/>
<circle cx="602" cy="102" r="3.4" fill="rgb(39,39,39)" fill-opacity="0.4"/>
<circle cx="524" cy="129" r="4.1" fill="rgb(36,36,36)" fill-opacity="0.4"/>
<circle cx="579" cy="86" r="4.9" fill="rgb(39,39,39)" fill-opacity="0.4"/>
<circle cx="546" cy="152" r="2.8" fill="rgb(31,31,31)" fill-opacity="0.4"/>
<circle cx="535" cy="116" r="3.2" fill="rgb(37,37,37)" fill-opacity="0.4"/>
<circle cx="562" cy="65" r="4.1" fill="rgb(35,35,35)" fill-opacity="0.4"/>
<circle cx="552" cy="97" r="2.8" fill="rgb(149,149,149)" fill-opacity="0.35"/>
<circle cx="589" cy="105" r="4.1" fill="rgb(141,141,141)" fill-opacity="0.35"/>
<circle cx="547" cy="84" r="4.1" fill="rgb(24,24,24)" fill-opacity="0.4"/>
<circle cx="538" cy="123" r="4.3" fill="rgb(20,20,20)" fill-opacity="0.4"/>
<circle cx="588" cy="130" r="3.9" fill="rgb(155,155,155)" fill-opacity="0.35"/>
<circle cx="567" cy="80" r="3.2" fill="rgb(23,23,23)" fill-opacity="0.4"/>
<circle cx="589" cy="122" r="3.8" fill="rgb(150,150,150)" fill-opacity="0.35"/>
<circle cx="570" cy="165" r="4.7" fill="rgb(26,26,26)" fill-opacity="0.4"/>
<circle cx="606" cy="101" r="4.4" fill="rgb(40,40,40)" fill-opacity="0.4"/>
<circle cx="537" cy="157" r="2.9" fill="rgb(18,18,18)" fill-opacity="0.4"/>
<circle cx="529" cy="89" r="4.4" fill="rgb(33,33,33)" fill-opacity="0.4"/>
<circle cx="565" cy="90" r="3.9" fill="rgb(132,132,132)" fill-opacity="0.35"/>
<circle cx="552" cy="83" r="2.8" fill="rgb(38,38,38)" fill-opacity="0.4"/>
<circle cx="527" cy="81" r="3.0" fill="rgb(40,40,40)" fill-opacity="0.4"/>
<circle cx="526" cy="107" r="4.7" fill="rgb(21,21,21)" fill-opacity="0.4"/>
<circle cx="548" cy="137" r="3.6" fill="rgb(40,40,40)" fill-opacity="0.4"/>
<circle cx="525" cy="143" r="3.9" fill="rgb(25,25,25)" fill-opacity="0.4"/>
<circle cx="529" cy="91" r="4.2" fill="rgb(31,31,31)" fill-opacity="0.4"/>
<circle cx="553" cy="166" r="2.6" fill="rgb(30,30,30)" fill-opacity="0.4"/>
<circle cx="586" cy="157" r="4.4" fill="rgb(18,18,18)" fill-opacity="0.4"/>
<circle cx="548" cy="80" r="4.1" fill="rgb(31,31,31)" fill-opacity="0.4"/>
<circle cx="585" cy="163" r="2.6" fill="rgb(21,21,21)" fill-opacity="0.4"/>
<circle cx="522" cy="114" r="2.8" fill="rgb(29,29,29)" fill-opacity="0.4"/>
<circle cx="559" cy="161" r="2.8" fill="rgb(19,19,19)" fill-opacity="0.4"/>
<circle cx="581" cy="70" r="2.6" fill="rgb(16,16,16)" fill-opacity="0.4"/>
<circle cx="539" cy="87" r="3.8" fill="rgb(30,30,30)" fill-opacity="0.4"/>
<circle cx="599" cy="100" r="4.2" fill="rgb(26,26,26)" fill-opacity="0.4"/>
<circle cx="605" cy="155" r="4.4" fill="rgb(34,34,34)" fill-opacity="0.4"/>
<circle cx="489" cy="195" r="5.0" fill="rgb(141,141,141)" fill-opacity="0.35"/>
<circle cx="478" cy="206" r="3.6" fill="rgb(132,132,132)" fill-opacity="0.35"/>
<circle cx="476" cy="153" r="4.5" fill="rgb(18,18,18)" fill-opacity="0.4"/>
<circle cx="431" cy="220" r="2.9" fill="rgb(37,37,37)" fill-opacity="0.4"/>
<circle cx="427" cy="193" r="4.6" fill="rgb(32,32,32)" fill-opacity="0.4"/>
<circle cx="484" cy="230" r="3.7" fill="rgb(15,15,15)" fill-opacity="0.4"/>
<circle cx="476" cy="157" r="3.6" fill="rgb(20,20,20)" fill-opacity="0.4"/>
<circle cx="502" cy="199" r="3.6" fill="rgb(26,26,26)" fill-opacity="0.4"/>
<circle cx="451" cy="219" r="4.5" fill="rgb(15,15,15)" fill-opacity="0.4"/>
<circle cx="472" cy="226" r="3.8" fill="rgb(29,29,29)" fill-opacity="0.4"/>
<circle cx="479" cy="199" r="3.5" fill="rgb(157,157,157)" fill-opacity="0.35"/>
<circle cx="479" cy="200" r="4.0" fill="rgb(127,127,127)" fill-opacity="0.35"/>
<circle cx="451" cy="200" r="3.5" fill="rgb(121,121,121)" fill-opacity="0.35"/>
<circle cx="470" cy="201" r="3.1" fill="rgb(123,123,123)" fill-opacity="0.35"/>
<circle cx="512" cy="202" r="3.1" fill="rgb(22,22,22)" fill-opacity="0.4"/>
<circle cx="455" cy="208" r="4.1" fill="rgb(141,141,141)" fill-opacity="0.35"/>
<circle cx="463" cy="208" r="4.5" fill="rgb(123,123,123)" fill-opacity="0.35"/>
<circle cx="460" cy="246" r="4.5" fill="rgb(29,29,29)" fill-opacity="0.4"/>
<circle cx="512" cy="183" r="3.2" fill="rgb(32,32,32)" fill-opacity="0.4"/>
<circle cx="492" cy="151" r="3.3" fill="rgb(26,26,26)" fill-opacity="0.4"/>
<circle cx="509" cy="205" r="4.0" fill="rgb(17,17,17)" fill-opacity="0.4"/>
<circle cx="484" cy="192" r="2.5" fill="rgb(125,125,125)" fill-opacity="0.35"/>
<circle cx="435" cy="191" r="4.1" fill="rgb(21,21,21)" fill-opacity="0.4"/>
<circle cx="494" cy="177" r="3.3" fill="rgb(150,150,150)" fill-opacity="0.35"/>
<circle cx="441" cy="196" r="2.6" fill="rgb(36,36,36)" fill-opacity="0.4"/>
<circle cx="459" cy="233" r="2.7" fill="rgb(27,27,27)" fill-opacity="0.4"/>
<circle cx="460" cy="242" r="3.8" fill="rgb(18,18,18)" fill-opacity="0.4"/>
<circle cx="435" cy="180" r="4.8" fill="rgb(39,39,39)" fill-opacity="0.4"/>
<circle cx="496" cy="235" r="3.5" fill="rgb(38,38,38)" fill-opacity="0.4"/>
<circle cx="505" cy="179" r="3.4" fill="rgb(20,20,20)" fill-opacity="0.4"/>
<circle cx="451" cy="206" r="3.4" fill="rgb(150,150,150)" fill-opacity="0.35"/>
<circle cx="491" cy="156" r="4.0" fill="rgb(39,39,39)" fill-opacity="0.4"/>
<circle cx="465" cy="158" r="2.6" fill="rgb(30,30,30)" fill-opacity="0.4"/>
<circle cx="497" cy="235" r="2.7" fill="rgb(29,29,29)" fill-opacity="0.4"/>
<circle cx="458" cy="149" r="3.1" fill="rgb(25,25,25)" fill-opacity="0.4"/>
<circle cx="499" cy="155" r="4.7" fill="rgb(34,34,34)" fill-opacity="0.4"/>
<circle cx="424" cy="208" r="4.1" fill="rgb(38,38,38)" fill-opacity="0.4"/>
<circle cx="476" cy="192" r="3.5" fill="rgb(132,132,132)" fill-opacity="0.35"/>
<circle cx="491" cy="187" r="3.3" fill="rgb(156,156,156)" fill-opacity="0.35"/>
<circle cx="426" cy="208" r="3.1" fill="rgb(21,21,21)" fill-opacity="0.4"/>
<circle cx="495" cy="199" r="4.0" fill="rgb(129,129,129)" fill-opacity="0.35"/>
<circle cx="501" cy="194" r="3.1" fill="rgb(133,133,133)" fill-opacity="0.35"/>
<circle cx="440" cy="178" r="4.8" fill="rgb(39,39,39)" fill-opacity="0.4"/>
<circle cx="452" cy="240" r="3.0" fill="rgb(40,40,40)" fill-opacity="0.4"/>
<circle cx="481" cy="206" r="4.0" fill="rgb(127,127,127)" fill-opacity="0.35"/>
<circle cx="485" cy="178" r="2.7" fill="rgb(136,136,136)" fill-opacity="0.35"/>
<circle cx="448" cy="198" r="2.8" fill="rgb(159,159,159)" fill-opacity="0.35"/>
<circle cx="428" cy="196" r="3.4" fill="rgb(37,37,37)" fill-opacity="0.4"/>
<circle cx="444" cy="169" r="3.2" fill="rgb(18,18,18)" fill-opacity="0.4"/>
<circle cx="509" cy="179" r="3.0" fill="rgb(27,27,27)" fill-opacity="0.4"/>
<circle cx="437" cy="183" r="4.1" fill="rgb(38,38,38)" fill-opacity="0.4"/>
<circle cx="461" cy="213" r="4.8" fill="rgb(124,124,124)" fill-opacity="0.35"/>
<circle cx="461" cy="161" r="4.1" fill="rgb(40,40,40)" fill-opacity="0.4"/>
<circle cx="454" cy="176" r="4.6" fill="rgb(142,142,142)" fill-opacity="0.35"/>
<circle cx="499" cy="202" r="2.7" fill="rgb(148,148,148)" fill-opacity="0.35"/>
<circle cx="479" cy="214" r="4.3" fill="rgb(133,133,133)" fill-opacity="0.35"/>
<circle cx="513" cy="153" r="3.7" fill="rgb(34,34,34)" fill-opacity="0.4"/>
<circle cx="462" cy="142" r="4.9" fill="rgb(26,26,26)" fill-opacity="0.4"/>
<circle cx="519" cy="161" r="4.7" fill="rgb(30,30,30)" fill-opacity="0.4"/>
<circle cx="512" cy="188" r="4.8" fill="rgb(33,33,33)" fill-opacity="0.4"/>
<circle cx="460" cy="244" r="4.7" fill="rgb(20,20,20)" fill-opacity="0.4"/>
<circle cx="495" cy="196" r="3.8" fill="rgb(152,152,152)" fill-opacity="0.35"/>
<circle cx="467" cy="183" r="3.2" fill="rgb(133,133,133)" fill-opacity="0.35"/>
<circle cx="444" cy="206" r="3.0" fill="rgb(38,38,38)" fill-opacity="0.4"/>
<circle cx="478" cy="171" r="3.2" fill="rgb(148,148,148)" fill-opacity="0.35"/>
<circle cx="461" cy="200" r="3.7" fill="rgb(129,129,129)" fill-opacity="0.35"/>
<circle cx="485" cy="164" r="4.9" fill="rgb(27,27,27)" fill-opacity="0.4"/>
<circle cx="498" cy="168" r="3.6" fill="rgb(20,20,20)" fill-opacity="0.4"/>
<circle cx="510" cy="178" r="3.1" fill="rgb(32,32,32)" fill-opacity="0.4"/>
<circle cx="503" cy="184" r="3.7" fill="rgb(15,15,15)" fill-opacity="0.4"/>
</g>
</g>
<rect x="332.0" y="1.0" width="165.2" height="126.6" fill="#0b0b0b"/>
<circle cx="423.3" cy="65.9" r="44" fill="url(#glow)"/>
<g filter="url(#soft)" fill="none">
<circle cx="423.3" cy="65.9" r="17.5" stroke="#4a4a4a" stroke-width="2.4" stroke-dasharray="11 7" stroke-dashoffset="4"/>
<circle cx="423.3" cy="65.9" r="17.5" stroke="#2a2a2a" stroke-width="2"/>
<circle cx="423.3" cy="65.9" r="26" stroke="#303030" stroke-width="2.2"/>
<circle cx="423.3" cy="65.9" r="26" stroke="#3c3c3c" stroke-width="2.2" stroke-dasharray="16 25" stroke-dashoffset="10"/>
<circle cx="423.3" cy="65.9" r="40" stroke="#181818" stroke-width="2"/>
</g>
<line x1="423.3" y1="1.0" x2="423.3" y2="127.5" stroke="#242424" stroke-width="0.8"/>
<circle cx="423.3" cy="65.9" r="3.8" fill="#fff"/>
</g>
<rect x="332.0" y="0.0" width="33.6" height="34.2" fill="#fff"/>
<text x="337.7" y="26.0" font-size="27.3" fill="#231815" stroke="#231815" stroke-width="0.38" letter-spacing="1.9">b)</text>
<text x="341.80" y="105.8" font-size="12" letter-spacing="0.70" fill="#fff" stroke="none" stroke-width="0.17">2 1/nm</text>
<rect x="354.3" y="114.0" width="12.8" height="6.0" fill="#fff"/>
<text x="566.28" y="219.0" font-size="18.2" letter-spacing="0.71" fill="#fff" stroke="none" stroke-width="0.25">20 nm</text>
<rect x="580.1" y="232.8" width="28.1" height="6.1" fill="#fff"/>
<rect x="733.5" y="16.0" width="248.8" height="185.2" fill="none" stroke="#000" stroke-width="1.7"/>
<line x1="728.8" y1="197.2" x2="733.5" y2="197.2" stroke="#000" stroke-width="1.5"/>
<line x1="728.8" y1="148.2" x2="733.5" y2="148.2" stroke="#000" stroke-width="1.5"/>
<line x1="728.8" y1="99.2" x2="733.5" y2="99.2" stroke="#000" stroke-width="1.5"/>
<line x1="728.8" y1="50.2" x2="733.5" y2="50.2" stroke="#000" stroke-width="1.5"/>
<line x1="730.8" y1="172.7" x2="733.5" y2="172.7" stroke="#000" stroke-width="1.3"/>
<line x1="730.8" y1="123.7" x2="733.5" y2="123.7" stroke="#000" stroke-width="1.3"/>
<line x1="730.8" y1="74.7" x2="733.5" y2="74.7" stroke="#000" stroke-width="1.3"/>
<line x1="730.8" y1="25.7" x2="733.5" y2="25.7" stroke="#000" stroke-width="1.3"/>
<line x1="744.7" y1="201.2" x2="744.7" y2="206.0" stroke="#000" stroke-width="1.5"/>
<line x1="813.4" y1="201.2" x2="813.4" y2="206.0" stroke="#000" stroke-width="1.5"/>
<line x1="882.1" y1="201.2" x2="882.1" y2="206.0" stroke="#000" stroke-width="1.5"/>
<line x1="950.8" y1="201.2" x2="950.8" y2="206.0" stroke="#000" stroke-width="1.5"/>
<line x1="779.1" y1="201.2" x2="779.1" y2="204.0" stroke="#000" stroke-width="1.3"/>
<line x1="847.8" y1="201.2" x2="847.8" y2="204.0" stroke="#000" stroke-width="1.3"/>
<line x1="916.5" y1="201.2" x2="916.5" y2="204.0" stroke="#000" stroke-width="1.3"/>
<text x="665.7" y="29.3" font-size="27.5" fill="#120c0a" stroke="#120c0a" stroke-width="0.39">c)</text>
<text x="716.76" y="204.8" font-size="21.6" letter-spacing="0.00" fill="#120c0a" stroke="#120c0a" stroke-width="0.30">0</text>
<text x="703.64" y="155.8" font-size="21.6" letter-spacing="1.08" fill="#120c0a" stroke="#120c0a" stroke-width="0.30">50</text>
<text x="692.35" y="106.8" font-size="21.6" letter-spacing="0.18" fill="#120c0a" stroke="#120c0a" stroke-width="0.30">100</text>
<text x="692.35" y="57.8" font-size="21.6" letter-spacing="0.18" fill="#120c0a" stroke="#120c0a" stroke-width="0.30">150</text>
<text x="740.46" y="229.7" font-size="21.6" letter-spacing="0.00" fill="#120c0a" stroke="#120c0a" stroke-width="0.30">0</text>
<text x="798.46" y="229.7" font-size="21.6" letter-spacing="0.58" fill="#120c0a" stroke="#120c0a" stroke-width="0.30">0.3</text>
<text x="867.16" y="229.7" font-size="21.6" letter-spacing="0.33" fill="#120c0a" stroke="#120c0a" stroke-width="0.30">0.6</text>
<text x="936.16" y="229.7" font-size="21.6" letter-spacing="0.42" fill="#120c0a" stroke="#120c0a" stroke-width="0.30">0.9</text>
<text x="0" y="0" font-size="21.8" textLength="181.5" lengthAdjust="spacing" transform="translate(685.2,222.7) rotate(-90)" fill="#120c0a" stroke="#120c0a" stroke-width="0.31">Volume (cm<tspan font-size="13" dy="-9">3</tspan><tspan dy="9">g</tspan><tspan font-size="13" dy="-9">-1</tspan><tspan dy="9">)</tspan></text>
<line x1="772.0" y1="22.2" x2="772.0" y2="133.9" stroke="#000" stroke-width="1.4"/>
<line x1="771.3" y1="133.2" x2="921.9" y2="133.2" stroke="#000" stroke-width="1.4"/>
<line x1="769.2" y1="128.0" x2="772.0" y2="128.0" stroke="#000" stroke-width="1.1"/>
<text x="766.8" y="132.4" font-size="12.6" text-anchor="end" fill="#120c0a" stroke="#120c0a" stroke-width="0.18">0</text>
<line x1="769.2" y1="96.0" x2="772.0" y2="96.0" stroke="#000" stroke-width="1.1"/>
<text x="766.8" y="100.4" font-size="12.6" text-anchor="end" fill="#120c0a" stroke="#120c0a" stroke-width="0.18">3</text>
<line x1="769.2" y1="64.0" x2="772.0" y2="64.0" stroke="#000" stroke-width="1.1"/>
<text x="766.8" y="68.4" font-size="12.6" text-anchor="end" fill="#120c0a" stroke="#120c0a" stroke-width="0.18">6</text>
<line x1="769.2" y1="32.0" x2="772.0" y2="32.0" stroke="#000" stroke-width="1.1"/>
<text x="766.8" y="36.4" font-size="12.6" text-anchor="end" fill="#120c0a" stroke="#120c0a" stroke-width="0.18">9</text>
<line x1="770.4" y1="112.0" x2="772.0" y2="112.0" stroke="#000" stroke-width="0.9"/>
<line x1="770.4" y1="80.0" x2="772.0" y2="80.0" stroke="#000" stroke-width="0.9"/>
<line x1="770.4" y1="48.0" x2="772.0" y2="48.0" stroke="#000" stroke-width="0.9"/>
<line x1="775.7" y1="133.2" x2="775.7" y2="136.2" stroke="#000" stroke-width="1.1"/>
<text x="775.7" y="150.3" font-size="12.6" text-anchor="middle" textLength="8.0" lengthAdjust="spacing" fill="#120c0a" stroke="#120c0a" stroke-width="0.18">0</text>
<line x1="818.5" y1="133.2" x2="818.5" y2="136.2" stroke="#000" stroke-width="1.1"/>
<text x="818.5" y="150.3" font-size="12.6" text-anchor="middle" textLength="15.3" lengthAdjust="spacing" fill="#120c0a" stroke="#120c0a" stroke-width="0.18">60</text>
<line x1="861.3" y1="133.2" x2="861.3" y2="136.2" stroke="#000" stroke-width="1.1"/>
<text x="861.3" y="150.3" font-size="12.6" text-anchor="middle" textLength="22.3" lengthAdjust="spacing" fill="#120c0a" stroke="#120c0a" stroke-width="0.18">120</text>
<line x1="904.1" y1="133.2" x2="904.1" y2="136.2" stroke="#000" stroke-width="1.1"/>
<text x="904.1" y="150.3" font-size="12.6" text-anchor="middle" textLength="22.3" lengthAdjust="spacing" fill="#120c0a" stroke="#120c0a" stroke-width="0.18">180</text>
<line x1="797.1" y1="133.2" x2="797.1" y2="135.2" stroke="#000" stroke-width="0.9"/>
<line x1="839.9" y1="133.2" x2="839.9" y2="135.2" stroke="#000" stroke-width="0.9"/>
<line x1="882.7" y1="133.2" x2="882.7" y2="135.2" stroke="#000" stroke-width="0.9"/>
<text x="787.44" y="162.6" font-size="12.9" letter-spacing="0.25" fill="#120c0a" stroke="#120c0a" stroke-width="0.18">Pore diameter (nm)</text>
<text x="0" y="0" font-size="12.9" textLength="152.8" lengthAdjust="spacing" transform="translate(753.7,171.7) rotate(-90)" fill="#120c0a" stroke="#120c0a" stroke-width="0.18">dV/dD (cm<tspan font-size="7" dy="-5">3</tspan><tspan dy="5">g</tspan><tspan font-size="7" dy="-5">-1</tspan><tspan dy="5">nm</tspan><tspan font-size="7" dy="-5">-1</tspan><tspan dy="5">)X10</tspan><tspan font-size="7" dy="-5">-3</tspan></text>
<polyline points="776.7,40.1 777.3,80.0 777.7,105.6 778.3,111.3 780.8,113.0 784.8,113.2 788.0,112.0 791.0,110.1 794.0,106.5 797.1,103.6 802.0,100.8 808.2,97.5 842.8,121.3 861.1,123.5 881.5,125.6 900.0,126.6 919.1,127.4" fill="none" stroke="#000" stroke-width="1.5" stroke-linejoin="round"/>
<polyline points="790.6,187.2 813.5,186.1 820.8,185.6 847.6,183.8 859.1,174.3 870.7,173.0 882.5,171.4 893.8,169.6 905.3,167.7 916.6,165.6 923.7,164.3 929.7,162.8 936.3,160.7 942.8,157.5 948.6,152.0 956.0,134.1 963.3,66.0 965.8,53.2 968.3,48.2 972.0,44.0" fill="none" stroke="#000" stroke-width="1.4" stroke-linejoin="round"/>
<rect x="788.0" y="184.6" width="5.2" height="5.2" fill="#000"/>
<rect x="810.9" y="183.5" width="5.2" height="5.2" fill="#000"/>
<rect x="818.2" y="183.0" width="5.2" height="5.2" fill="#000"/>
<rect x="845.0" y="181.2" width="5.2" height="5.2" fill="#000"/>
<rect x="856.5" y="171.7" width="5.2" height="5.2" fill="#000"/>
<rect x="868.1" y="170.4" width="5.2" height="5.2" fill="#000"/>
<rect x="879.9" y="168.8" width="5.2" height="5.2" fill="#000"/>
<rect x="891.2" y="167.0" width="5.2" height="5.2" fill="#000"/>
<rect x="902.7" y="165.1" width="5.2" height="5.2" fill="#000"/>
<rect x="914.0" y="163.0" width="5.2" height="5.2" fill="#000"/>
<rect x="921.1" y="161.7" width="5.2" height="5.2" fill="#000"/>
<rect x="927.1" y="160.2" width="5.2" height="5.2" fill="#000"/>
<rect x="933.7" y="158.1" width="5.2" height="5.2" fill="#000"/>
<rect x="940.2" y="154.9" width="5.2" height="5.2" fill="#000"/>
<rect x="946.0" y="149.4" width="5.2" height="5.2" fill="#000"/>
<rect x="953.4" y="131.5" width="5.2" height="5.2" fill="#000"/>
<rect x="960.7" y="63.4" width="5.2" height="5.2" fill="#000"/>
<rect x="963.2" y="50.6" width="5.2" height="5.2" fill="#000"/>
<rect x="965.7" y="45.6" width="5.2" height="5.2" fill="#000"/>
<rect x="969.4" y="41.4" width="5.2" height="5.2" fill="#000"/>
<polyline points="745.5,194.0 752.0,191.4 760.4,190.1 763.1,189.5 768.3,189.0 773.0,188.5 777.5,188.2 781.4,188.0 785.9,187.7 790.1,187.2 801.9,186.4 813.5,185.9 824.7,185.3 836.0,184.5 847.6,183.8 858.3,182.7 869.9,181.9 881.4,180.9 893.0,180.1 904.0,179.0 915.3,177.7 926.6,175.6 932.3,173.8 938.1,171.9 944.2,169.3 949.9,165.1 955.2,159.3 961.2,143.1 967.6,75.5 969.9,57.6 970.6,52.0 972.0,44.0" fill="none" stroke="#f00" stroke-width="1.4" stroke-linejoin="round"/>
<circle cx="745.5" cy="194.0" r="3" fill="#f00"/>
<circle cx="752.0" cy="191.4" r="3" fill="#f00"/>
<circle cx="760.4" cy="190.1" r="3" fill="#f00"/>
<circle cx="763.1" cy="189.5" r="3" fill="#f00"/>
<circle cx="768.3" cy="189.0" r="3" fill="#f00"/>
<circle cx="773.0" cy="188.5" r="3" fill="#f00"/>
<circle cx="777.5" cy="188.2" r="3" fill="#f00"/>
<circle cx="781.4" cy="188.0" r="3" fill="#f00"/>
<circle cx="785.9" cy="187.7" r="3" fill="#f00"/>
<circle cx="790.1" cy="187.2" r="3" fill="#f00"/>
<circle cx="801.9" cy="186.4" r="3" fill="#f00"/>
<circle cx="813.5" cy="185.9" r="3" fill="#f00"/>
<circle cx="824.7" cy="185.3" r="3" fill="#f00"/>
<circle cx="836.0" cy="184.5" r="3" fill="#f00"/>
<circle cx="847.6" cy="183.8" r="3" fill="#f00"/>
<circle cx="858.3" cy="182.7" r="3" fill="#f00"/>
<circle cx="869.9" cy="181.9" r="3" fill="#f00"/>
<circle cx="881.4" cy="180.9" r="3" fill="#f00"/>
<circle cx="893.0" cy="180.1" r="3" fill="#f00"/>
<circle cx="904.0" cy="179.0" r="3" fill="#f00"/>
<circle cx="915.3" cy="177.7" r="3" fill="#f00"/>
<circle cx="926.6" cy="175.6" r="3" fill="#f00"/>
<circle cx="932.3" cy="173.8" r="3" fill="#f00"/>
<circle cx="938.1" cy="171.9" r="3" fill="#f00"/>
<circle cx="944.2" cy="169.3" r="3" fill="#f00"/>
<circle cx="949.9" cy="165.1" r="3" fill="#f00"/>
<circle cx="955.2" cy="159.3" r="3" fill="#f00"/>
<circle cx="961.2" cy="143.1" r="3" fill="#f00"/>
<circle cx="967.6" cy="75.5" r="3" fill="#f00"/>
<circle cx="969.9" cy="57.6" r="3" fill="#f00"/>
<circle cx="970.6" cy="52.0" r="3" fill="#f00"/>
<circle cx="972.0" cy="44.0" r="3" fill="#f00"/>
<rect x="79.3" y="287.1" width="386.9" height="287.7" fill="none" stroke="#231815" stroke-width="1.2"/>
<line x1="73.8" y1="552.0" x2="79.3" y2="552.0" stroke="#231815" stroke-width="1.1"/>
<line x1="73.8" y1="484.6" x2="79.3" y2="484.6" stroke="#231815" stroke-width="1.1"/>
<line x1="73.8" y1="417.3" x2="79.3" y2="417.3" stroke="#231815" stroke-width="1.1"/>
<line x1="73.8" y1="349.9" x2="79.3" y2="349.9" stroke="#231815" stroke-width="1.1"/>
<line x1="76.3" y1="518.3" x2="79.3" y2="518.3" stroke="#231815" stroke-width="1.0"/>
<line x1="76.3" y1="451.0" x2="79.3" y2="451.0" stroke="#231815" stroke-width="1.0"/>
<line x1="76.3" y1="383.6" x2="79.3" y2="383.6" stroke="#231815" stroke-width="1.0"/>
<line x1="76.3" y1="316.3" x2="79.3" y2="316.3" stroke="#231815" stroke-width="1.0"/>
<line x1="129.3" y1="574.8" x2="129.3" y2="579.8" stroke="#231815" stroke-width="1.1"/>
<line x1="230.3" y1="574.8" x2="230.3" y2="579.8" stroke="#231815" stroke-width="1.1"/>
<line x1="331.3" y1="574.8" x2="331.3" y2="579.8" stroke="#231815" stroke-width="1.1"/>
<line x1="432.3" y1="574.8" x2="432.3" y2="579.8" stroke="#231815" stroke-width="1.1"/>
<line x1="78.8" y1="574.8" x2="78.8" y2="577.6" stroke="#231815" stroke-width="1.0"/>
<line x1="179.8" y1="574.8" x2="179.8" y2="577.6" stroke="#231815" stroke-width="1.0"/>
<line x1="280.8" y1="574.8" x2="280.8" y2="577.6" stroke="#231815" stroke-width="1.0"/>
<line x1="381.8" y1="574.8" x2="381.8" y2="577.6" stroke="#231815" stroke-width="1.0"/>
<text x="10.2" y="296.6" font-size="27.3" fill="#231815" stroke="#231815" stroke-width="0.38" letter-spacing="1.9">d)</text>
<text x="57.23" y="560.4" font-size="24.8" letter-spacing="0.00" fill="#231815" stroke="#231815" stroke-width="0.35">0</text>
<text x="42.71" y="493.0" font-size="24.8" letter-spacing="0.15" fill="#231815" stroke="#231815" stroke-width="0.35">15</text>
<text x="41.26" y="425.7" font-size="24.8" letter-spacing="1.53" fill="#231815" stroke="#231815" stroke-width="0.35">30</text>
<text x="41.63" y="358.3" font-size="24.8" letter-spacing="1.23" fill="#231815" stroke="#231815" stroke-width="0.35">45</text>
<text x="108.80" y="610.8" font-size="24.8" letter-spacing="1.41" fill="#231815" stroke="#231815" stroke-width="0.35">-0.9</text>
<text x="208.70" y="610.8" font-size="24.8" letter-spacing="1.45" fill="#231815" stroke="#231815" stroke-width="0.35">-0.6</text>
<text x="310.40" y="610.8" font-size="24.8" letter-spacing="1.42" fill="#231815" stroke="#231815" stroke-width="0.35">-0.3</text>
<text x="415.43" y="610.8" font-size="24.8" letter-spacing="1.28" fill="#231815" stroke="#231815" stroke-width="0.35">0.0</text>
<text x="214.91" y="638.5" font-size="24.2" letter-spacing="1.05" fill="#231815" stroke="#231815" stroke-width="0.34">Potential / V</text>
<text x="0" y="0" font-size="24.2" textLength="98.5" lengthAdjust="spacing" transform="translate(30.2,505.8) rotate(-90)" fill="#231815" stroke="#231815" stroke-width="0.34">Current /</text>
<text x="0" y="0" font-size="24.2" textLength="32.8" lengthAdjust="spacing" transform="translate(30.2,396.0) rotate(-90)" fill="#231815" stroke="#231815" stroke-width="0.34">µA</text>
<g fill="none" stroke="#231815" stroke-width="1.15" stroke-linejoin="round">
<polyline points="97.4,544.0 100.4,544.1 103.4,544.3 106.4,544.4 109.4,544.6 112.4,544.7 115.4,544.8 118.4,544.9 121.4,545.1 124.4,545.2 127.4,545.3 130.4,545.4 133.4,545.5 136.4,545.6 139.4,545.7 142.4,545.7 145.4,545.8 148.4,545.9 151.4,546.0 154.4,546.0 157.4,546.1 160.4,546.2 163.4,546.2 166.4,546.2 169.4,546.3 172.4,546.3 175.4,546.3 178.4,546.3 181.4,546.2 184.4,546.0 187.4,545.6 187.9,545.5 188.4,545.4 188.9,545.3 189.4,545.1 189.9,545.0 190.4,544.8 190.9,544.6 191.4,544.4 191.9,544.2 192.4,544.0 192.9,543.7 193.4,543.4 193.9,543.1 194.4,542.7 194.9,542.3 195.4,541.9 195.9,541.4 196.4,540.9 196.9,540.3 197.4,539.7 197.9,539.0 198.4,538.2 198.9,537.4 199.4,536.5 199.9,535.5 200.4,534.4 200.9,533.3 201.4,532.0 201.9,530.6 202.4,529.1 202.9,527.5 203.4,525.8 203.9,523.9 204.4,521.8 204.9,519.6 205.4,517.2 205.9,514.7 206.4,511.9 206.9,509.0 207.4,505.8 207.9,502.4 208.4,498.8 208.9,495.0 209.4,490.9 209.9,486.5 210.4,481.9 210.9,477.0 211.4,471.8 211.9,466.4 212.4,460.6 212.9,454.7 213.4,448.4 213.9,441.9 214.4,435.1 214.9,428.1 215.4,420.9 215.9,413.6 216.4,406.1 216.9,398.5 217.4,390.9 217.9,383.4 218.4,375.9 218.9,368.7 219.4,361.8 219.9,355.3 220.4,349.3 220.9,344.1 221.4,339.7 221.9,336.2 222.4,333.7 222.9,332.4 223.4,332.3 223.9,334.1 224.4,338.8 224.9,346.6 225.4,357.6 225.9,371.5 226.4,387.6 226.9,405.4 227.4,424.0 227.9,442.6 228.4,460.5 228.9,477.1 229.4,491.9 229.9,504.6 230.4,515.2 230.9,523.7 231.4,530.3 231.9,535.2 232.4,538.8 232.9,541.4 233.4,543.1 233.9,544.2 234.4,544.9 234.9,545.3 235.4,545.5 235.9,545.6 236.4,545.7 236.9,545.7 237.4,545.7 237.9,545.7 238.4,545.7 238.9,545.7 239.4,545.7 239.9,545.7 240.4,545.6 243.4,545.5 246.4,545.4 249.4,545.3 252.4,545.1 255.4,545.0 258.4,544.8 261.4,544.7 264.4,544.5 267.4,544.4 270.4,544.4 273.4,544.3 276.4,544.2 279.4,544.1 282.4,544.0 285.4,543.8 288.4,543.7 291.4,543.6 294.4,543.5 297.4,543.4 300.4,543.3 303.4,543.1 306.4,543.0 309.4,542.9 312.4,542.8 315.4,542.6 318.4,542.5 321.4,542.4 324.4,542.2 327.4,542.1 330.4,541.9 333.4,541.8 336.4,541.7 339.4,541.5 342.4,541.4 345.4,541.2 348.4,541.1 351.4,540.9 354.4,540.7 357.4,540.6 360.4,540.4 363.4,540.3"/>
<polyline points="97.4,544.3 100.4,544.4 103.4,544.5 106.4,544.7 109.4,544.8 112.4,544.9 115.4,545.0 118.4,545.1 121.4,545.2 124.4,545.3 127.4,545.4 130.4,545.5 133.4,545.6 136.4,545.7 139.4,545.8 142.4,545.9 145.4,545.9 148.4,546.0 151.4,546.1 154.4,546.1 157.4,546.2 160.4,546.2 163.4,546.3 166.4,546.3 169.4,546.4 172.4,546.4 175.4,546.4 178.4,546.3 181.4,546.2 184.4,545.9 187.4,545.3 187.9,545.2 188.4,545.0 188.9,544.9 189.4,544.7 189.9,544.5 190.4,544.3 190.9,544.1 191.4,543.8 191.9,543.5 192.4,543.2 192.9,542.8 193.4,542.5 193.9,542.0 194.4,541.6 194.9,541.1 195.4,540.5 195.9,539.9 196.4,539.3 196.9,538.5 197.4,537.8 197.9,536.9 198.4,536.0 198.9,535.0 199.4,533.9 199.9,532.7 200.4,531.4 200.9,530.0 201.4,528.5 201.9,526.8 202.4,525.1 202.9,523.2 203.4,521.1 203.9,518.9 204.4,516.6 204.9,514.1 205.4,511.4 205.9,508.5 206.4,505.4 206.9,502.2 207.4,498.7 207.9,495.0 208.4,491.2 208.9,487.1 209.4,482.7 209.9,478.2 210.4,473.5 210.9,468.5 211.4,463.4 211.9,458.0 212.4,452.5 212.9,446.8 213.4,441.0 213.9,435.1 214.4,429.2 214.9,423.2 215.4,417.3 215.9,411.5 216.4,405.8 216.9,400.5 217.4,395.4 217.9,390.9 218.4,386.9 218.9,383.5 219.4,381.0 219.9,379.2 220.4,378.4 220.9,378.5 221.4,380.4 221.9,384.8 222.4,391.7 222.9,401.2 223.4,412.9 223.9,426.3 224.4,440.9 224.9,455.8 225.4,470.6 225.9,484.6 226.4,497.3 226.9,508.4 227.4,517.8 227.9,525.4 228.4,531.5 228.9,536.0 229.4,539.4 229.9,541.7 230.4,543.3 230.9,544.4 231.4,545.0 231.9,545.4 232.4,545.7 232.9,545.8 233.4,545.9 233.9,545.9 234.4,545.9 234.9,545.9 235.4,545.9 235.9,545.8 236.4,545.8 236.9,545.8 237.4,545.8 237.9,545.8 238.4,545.8 238.9,545.7 239.4,545.7 239.9,545.7 240.4,545.7 243.4,545.5 246.4,545.4 249.4,545.3 252.4,545.1 255.4,545.0 258.4,544.9 261.4,544.7 264.4,544.6 267.4,544.5 270.4,544.4 273.4,544.3 276.4,544.2 279.4,544.1 282.4,544.0 285.4,543.9 288.4,543.7 291.4,543.6 294.4,543.5 297.4,543.4 300.4,543.3 303.4,543.2 306.4,543.0 309.4,542.9 312.4,542.8 315.4,542.6 318.4,542.5 321.4,542.4 324.4,542.2 327.4,542.1 330.4,542.0 333.4,541.8 336.4,541.7 339.4,541.5 342.4,541.4 345.4,541.2 348.4,541.1 351.4,540.9 354.4,540.7 357.4,540.6 360.4,540.4 363.4,540.3"/>
<polyline points="97.4,544.5 100.4,544.7 103.4,544.8 106.4,544.9 109.4,545.0 112.4,545.1 115.4,545.2 118.4,545.3 121.4,545.4 124.4,545.5 127.4,545.6 130.4,545.7 133.4,545.8 136.4,545.8 139.4,545.9 142.4,546.0 145.4,546.1 148.4,546.1 151.4,546.2 154.4,546.2 157.4,546.3 160.4,546.3 163.4,546.4 166.4,546.4 169.4,546.4 172.4,546.4 175.4,546.4 178.4,546.3 181.4,546.2 184.4,545.9 187.4,545.3 187.9,545.1 188.4,545.0 188.9,544.8 189.4,544.6 189.9,544.4 190.4,544.2 190.9,543.9 191.4,543.6 191.9,543.3 192.4,543.0 192.9,542.6 193.4,542.2 193.9,541.8 194.4,541.3 194.9,540.8 195.4,540.2 195.9,539.6 196.4,538.9 196.9,538.1 197.4,537.3 197.9,536.4 198.4,535.5 198.9,534.5 199.4,533.4 199.9,532.2 200.4,530.9 200.9,529.5 201.4,528.0 201.9,526.3 202.4,524.6 202.9,522.7 203.4,520.7 203.9,518.6 204.4,516.3 204.9,513.9 205.4,511.3 205.9,508.6 206.4,505.7 206.9,502.6 207.4,499.4 207.9,496.0 208.4,492.5 208.9,488.7 209.4,484.8 209.9,480.8 210.4,476.6 210.9,472.3 211.4,467.9 211.9,463.4 212.4,458.8 212.9,454.2 213.4,449.6 213.9,445.1 214.4,440.7 214.9,436.4 215.4,432.4 215.9,428.6 216.4,425.3 216.9,422.4 217.4,420.0 217.9,418.3 218.4,417.2 218.9,416.9 219.4,417.4 219.9,419.7 220.4,424.0 220.9,430.4 221.4,438.7 221.9,448.6 222.4,459.6 222.9,471.3 223.4,483.0 223.9,494.3 224.4,504.7 224.9,513.9 225.4,521.8 225.9,528.3 226.4,533.4 226.9,537.4 227.4,540.3 227.9,542.3 228.4,543.7 228.9,544.7 229.4,545.2 229.9,545.6 230.4,545.8 230.9,545.9 231.4,546.0 231.9,546.0 232.4,546.0 232.9,546.0 233.4,546.0 233.9,545.9 234.4,545.9 234.9,545.9 235.4,545.9 235.9,545.9 236.4,545.9 236.9,545.8 237.4,545.8 237.9,545.8 238.4,545.8 238.9,545.8 239.4,545.7 239.9,545.7 240.4,545.7 243.4,545.6 246.4,545.4 249.4,545.3 252.4,545.2 255.4,545.0 258.4,544.9 261.4,544.7 264.4,544.6 267.4,544.5 270.4,544.4 273.4,544.3 276.4,544.2 279.4,544.1 282.4,544.0 285.4,543.9 288.4,543.8 291.4,543.6 294.4,543.5 297.4,543.4 300.4,543.3 303.4,543.2 306.4,543.0 309.4,542.9 312.4,542.8 315.4,542.7 318.4,542.5 321.4,542.4 324.4,542.2 327.4,542.1 330.4,542.0 333.4,541.8 336.4,541.7 339.4,541.5 342.4,541.4 345.4,541.2 348.4,541.1 351.4,540.9 354.4,540.8 357.4,540.6 360.4,540.4 363.4,540.3"/>
<polyline points="97.4,544.8 100.4,544.9 103.4,545.0 106.4,545.1 109.4,545.2 112.4,545.3 115.4,545.4 118.4,545.5 121.4,545.6 124.4,545.7 127.4,545.8 130.4,545.8 133.4,545.9 136.4,546.0 139.4,546.1 142.4,546.1 145.4,546.2 148.4,546.2 151.4,546.3 154.4,546.3 157.4,546.4 160.4,546.4 163.4,546.5 166.4,546.5 169.4,546.5 172.4,546.5 175.4,546.5 178.4,546.4 181.4,546.3 184.4,546.0 187.4,545.5 187.9,545.4 188.4,545.2 188.9,545.1 189.4,544.9 189.9,544.7 190.4,544.5 190.9,544.3 191.4,544.1 191.9,543.8 192.4,543.5 192.9,543.2 193.4,542.9 193.9,542.5 194.4,542.1 194.9,541.7 195.4,541.2 195.9,540.7 196.4,540.1 196.9,539.5 197.4,538.9 197.9,538.2 198.4,537.4 198.9,536.6 199.4,535.7 199.9,534.8 200.4,533.8 200.9,532.7 201.4,531.5 201.9,530.2 202.4,528.9 202.9,527.5 203.4,526.0 203.9,524.4 204.4,522.6 204.9,520.8 205.4,518.9 205.9,516.9 206.4,514.8 206.9,512.6 207.4,510.4 207.9,508.0 208.4,505.5 208.9,503.0 209.4,500.3 209.9,497.7 210.4,495.0 210.9,492.2 211.4,489.5 211.9,486.8 212.4,484.1 212.9,481.6 213.4,479.1 213.9,476.9 214.4,474.8 214.9,473.0 215.4,471.6 215.9,470.5 216.4,469.7 216.9,469.4 217.4,469.6 217.9,470.8 218.4,473.3 218.9,477.0 219.4,482.0 219.9,487.9 220.4,494.6 220.9,501.7 221.4,508.8 221.9,515.7 222.4,522.0 222.9,527.5 223.4,532.2 223.9,536.1 224.4,539.1 224.9,541.4 225.4,543.0 225.9,544.2 226.4,545.0 226.9,545.5 227.4,545.8 227.9,545.9 228.4,546.0 228.9,546.1 229.4,546.1 229.9,546.1 230.4,546.1 230.9,546.1 231.4,546.1 231.9,546.0 232.4,546.0 232.9,546.0 233.4,546.0 233.9,546.0 234.4,546.0 234.9,545.9 235.4,545.9 235.9,545.9 236.4,545.9 236.9,545.9 237.4,545.8 237.9,545.8 238.4,545.8 238.9,545.8 239.4,545.8 239.9,545.7 240.4,545.7 243.4,545.6 246.4,545.5 249.4,545.3 252.4,545.2 255.4,545.0 258.4,544.9 261.4,544.7 264.4,544.6 267.4,544.5 270.4,544.4 273.4,544.3 276.4,544.2 279.4,544.1 282.4,544.0 285.4,543.9 288.4,543.8 291.4,543.7 294.4,543.5 297.4,543.4 300.4,543.3 303.4,543.2 306.4,543.0 309.4,542.9 312.4,542.8 315.4,542.7 318.4,542.5 321.4,542.4 324.4,542.2 327.4,542.1 330.4,542.0 333.4,541.8 336.4,541.7 339.4,541.5 342.4,541.4 345.4,541.2 348.4,541.1 351.4,540.9 354.4,540.8 357.4,540.6 360.4,540.4 363.4,540.3"/>
<polyline points="97.4,545.1 100.4,545.2 103.4,545.3 106.4,545.3 109.4,545.4 112.4,545.5 115.4,545.6 118.4,545.7 121.4,545.8 124.4,545.8 127.4,545.9 130.4,546.0 133.4,546.1 136.4,546.1 139.4,546.2 142.4,546.2 145.4,546.3 148.4,546.4 151.4,546.4 154.4,546.4 157.4,546.5 160.4,546.5 163.4,546.6 166.4,546.6 169.4,546.6 172.4,546.6 175.4,546.6 178.4,546.5 181.4,546.3 184.4,546.0 187.4,545.5 187.9,545.4 188.4,545.2 188.9,545.1 189.4,544.9 189.9,544.8 190.4,544.6 190.9,544.4 191.4,544.1 191.9,543.9 192.4,543.6 192.9,543.4 193.4,543.0 193.9,542.7 194.4,542.3 194.9,542.0 195.4,541.5 195.9,541.1 196.4,540.6 196.9,540.1 197.4,539.5 197.9,538.9 198.4,538.3 198.9,537.6 199.4,536.9 199.9,536.1 200.4,535.3 200.9,534.4 201.4,533.5 201.9,532.5 202.4,531.5 202.9,530.4 203.4,529.3 203.9,528.1 204.4,526.9 204.9,525.7 205.4,524.4 205.9,523.1 206.4,521.7 206.9,520.3 207.4,518.9 207.9,517.6 208.4,516.2 208.9,514.9 209.4,513.6 209.9,512.4 210.4,511.3 210.9,510.2 211.4,509.4 211.9,508.7 212.4,508.1 212.9,507.8 213.4,507.7 213.9,507.9 214.4,508.6 214.9,510.1 215.4,512.1 215.9,514.8 216.4,518.0 216.9,521.5 217.4,525.2 217.9,528.8 218.4,532.2 218.9,535.3 219.4,538.0 219.9,540.2 220.4,542.0 220.9,543.4 221.4,544.4 221.9,545.1 222.4,545.6 222.9,545.9 223.4,546.1 223.9,546.2 224.4,546.2 224.9,546.2 225.4,546.3 225.9,546.3 226.4,546.2 226.9,546.2 227.4,546.2 227.9,546.2 228.4,546.2 228.9,546.2 229.4,546.2 229.9,546.1 230.4,546.1 230.9,546.1 231.4,546.1 231.9,546.1 232.4,546.1 232.9,546.0 233.4,546.0 233.9,546.0 234.4,546.0 234.9,546.0 235.4,545.9 235.9,545.9 236.4,545.9 236.9,545.9 237.4,545.9 237.9,545.8 238.4,545.8 238.9,545.8 239.4,545.8 239.9,545.8 240.4,545.7 243.4,545.6 246.4,545.5 249.4,545.4 252.4,545.2 255.4,545.1 258.4,544.9 261.4,544.8 264.4,544.6 267.4,544.5 270.4,544.4 273.4,544.3 276.4,544.2 279.4,544.1 282.4,544.0 285.4,543.9 288.4,543.8 291.4,543.7 294.4,543.5 297.4,543.4 300.4,543.3 303.4,543.2 306.4,543.1 309.4,542.9 312.4,542.8 315.4,542.7 318.4,542.5 321.4,542.4 324.4,542.3 327.4,542.1 330.4,542.0 333.4,541.8 336.4,541.7 339.4,541.5 342.4,541.4 345.4,541.2 348.4,541.1 351.4,540.9 354.4,540.8 357.4,540.6 360.4,540.4 363.4,540.3"/>
<polyline points="97.4,545.3 100.4,545.4 103.4,545.5 106.4,545.6 109.4,545.7 112.4,545.7 115.4,545.8 118.4,545.9 121.4,545.9 124.4,546.0 127.4,546.1 130.4,546.1 133.4,546.2 136.4,546.3 139.4,546.3 142.4,546.4 145.4,546.4 148.4,546.5 151.4,546.5 154.4,546.6 157.4,546.6 160.4,546.6 163.4,546.6 166.4,546.7 169.4,546.7 172.4,546.7 175.4,546.6 178.4,546.5 181.4,546.4 184.4,546.1 187.4,545.6 187.9,545.5 188.4,545.3 188.9,545.2 189.4,545.0 189.9,544.9 190.4,544.7 190.9,544.5 191.4,544.3 191.9,544.0 192.4,543.8 192.9,543.5 193.4,543.2 193.9,542.9 194.4,542.5 194.9,542.2 195.4,541.8 195.9,541.3 196.4,540.9 196.9,540.4 197.4,539.8 197.9,539.3 198.4,538.7 198.9,538.0 199.4,537.3 199.9,536.6 200.4,535.8 200.9,535.0 201.4,534.1 201.9,533.2 202.4,532.3 202.9,531.3 203.4,530.2 203.9,529.1 204.4,528.0 204.9,526.8 205.4,525.6 205.9,524.4 206.4,523.2 206.9,521.9 207.4,520.7 207.9,519.5 208.4,518.3 208.9,517.1 209.4,516.0 209.9,514.9 210.4,514.0 210.9,513.2 211.4,512.5 211.9,512.0 212.4,511.7 212.9,511.6 213.4,511.6 213.9,512.2 214.4,513.4 214.9,515.1 215.4,517.5 215.9,520.3 216.4,523.4 216.9,526.7 217.4,530.0 217.9,533.1 218.4,536.0 218.9,538.5 219.4,540.5 219.9,542.2 220.4,543.5 220.9,544.5 221.4,545.2 221.9,545.6 222.4,545.9 222.9,546.1 223.4,546.2 223.9,546.3 224.4,546.3 224.9,546.3 225.4,546.3 225.9,546.3 226.4,546.3 226.9,546.3 227.4,546.2 227.9,546.2 228.4,546.2 228.9,546.2 229.4,546.2 229.9,546.2 230.4,546.1 230.9,546.1 231.4,546.1 231.9,546.1 232.4,546.1 232.9,546.1 233.4,546.0 233.9,546.0 234.4,546.0 234.9,546.0 235.4,546.0 235.9,546.0 236.4,545.9 236.9,545.9 237.4,545.9 237.9,545.9 238.4,545.9 238.9,545.8 239.4,545.8 239.9,545.8 240.4,545.8 243.4,545.6 246.4,545.5 249.4,545.4 252.4,545.2 255.4,545.1 258.4,544.9 261.4,544.8 264.4,544.6 267.4,544.5 270.4,544.4 273.4,544.3 276.4,544.2 279.4,544.1 282.4,544.0 285.4,543.9 288.4,543.8 291.4,543.7 294.4,543.6 297.4,543.4 300.4,543.3 303.4,543.2 306.4,543.1 309.4,542.9 312.4,542.8 315.4,542.7 318.4,542.5 321.4,542.4 324.4,542.3 327.4,542.1 330.4,542.0 333.4,541.8 336.4,541.7 339.4,541.5 342.4,541.4 345.4,541.2 348.4,541.1 351.4,540.9 354.4,540.8 357.4,540.6 360.4,540.4 363.4,540.3"/>
<polyline points="97.4,545.6 100.4,545.7 103.4,545.7 106.4,545.8 109.4,545.9 112.4,545.9 115.4,546.0 118.4,546.1 121.4,546.1 124.4,546.2 127.4,546.2 130.4,546.3 133.4,546.4 136.4,546.4 139.4,546.5 142.4,546.5 145.4,546.5 148.4,546.6 151.4,546.6 154.4,546.7 157.4,546.7 160.4,546.7 163.4,546.7 166.4,546.7 169.4,546.7 172.4,546.7 175.4,546.7 178.4,546.6 181.4,546.5 184.4,546.2 187.4,545.7 187.9,545.6 188.4,545.4 188.9,545.3 189.4,545.1 189.9,545.0 190.4,544.8 190.9,544.6 191.4,544.4 191.9,544.2 192.4,543.9 192.9,543.7 193.4,543.4 193.9,543.1 194.4,542.7 194.9,542.4 195.4,542.0 195.9,541.6 196.4,541.1 196.9,540.7 197.4,540.2 197.9,539.6 198.4,539.1 198.9,538.4 199.4,537.8 199.9,537.1 200.4,536.4 200.9,535.6 201.4,534.8 201.9,533.9 202.4,533.1 202.9,532.1 203.4,531.2 203.9,530.2 204.4,529.1 204.9,528.1 205.4,527.0 205.9,525.9 206.4,524.8 206.9,523.7 207.4,522.6 207.9,521.5 208.4,520.5 208.9,519.5 209.4,518.6 209.9,517.8 210.4,517.1 210.9,516.5 211.4,516.0 211.9,515.7 212.4,515.6 212.9,515.7 213.4,516.2 213.9,517.2 214.4,518.8 214.9,520.9 215.4,523.3 215.9,526.1 216.4,529.0 216.9,532.0 217.4,534.7 217.9,537.3 218.4,539.5 218.9,541.3 219.4,542.8 219.9,543.9 220.4,544.8 220.9,545.4 221.4,545.8 221.9,546.0 222.4,546.2 222.9,546.3 223.4,546.3 223.9,546.3 224.4,546.3 224.9,546.3 225.4,546.3 225.9,546.3 226.4,546.3 226.9,546.3 227.4,546.3 227.9,546.3 228.4,546.2 228.9,546.2 229.4,546.2 229.9,546.2 230.4,546.2 230.9,546.2 231.4,546.1 231.9,546.1 232.4,546.1 232.9,546.1 233.4,546.1 233.9,546.1 234.4,546.0 234.9,546.0 235.4,546.0 235.9,546.0 236.4,546.0 236.9,545.9 237.4,545.9 237.9,545.9 238.4,545.9 238.9,545.9 239.4,545.8 239.9,545.8 240.4,545.8 243.4,545.7 246.4,545.5 249.4,545.4 252.4,545.2 255.4,545.1 258.4,544.9 261.4,544.8 264.4,544.6 267.4,544.5 270.4,544.4 273.4,544.3 276.4,544.2 279.4,544.1 282.4,544.0 285.4,543.9 288.4,543.8 291.4,543.7 294.4,543.6 297.4,543.4 300.4,543.3 303.4,543.2 306.4,543.1 309.4,542.9 312.4,542.8 315.4,542.7 318.4,542.5 321.4,542.4 324.4,542.3 327.4,542.1 330.4,542.0 333.4,541.8 336.4,541.7 339.4,541.5 342.4,541.4 345.4,541.2 348.4,541.1 351.4,540.9 354.4,540.8 357.4,540.6 360.4,540.4 363.4,540.3"/>
<polyline points="97.4,545.9 100.4,545.9 103.4,546.0 106.4,546.0 109.4,546.1 112.4,546.1 115.4,546.2 118.4,546.2 121.4,546.3 124.4,546.4 127.4,546.4 130.4,546.5 133.4,546.5 136.4,546.5 139.4,546.6 142.4,546.6 145.4,546.7 148.4,546.7 151.4,546.7 154.4,546.8 157.4,546.8 160.4,546.8 163.4,546.8 166.4,546.8 169.4,546.8 172.4,546.8 175.4,546.8 178.4,546.7 181.4,546.5 184.4,546.3 187.4,545.8 187.9,545.7 188.4,545.6 188.9,545.4 189.4,545.3 189.9,545.1 190.4,545.0 190.9,544.8 191.4,544.6 191.9,544.4 192.4,544.2 192.9,543.9 193.4,543.7 193.9,543.4 194.4,543.1 194.9,542.7 195.4,542.4 195.9,542.0 196.4,541.6 196.9,541.2 197.4,540.7 197.9,540.2 198.4,539.7 198.9,539.1 199.4,538.6 199.9,537.9 200.4,537.3 200.9,536.6 201.4,535.9 201.9,535.1 202.4,534.3 202.9,533.5 203.4,532.6 203.9,531.7 204.4,530.8 204.9,529.9 205.4,529.0 205.9,528.0 206.4,527.1 206.9,526.2 207.4,525.2 207.9,524.3 208.4,523.5 208.9,522.7 209.4,522.0 209.9,521.4 210.4,520.9 210.9,520.5 211.4,520.3 211.9,520.1 212.4,520.2 212.9,520.6 213.4,521.5 213.9,522.9 214.4,524.7 214.9,526.8 215.4,529.2 215.9,531.7 216.4,534.2 216.9,536.5 217.4,538.7 217.9,540.6 218.4,542.1 218.9,543.4 219.4,544.4 219.9,545.1 220.4,545.6 220.9,545.9 221.4,546.1 221.9,546.3 222.4,546.3 222.9,546.4 223.4,546.4 223.9,546.4 224.4,546.4 224.9,546.4 225.4,546.4 225.9,546.4 226.4,546.3 226.9,546.3 227.4,546.3 227.9,546.3 228.4,546.3 228.9,546.3 229.4,546.2 229.9,546.2 230.4,546.2 230.9,546.2 231.4,546.2 231.9,546.2 232.4,546.1 232.9,546.1 233.4,546.1 233.9,546.1 234.4,546.1 234.9,546.0 235.4,546.0 235.9,546.0 236.4,546.0 236.9,546.0 237.4,545.9 237.9,545.9 238.4,545.9 238.9,545.9 239.4,545.9 239.9,545.8 240.4,545.8 243.4,545.7 246.4,545.6 249.4,545.4 252.4,545.3 255.4,545.1 258.4,545.0 261.4,544.8 264.4,544.7 267.4,544.6 270.4,544.5 273.4,544.4 276.4,544.3 279.4,544.1 282.4,544.0 285.4,543.9 288.4,543.8 291.4,543.7 294.4,543.6 297.4,543.5 300.4,543.3 303.4,543.2 306.4,543.1 309.4,543.0 312.4,542.8 315.4,542.7 318.4,542.6 321.4,542.4 324.4,542.3 327.4,542.1 330.4,542.0 333.4,541.8 336.4,541.7 339.4,541.5 342.4,541.4 345.4,541.2 348.4,541.1 351.4,540.9 354.4,540.8 357.4,540.6 360.4,540.4 363.4,540.3"/>
<polyline points="97.4,546.1 100.4,546.2 103.4,546.2 106.4,546.3 109.4,546.3 112.4,546.3 115.4,546.4 118.4,546.4 121.4,546.5 124.4,546.5 127.4,546.6 130.4,546.6 133.4,546.6 136.4,546.7 139.4,546.7 142.4,546.8 145.4,546.8 148.4,546.8 151.4,546.8 154.4,546.9 157.4,546.9 160.4,546.9 163.4,546.9 166.4,546.9 169.4,546.9 172.4,546.9 175.4,546.8 178.4,546.8 181.4,546.6 184.4,546.3 187.4,545.8 187.9,545.7 188.4,545.6 188.9,545.5 189.4,545.4 189.9,545.2 190.4,545.1 190.9,544.9 191.4,544.7 191.9,544.5 192.4,544.3 192.9,544.0 193.4,543.8 193.9,543.5 194.4,543.2 194.9,542.9 195.4,542.6 195.9,542.2 196.4,541.8 196.9,541.4 197.4,541.0 197.9,540.5 198.4,540.0 198.9,539.5 199.4,538.9 199.9,538.4 200.4,537.8 200.9,537.1 201.4,536.5 201.9,535.8 202.4,535.1 202.9,534.3 203.4,533.6 203.9,532.8 204.4,532.0 204.9,531.3 205.4,530.5 205.9,529.7 206.4,528.9 206.9,528.2 207.4,527.5 207.9,526.8 208.4,526.3 208.9,525.7 209.4,525.3 209.9,525.0 210.4,524.8 210.9,524.7 211.4,524.8 211.9,525.1 212.4,525.8 212.9,527.0 213.4,528.4 213.9,530.2 214.4,532.2 214.9,534.3 215.4,536.4 215.9,538.3 216.4,540.1 216.9,541.7 217.4,543.0 217.9,544.0 218.4,544.8 218.9,545.4 219.4,545.8 219.9,546.1 220.4,546.3 220.9,546.4 221.4,546.4 221.9,546.5 222.4,546.5 222.9,546.5 223.4,546.5 223.9,546.4 224.4,546.4 224.9,546.4 225.4,546.4 225.9,546.4 226.4,546.4 226.9,546.4 227.4,546.3 227.9,546.3 228.4,546.3 228.9,546.3 229.4,546.3 229.9,546.3 230.4,546.2 230.9,546.2 231.4,546.2 231.9,546.2 232.4,546.2 232.9,546.1 233.4,546.1 233.9,546.1 234.4,546.1 234.9,546.1 235.4,546.0 235.9,546.0 236.4,546.0 236.9,546.0 237.4,546.0 237.9,545.9 238.4,545.9 238.9,545.9 239.4,545.9 239.9,545.9 240.4,545.8 243.4,545.7 246.4,545.6 249.4,545.4 252.4,545.3 255.4,545.1 258.4,545.0 261.4,544.8 264.4,544.7 267.4,544.6 270.4,544.5 273.4,544.4 276.4,544.3 279.4,544.2 282.4,544.0 285.4,543.9 288.4,543.8 291.4,543.7 294.4,543.6 297.4,543.5 300.4,543.3 303.4,543.2 306.4,543.1 309.4,543.0 312.4,542.8 315.4,542.7 318.4,542.6 321.4,542.4 324.4,542.3 327.4,542.1 330.4,542.0 333.4,541.8 336.4,541.7 339.4,541.5 342.4,541.4 345.4,541.2 348.4,541.1 351.4,540.9 354.4,540.8 357.4,540.6 360.4,540.5 363.4,540.3"/>
<polyline points="97.4,546.4 100.4,546.4 103.4,546.5 106.4,546.5 109.4,546.5 112.4,546.6 115.4,546.6 118.4,546.6 121.4,546.7 124.4,546.7 127.4,546.7 130.4,546.8 133.4,546.8 136.4,546.8 139.4,546.8 142.4,546.9 145.4,546.9 148.4,546.9 151.4,546.9 154.4,547.0 157.4,547.0 160.4,547.0 163.4,547.0 166.4,547.0 169.4,547.0 172.4,547.0 175.4,546.9 178.4,546.8 181.4,546.6 184.4,546.4 187.4,545.9 187.9,545.7 188.4,545.6 188.9,545.5 189.4,545.4 189.9,545.2 190.4,545.0 190.9,544.9 191.4,544.7 191.9,544.5 192.4,544.3 192.9,544.0 193.4,543.8 193.9,543.5 194.4,543.2 194.9,542.9 195.4,542.6 195.9,542.2 196.4,541.9 196.9,541.5 197.4,541.1 197.9,540.6 198.4,540.2 198.9,539.7 199.4,539.2 199.9,538.6 200.4,538.1 200.9,537.5 201.4,537.0 201.9,536.4 202.4,535.7 202.9,535.1 203.4,534.5 203.9,533.9 204.4,533.2 204.9,532.6 205.4,532.1 205.9,531.5 206.4,531.0 206.9,530.5 207.4,530.1 207.9,529.8 208.4,529.5 208.9,529.3 209.4,529.3 209.9,529.3 210.4,529.6 210.9,530.2 211.4,531.1 211.9,532.2 212.4,533.7 212.9,535.2 213.4,536.9 213.9,538.6 214.4,540.1 214.9,541.5 215.4,542.8 215.9,543.8 216.4,544.6 216.9,545.3 217.4,545.7 217.9,546.0 218.4,546.3 218.9,546.4 219.4,546.5 219.9,546.5 220.4,546.5 220.9,546.5 221.4,546.5 221.9,546.5 222.4,546.5 222.9,546.5 223.4,546.5 223.9,546.5 224.4,546.5 224.9,546.4 225.4,546.4 225.9,546.4 226.4,546.4 226.9,546.4 227.4,546.4 227.9,546.4 228.4,546.3 228.9,546.3 229.4,546.3 229.9,546.3 230.4,546.3 230.9,546.2 231.4,546.2 231.9,546.2 232.4,546.2 232.9,546.2 233.4,546.2 233.9,546.1 234.4,546.1 234.9,546.1 235.4,546.1 235.9,546.1 236.4,546.0 236.9,546.0 237.4,546.0 237.9,546.0 238.4,546.0 238.9,545.9 239.4,545.9 239.9,545.9 240.4,545.9 243.4,545.7 246.4,545.6 249.4,545.5 252.4,545.3 255.4,545.2 258.4,545.0 261.4,544.8 264.4,544.7 267.4,544.6 270.4,544.5 273.4,544.4 276.4,544.3 279.4,544.2 282.4,544.1 285.4,543.9 288.4,543.8 291.4,543.7 294.4,543.6 297.4,543.5 300.4,543.4 303.4,543.2 306.4,543.1 309.4,543.0 312.4,542.8 315.4,542.7 318.4,542.6 321.4,542.4 324.4,542.3 327.4,542.1 330.4,542.0 333.4,541.9 336.4,541.7 339.4,541.6 342.4,541.4 345.4,541.2 348.4,541.1 351.4,540.9 354.4,540.8 357.4,540.6 360.4,540.5 363.4,540.3"/>
<polyline points="97.4,546.7 100.4,546.7 103.4,546.7 106.4,546.7 109.4,546.7 112.4,546.8 115.4,546.8 118.4,546.8 121.4,546.8 124.4,546.9 127.4,546.9 130.4,546.9 133.4,546.9 136.4,547.0 139.4,547.0 142.4,547.0 145.4,547.0 148.4,547.0 151.4,547.1 154.4,547.1 157.4,547.1 160.4,547.1 163.4,547.1 166.4,547.1 169.4,547.1 172.4,547.0 175.4,547.0 178.4,546.9 181.4,546.7 184.4,546.4 187.4,545.9 187.9,545.8 188.4,545.7 188.9,545.6 189.4,545.5 189.9,545.3 190.4,545.2 190.9,545.0 191.4,544.8 191.9,544.6 192.4,544.4 192.9,544.2 193.4,544.0 193.9,543.8 194.4,543.5 194.9,543.2 195.4,542.9 195.9,542.6 196.4,542.3 196.9,542.0 197.4,541.6 197.9,541.2 198.4,540.8 198.9,540.4 199.4,540.0 199.9,539.6 200.4,539.1 200.9,538.7 201.4,538.2 201.9,537.7 202.4,537.3 202.9,536.8 203.4,536.3 203.9,535.9 204.4,535.5 204.9,535.1 205.4,534.8 205.9,534.4 206.4,534.2 206.9,534.0 207.4,533.9 207.9,533.8 208.4,533.9 208.9,534.1 209.4,534.5 209.9,535.2 210.4,536.0 210.9,537.1 211.4,538.3 211.9,539.5 212.4,540.7 212.9,541.9 213.4,542.9 213.9,543.9 214.4,544.6 214.9,545.2 215.4,545.7 215.9,546.0 216.4,546.3 216.9,546.4 217.4,546.5 217.9,546.6 218.4,546.6 218.9,546.6 219.4,546.6 219.9,546.6 220.4,546.6 220.9,546.6 221.4,546.6 221.9,546.6 222.4,546.6 222.9,546.5 223.4,546.5 223.9,546.5 224.4,546.5 224.9,546.5 225.4,546.5 225.9,546.4 226.4,546.4 226.9,546.4 227.4,546.4 227.9,546.4 228.4,546.4 228.9,546.3 229.4,546.3 229.9,546.3 230.4,546.3 230.9,546.3 231.4,546.3 231.9,546.2 232.4,546.2 232.9,546.2 233.4,546.2 233.9,546.2 234.4,546.1 234.9,546.1 235.4,546.1 235.9,546.1 236.4,546.1 236.9,546.0 237.4,546.0 237.9,546.0 238.4,546.0 238.9,546.0 239.4,545.9 239.9,545.9 240.4,545.9 243.4,545.8 246.4,545.6 249.4,545.5 252.4,545.3 255.4,545.2 258.4,545.0 261.4,544.9 264.4,544.7 267.4,544.6 270.4,544.5 273.4,544.4 276.4,544.3 279.4,544.2 282.4,544.1 285.4,544.0 288.4,543.8 291.4,543.7 294.4,543.6 297.4,543.5 300.4,543.4 303.4,543.2 306.4,543.1 309.4,543.0 312.4,542.8 315.4,542.7 318.4,542.6 321.4,542.4 324.4,542.3 327.4,542.1 330.4,542.0 333.4,541.9 336.4,541.7 339.4,541.6 342.4,541.4 345.4,541.3 348.4,541.1 351.4,540.9 354.4,540.8 357.4,540.6 360.4,540.5 363.4,540.3"/>
<polyline points="97.4,546.9 100.4,546.9 103.4,546.9 106.4,546.9 109.4,547.0 112.4,547.0 115.4,547.0 118.4,547.0 121.4,547.0 124.4,547.0 127.4,547.1 130.4,547.1 133.4,547.1 136.4,547.1 139.4,547.1 142.4,547.1 145.4,547.1 148.4,547.2 151.4,547.2 154.4,547.2 157.4,547.2 160.4,547.2 163.4,547.2 166.4,547.2 169.4,547.1 172.4,547.1 175.4,547.0 178.4,546.9 181.4,546.8 184.4,546.5 187.4,546.0 187.9,545.9 188.4,545.8 188.9,545.7 189.4,545.6 189.9,545.4 190.4,545.3 190.9,545.2 191.4,545.0 191.9,544.8 192.4,544.6 192.9,544.4 193.4,544.2 193.9,544.0 194.4,543.8 194.9,543.6 195.4,543.3 195.9,543.1 196.4,542.8 196.9,542.5 197.4,542.2 197.9,541.9 198.4,541.6 198.9,541.3 199.4,540.9 199.9,540.6 200.4,540.3 200.9,540.0 201.4,539.7 201.9,539.4 202.4,539.1 202.9,538.8 203.4,538.5 203.9,538.3 204.4,538.2 204.9,538.0 205.4,537.9 205.9,537.9 206.4,537.9 206.9,538.1 207.4,538.4 207.9,538.8 208.4,539.4 208.9,540.2 209.4,541.0 209.9,541.8 210.4,542.7 210.9,543.5 211.4,544.2 211.9,544.8 212.4,545.3 212.9,545.8 213.4,546.1 213.9,546.3 214.4,546.5 214.9,546.6 215.4,546.6 215.9,546.7 216.4,546.7 216.9,546.7 217.4,546.7 217.9,546.7 218.4,546.7 218.9,546.7 219.4,546.7 219.9,546.7 220.4,546.6 220.9,546.6 221.4,546.6 221.9,546.6 222.4,546.6 222.9,546.6 223.4,546.6 223.9,546.5 224.4,546.5 224.9,546.5 225.4,546.5 225.9,546.5 226.4,546.5 226.9,546.4 227.4,546.4 227.9,546.4 228.4,546.4 228.9,546.4 229.4,546.4 229.9,546.3 230.4,546.3 230.9,546.3 231.4,546.3 231.9,546.3 232.4,546.2 232.9,546.2 233.4,546.2 233.9,546.2 234.4,546.2 234.9,546.2 235.4,546.1 235.9,546.1 236.4,546.1 236.9,546.1 237.4,546.0 237.9,546.0 238.4,546.0 238.9,546.0 239.4,546.0 239.9,545.9 240.4,545.9 243.4,545.8 246.4,545.6 249.4,545.5 252.4,545.3 255.4,545.2 258.4,545.0 261.4,544.9 264.4,544.7 267.4,544.6 270.4,544.5 273.4,544.4 276.4,544.3 279.4,544.2 282.4,544.1 285.4,544.0 288.4,543.9 291.4,543.7 294.4,543.6 297.4,543.5 300.4,543.4 303.4,543.2 306.4,543.1 309.4,543.0 312.4,542.8 315.4,542.7 318.4,542.6 321.4,542.4 324.4,542.3 327.4,542.2 330.4,542.0 333.4,541.9 336.4,541.7 339.4,541.6 342.4,541.4 345.4,541.3 348.4,541.1 351.4,540.9 354.4,540.8 357.4,540.6 360.4,540.5 363.4,540.3"/>
<polyline points="97.4,547.2 100.4,547.2 103.4,547.2 106.4,547.2 109.4,547.2 112.4,547.2 115.4,547.2 118.4,547.2 121.4,547.2 124.4,547.2 127.4,547.2 130.4,547.2 133.4,547.2 136.4,547.2 139.4,547.2 142.4,547.3 145.4,547.3 148.4,547.3 151.4,547.3 154.4,547.3 157.4,547.3 160.4,547.3 163.4,547.3 166.4,547.2 169.4,547.2 172.4,547.2 175.4,547.1 178.4,547.0 181.4,546.9 184.4,546.6 187.4,546.2 187.9,546.1 188.4,546.1 188.9,546.0 189.4,545.9 189.9,545.8 190.4,545.6 190.9,545.5 191.4,545.4 191.9,545.3 192.4,545.1 192.9,545.0 193.4,544.8 193.9,544.7 194.4,544.5 194.9,544.3 195.4,544.1 195.9,544.0 196.4,543.8 196.9,543.6 197.4,543.4 197.9,543.2 198.4,543.0 198.9,542.8 199.4,542.6 199.9,542.4 200.4,542.2 200.9,542.0 201.4,541.9 201.9,541.7 202.4,541.6 202.9,541.5 203.4,541.5 203.9,541.5 204.4,541.5 204.9,541.6 205.4,541.7 205.9,542.0 206.4,542.4 206.9,542.8 207.4,543.3 207.9,543.8 208.4,544.4 208.9,544.9 209.4,545.3 209.9,545.7 210.4,546.0 210.9,546.2 211.4,546.4 211.9,546.6 212.4,546.7 212.9,546.7 213.4,546.7 213.9,546.8 214.4,546.8 214.9,546.8 215.4,546.8 215.9,546.8 216.4,546.8 216.9,546.8 217.4,546.7 217.9,546.7 218.4,546.7 218.9,546.7 219.4,546.7 219.9,546.7 220.4,546.7 220.9,546.7 221.4,546.6 221.9,546.6 222.4,546.6 222.9,546.6 223.4,546.6 223.9,546.6 224.4,546.6 224.9,546.5 225.4,546.5 225.9,546.5 226.4,546.5 226.9,546.5 227.4,546.5 227.9,546.4 228.4,546.4 228.9,546.4 229.4,546.4 229.9,546.4 230.4,546.4 230.9,546.3 231.4,546.3 231.9,546.3 232.4,546.3 232.9,546.3 233.4,546.2 233.9,546.2 234.4,546.2 234.9,546.2 235.4,546.2 235.9,546.1 236.4,546.1 236.9,546.1 237.4,546.1 237.9,546.1 238.4,546.0 238.9,546.0 239.4,546.0 239.9,546.0 240.4,545.9 243.4,545.8 246.4,545.7 249.4,545.5 252.4,545.4 255.4,545.2 258.4,545.1 261.4,544.9 264.4,544.7 267.4,544.6 270.4,544.5 273.4,544.4 276.4,544.3 279.4,544.2 282.4,544.1 285.4,544.0 288.4,543.9 291.4,543.7 294.4,543.6 297.4,543.5 300.4,543.4 303.4,543.3 306.4,543.1 309.4,543.0 312.4,542.9 315.4,542.7 318.4,542.6 321.4,542.4 324.4,542.3 327.4,542.2 330.4,542.0 333.4,541.9 336.4,541.7 339.4,541.6 342.4,541.4 345.4,541.3 348.4,541.1 351.4,540.9 354.4,540.8 357.4,540.6 360.4,540.5 363.4,540.3"/>
</g>
<text x="203.70" y="317.8" font-size="15.8" letter-spacing="0.63" fill="#231815" stroke="#231815" stroke-width="0.22">Pb(II)</text>
<text x="110.98" y="360.4" font-size="18.4" letter-spacing="0.72" fill="#231815" stroke="#231815" stroke-width="0.26">0.5 µM</text>
<text x="103.58" y="513.8" font-size="18.4" letter-spacing="1.14" fill="#231815" stroke="#231815" stroke-width="0.26">0.02</text>
<text x="152.64" y="513.8" font-size="18.4" letter-spacing="2.94" fill="#231815" stroke="#231815" stroke-width="0.26">µM</text>
<text x="236.3" y="525.2" font-size="15.8" textLength="14.5" lengthAdjust="spacing" fill="#231815" stroke="#231815" stroke-width="0.22">b)</text>
<line x1="138.2" y1="386.0" x2="138.2" y2="487.8" stroke="#231815" stroke-width="0.9"/>
<path d="M138.2 378 L140.6 388.5 L135.8 388.5 Z" fill="#231815"/>
<line x1="289.2" y1="336.0" x2="289.2" y2="462.4" stroke="#0a0605" stroke-width="1.5"/>
<line x1="288.5" y1="461.7" x2="457.0" y2="461.7" stroke="#0a0605" stroke-width="1.5"/>
<line x1="285.8" y1="461.7" x2="289.2" y2="461.7" stroke="#231815" stroke-width="1.1"/>
<text x="275.59" y="467.1" font-size="15.5" letter-spacing="0.00" fill="#231815" stroke="#231815" stroke-width="0.22">0</text>
<line x1="285.8" y1="411.9" x2="289.2" y2="411.9" stroke="#231815" stroke-width="1.1"/>
<text x="257.14" y="417.3" font-size="15.5" letter-spacing="0.70" fill="#231815" stroke="#231815" stroke-width="0.22">400</text>
<line x1="285.8" y1="362.0" x2="289.2" y2="362.0" stroke="#231815" stroke-width="1.1"/>
<text x="256.83" y="367.4" font-size="15.5" letter-spacing="0.86" fill="#231815" stroke="#231815" stroke-width="0.22">800</text>
<line x1="287.2" y1="436.8" x2="289.2" y2="436.8" stroke="#231815" stroke-width="0.9"/>
<line x1="287.2" y1="386.9" x2="289.2" y2="386.9" stroke="#231815" stroke-width="0.9"/>
<line x1="290.6" y1="461.7" x2="290.6" y2="465.2" stroke="#231815" stroke-width="1.1"/>
<text x="277.89" y="481.0" font-size="15.5" letter-spacing="1.73" fill="#231815" stroke="#231815" stroke-width="0.22">0.0</text>
<line x1="351.0" y1="461.7" x2="351.0" y2="465.2" stroke="#231815" stroke-width="1.1"/>
<text x="338.89" y="481.0" font-size="15.5" letter-spacing="1.37" fill="#231815" stroke="#231815" stroke-width="0.22">0.2</text>
<line x1="411.3" y1="461.7" x2="411.3" y2="465.2" stroke="#231815" stroke-width="1.1"/>
<text x="399.99" y="481.0" font-size="15.5" letter-spacing="1.21" fill="#231815" stroke="#231815" stroke-width="0.22">0.4</text>
<line x1="320.8" y1="461.7" x2="320.8" y2="463.8" stroke="#231815" stroke-width="0.9"/>
<line x1="381.1" y1="461.7" x2="381.1" y2="463.8" stroke="#231815" stroke-width="0.9"/>
<line x1="441.5" y1="461.7" x2="441.5" y2="463.8" stroke="#231815" stroke-width="0.9"/>
<text x="335.71" y="498.6" font-size="15.5" letter-spacing="0.51" fill="#231815" stroke="#231815" stroke-width="0.22">Conc. / µM</text>
<text x="0" y="0" font-size="15" textLength="70.5" lengthAdjust="spacing" transform="translate(247.6,438.9) rotate(-90)" fill="#231815" stroke="#231815" stroke-width="0.21">j / µA cm<tspan font-size="8.5" dy="-6">-2</tspan></text>
<text x="293.44" y="354.2" font-size="16.2" letter-spacing="0.35" fill="#231815" stroke="#231815" stroke-width="0.23">Y=-29.26+1666.02X</text>
<text x="293.8" y="375.0" font-size="16.2" textLength="68.5" lengthAdjust="spacing" fill="#231815" stroke="#231815" stroke-width="0.23">R<tspan font-size="8.5" dy="-6">2</tspan><tspan dy="6">=0.998</tspan></text>
<line x1="292.3" y1="461.7" x2="457.0" y2="350.4" stroke="#f00000" stroke-width="1.5"/>
<rect x="294.4" y="458.6" width="4.4" height="5.2" fill="#fff" stroke="#0a0605" stroke-width="1.5"/>
<rect x="297.5" y="456.5" width="4.4" height="5.2" fill="#fff" stroke="#0a0605" stroke-width="1.5"/>
<rect x="300.5" y="454.4" width="4.4" height="5.2" fill="#fff" stroke="#0a0605" stroke-width="1.5"/>
<rect x="303.5" y="452.4" width="4.4" height="5.2" fill="#fff" stroke="#0a0605" stroke-width="1.5"/>
<rect x="306.5" y="450.3" width="4.4" height="5.2" fill="#fff" stroke="#0a0605" stroke-width="1.5"/>
<rect x="309.5" y="448.2" width="4.4" height="5.2" fill="#fff" stroke="#0a0605" stroke-width="1.5"/>
<rect x="312.5" y="446.1" width="4.4" height="5.2" fill="#fff" stroke="#0a0605" stroke-width="1.5"/>
<rect x="315.6" y="444.1" width="4.4" height="5.2" fill="#fff" stroke="#0a0605" stroke-width="1.5"/>
<rect x="318.6" y="442.0" width="4.4" height="5.2" fill="#fff" stroke="#0a0605" stroke-width="1.5"/>
<line x1="351.0" y1="421.5" x2="351.0" y2="427.5" stroke="#0a0605" stroke-width="1.5"/>
<rect x="348.8" y="421.9" width="4.4" height="5.2" fill="#fff" stroke="#0a0605" stroke-width="1.5"/>
<line x1="381.1" y1="398.1" x2="381.1" y2="411.1" stroke="#0a0605" stroke-width="1.5"/>
<rect x="378.9" y="402.0" width="4.4" height="5.2" fill="#fff" stroke="#0a0605" stroke-width="1.5"/>
<line x1="411.3" y1="375.8" x2="411.3" y2="392.8" stroke="#0a0605" stroke-width="1.5"/>
<rect x="409.1" y="381.7" width="4.4" height="5.2" fill="#fff" stroke="#0a0605" stroke-width="1.5"/>
<line x1="441.5" y1="356.4" x2="441.5" y2="366.4" stroke="#0a0605" stroke-width="1.5"/>
<rect x="439.3" y="358.8" width="4.4" height="5.2" fill="#fff" stroke="#0a0605" stroke-width="1.5"/>
<rect x="595.0" y="287.3" width="385.5" height="287.3" fill="none" stroke="#231815" stroke-width="1.3"/>
<line x1="589.2" y1="574.4" x2="595.0" y2="574.4" stroke="#231815" stroke-width="1.1"/>
<line x1="589.2" y1="488.4" x2="595.0" y2="488.4" stroke="#231815" stroke-width="1.1"/>
<line x1="589.2" y1="402.4" x2="595.0" y2="402.4" stroke="#231815" stroke-width="1.1"/>
<line x1="589.2" y1="316.4" x2="595.0" y2="316.4" stroke="#231815" stroke-width="1.1"/>
<line x1="592.0" y1="531.4" x2="595.0" y2="531.4" stroke="#231815" stroke-width="1.0"/>
<line x1="592.0" y1="445.4" x2="595.0" y2="445.4" stroke="#231815" stroke-width="1.0"/>
<line x1="592.0" y1="359.4" x2="595.0" y2="359.4" stroke="#231815" stroke-width="1.0"/>
<line x1="633.0" y1="574.6" x2="633.0" y2="580.0" stroke="#231815" stroke-width="1.1"/>
<line x1="671.7" y1="574.6" x2="671.7" y2="577.6" stroke="#231815" stroke-width="1.0"/>
<line x1="710.4" y1="574.6" x2="710.4" y2="580.0" stroke="#231815" stroke-width="1.1"/>
<line x1="749.1" y1="574.6" x2="749.1" y2="577.6" stroke="#231815" stroke-width="1.0"/>
<line x1="787.7" y1="574.6" x2="787.7" y2="580.0" stroke="#231815" stroke-width="1.1"/>
<line x1="826.4" y1="574.6" x2="826.4" y2="577.6" stroke="#231815" stroke-width="1.0"/>
<line x1="865.0" y1="574.6" x2="865.0" y2="580.0" stroke="#231815" stroke-width="1.1"/>
<line x1="903.7" y1="574.6" x2="903.7" y2="577.6" stroke="#231815" stroke-width="1.0"/>
<line x1="942.3" y1="574.6" x2="942.3" y2="580.0" stroke="#231815" stroke-width="1.1"/>
<line x1="594.9" y1="574.6" x2="594.9" y2="577.6" stroke="#231815" stroke-width="1.0"/>
<text x="491.6" y="292.7" font-size="27.3" fill="#231815" stroke="#231815" stroke-width="0.38" letter-spacing="1.9">e)</text>
<text x="568.03" y="582.8" font-size="24.8" letter-spacing="0.00" fill="#231815" stroke="#231815" stroke-width="0.35">0</text>
<text x="536.74" y="496.8" font-size="24.8" letter-spacing="1.68" fill="#231815" stroke="#231815" stroke-width="0.35">600</text>
<text x="524.21" y="410.8" font-size="24.8" letter-spacing="0.70" fill="#231815" stroke="#231815" stroke-width="0.35">1200</text>
<text x="524.21" y="324.8" font-size="24.8" letter-spacing="0.70" fill="#231815" stroke="#231815" stroke-width="0.35">1800</text>
<rect x="613.2" y="334.1" width="39.6" height="240.0" fill="#818181"/>
<line x1="633.7" y1="323.1" x2="633.7" y2="345.1" stroke="#2a201c" stroke-width="1.3"/>
<line x1="631.0" y1="323.1" x2="636.4" y2="323.1" stroke="#2a201c" stroke-width="1.2"/>
<line x1="631.0" y1="345.1" x2="636.4" y2="345.1" stroke="#2a201c" stroke-width="1.2"/>
<text x="598.40" y="312.7" font-size="18.4" letter-spacing="0.90" fill="#231815" stroke="#231815" stroke-width="0.26">1666.02</text>
<rect x="690.6" y="519.3" width="39.6" height="54.8" fill="#818181"/>
<line x1="711.1" y1="514.0" x2="711.1" y2="524.6" stroke="#2a201c" stroke-width="1.3"/>
<line x1="708.4" y1="514.0" x2="713.8" y2="514.0" stroke="#2a201c" stroke-width="1.2"/>
<line x1="708.4" y1="524.6" x2="713.8" y2="524.6" stroke="#2a201c" stroke-width="1.2"/>
<text x="683.10" y="508.2" font-size="18.4" letter-spacing="1.10" fill="#231815" stroke="#231815" stroke-width="0.26">373.11</text>
<rect x="767.9" y="543.8" width="39.6" height="30.3" fill="#818181"/>
<line x1="788.4" y1="538.0" x2="788.4" y2="549.6" stroke="#2a201c" stroke-width="1.3"/>
<line x1="785.7" y1="538.0" x2="791.1" y2="538.0" stroke="#2a201c" stroke-width="1.2"/>
<line x1="785.7" y1="549.6" x2="791.1" y2="549.6" stroke="#2a201c" stroke-width="1.2"/>
<text x="757.97" y="532.0" font-size="18.4" letter-spacing="1.33" fill="#231815" stroke="#231815" stroke-width="0.26">213.32</text>
<rect x="845.2" y="562.1" width="39.6" height="12.0" fill="#818181"/>
<line x1="865.7" y1="559.6" x2="865.7" y2="564.6" stroke="#2a201c" stroke-width="1.3"/>
<line x1="863.0" y1="559.6" x2="868.4" y2="559.6" stroke="#2a201c" stroke-width="1.2"/>
<line x1="863.0" y1="564.6" x2="868.4" y2="564.6" stroke="#2a201c" stroke-width="1.2"/>
<text x="841.04" y="552.7" font-size="18.4" letter-spacing="1.11" fill="#231815" stroke="#231815" stroke-width="0.26">92.26</text>
<rect x="922.5" y="569.2" width="39.6" height="4.9" fill="#818181"/>
<line x1="943.0" y1="568.2" x2="943.0" y2="570.2" stroke="#2a201c" stroke-width="1.3"/>
<line x1="940.3" y1="568.2" x2="945.7" y2="568.2" stroke="#2a201c" stroke-width="1.2"/>
<line x1="940.3" y1="570.2" x2="945.7" y2="570.2" stroke="#2a201c" stroke-width="1.2"/>
<text x="919.20" y="560.0" font-size="18.4" letter-spacing="0.94" fill="#231815" stroke="#231815" stroke-width="0.26">33.53</text>
<text x="0" y="0" font-size="25" letter-spacing="0.9" text-anchor="middle" fill="#231815" stroke="#231815" transform="translate(642.4,615.2) rotate(-30.5)">Pb(II)</text>
<text x="0" y="0" font-size="25" letter-spacing="0.9" text-anchor="middle" fill="#231815" stroke="#231815" transform="translate(719.8,615.2) rotate(-30.5)">Hg(II)</text>
<text x="0" y="0" font-size="25" letter-spacing="0.9" text-anchor="middle" fill="#231815" stroke="#231815" transform="translate(797.1,615.2) rotate(-30.5)">Cd(II)</text>
<text x="0" y="0" font-size="25" letter-spacing="0.9" text-anchor="middle" fill="#231815" stroke="#231815" transform="translate(874.4,615.2) rotate(-30.5)">Cu(II)</text>
<text x="0" y="0" font-size="25" letter-spacing="0.9" text-anchor="middle" fill="#231815" stroke="#231815" transform="translate(951.7,615.2) rotate(-30.5)">Zn(II)</text>
<text x="0" y="0" font-size="24.5" textLength="276.0" lengthAdjust="spacing" transform="translate(512.3,584.6) rotate(-90)" fill="#231815" stroke="#231815" stroke-width="0.34">Sensitivity / µA µM<tspan font-size="13" dy="-9">-1</tspan><tspan dy="9">cm</tspan><tspan font-size="13" dy="-9">-2</tspan></text>
<line x1="753.3" y1="296.2" x2="753.3" y2="461.0" stroke="#231815" stroke-width="1.3"/>
<line x1="752.7" y1="460.4" x2="974.2" y2="460.4" stroke="#231815" stroke-width="1.3"/>
<line x1="749.5" y1="460.4" x2="753.3" y2="460.4" stroke="#231815" stroke-width="1.1"/>
<text x="711.03" y="465.6" font-size="14.7" letter-spacing="2.15" fill="#231815" stroke="#231815" stroke-width="0.21">0.00</text>
<line x1="749.5" y1="417.4" x2="753.3" y2="417.4" stroke="#231815" stroke-width="1.1"/>
<text x="711.03" y="422.6" font-size="14.7" letter-spacing="2.17" fill="#231815" stroke="#231815" stroke-width="0.21">0.03</text>
<line x1="749.5" y1="374.4" x2="753.3" y2="374.4" stroke="#231815" stroke-width="1.1"/>
<text x="711.03" y="379.6" font-size="14.7" letter-spacing="2.17" fill="#231815" stroke="#231815" stroke-width="0.21">0.06</text>
<line x1="749.5" y1="331.4" x2="753.3" y2="331.4" stroke="#231815" stroke-width="1.1"/>
<text x="711.03" y="336.6" font-size="14.7" letter-spacing="2.19" fill="#231815" stroke="#231815" stroke-width="0.21">0.09</text>
<line x1="751.2" y1="438.9" x2="753.3" y2="438.9" stroke="#231815" stroke-width="0.9"/>
<line x1="751.2" y1="395.9" x2="753.3" y2="395.9" stroke="#231815" stroke-width="0.9"/>
<line x1="751.2" y1="352.9" x2="753.3" y2="352.9" stroke="#231815" stroke-width="0.9"/>
<line x1="751.2" y1="309.9" x2="753.3" y2="309.9" stroke="#231815" stroke-width="0.9"/>
<text x="0" y="0" font-size="15.3" textLength="72.0" lengthAdjust="spacing" transform="translate(697.2,424.6) rotate(-90)" fill="#231815" stroke="#231815" stroke-width="0.21">LOD / µM</text>
<rect x="763.8" y="451.7" width="22.4" height="8.7" fill="#ff0000" stroke="#1a0f0c" stroke-width="1.2"/>
<line x1="775.0" y1="449.5" x2="775.0" y2="453.9" stroke="#1a0f0c" stroke-width="1.3"/>
<line x1="773.2" y1="449.5" x2="776.8" y2="449.5" stroke="#1a0f0c" stroke-width="1.1"/>
<line x1="773.2" y1="453.9" x2="776.8" y2="453.9" stroke="#1a0f0c" stroke-width="1.1"/>
<line x1="775.0" y1="460.4" x2="775.0" y2="463.6" stroke="#231815" stroke-width="1.0"/>
<text x="757.98" y="440.4" font-size="13.3" letter-spacing="1.06" fill="#231815" stroke="#231815" stroke-width="0.19">0.006</text>
<text x="0" y="0" font-size="16.3" letter-spacing="0.7" text-anchor="middle" fill="#231815" stroke="#231815" stroke-width="0.22" transform="translate(777.8,490.7) rotate(-29)">Pb(II)</text>
<rect x="808.1" y="434.2" width="22.4" height="26.2" fill="#ff0000" stroke="#1a0f0c" stroke-width="1.2"/>
<line x1="819.3" y1="430.3" x2="819.3" y2="438.1" stroke="#1a0f0c" stroke-width="1.3"/>
<line x1="817.5" y1="430.3" x2="821.1" y2="430.3" stroke="#1a0f0c" stroke-width="1.1"/>
<line x1="817.5" y1="438.1" x2="821.1" y2="438.1" stroke="#1a0f0c" stroke-width="1.1"/>
<line x1="819.3" y1="460.4" x2="819.3" y2="463.6" stroke="#231815" stroke-width="1.0"/>
<text x="802.48" y="418.9" font-size="13.3" letter-spacing="1.05" fill="#231815" stroke="#231815" stroke-width="0.19">0.018</text>
<text x="0" y="0" font-size="16.3" letter-spacing="0.7" text-anchor="middle" fill="#231815" stroke="#231815" stroke-width="0.22" transform="translate(822.1,490.7) rotate(-29)">Hg(II)</text>
<rect x="852.5" y="426.2" width="22.4" height="34.2" fill="#ff0000" stroke="#1a0f0c" stroke-width="1.2"/>
<line x1="863.7" y1="420.7" x2="863.7" y2="431.7" stroke="#1a0f0c" stroke-width="1.3"/>
<line x1="861.9" y1="420.7" x2="865.5" y2="420.7" stroke="#1a0f0c" stroke-width="1.1"/>
<line x1="861.9" y1="431.7" x2="865.5" y2="431.7" stroke="#1a0f0c" stroke-width="1.1"/>
<line x1="863.7" y1="460.4" x2="863.7" y2="463.6" stroke="#231815" stroke-width="1.0"/>
<text x="846.18" y="409.9" font-size="13.3" letter-spacing="1.01" fill="#231815" stroke="#231815" stroke-width="0.19">0.024</text>
<text x="0" y="0" font-size="16.3" letter-spacing="0.7" text-anchor="middle" fill="#231815" stroke="#231815" stroke-width="0.22" transform="translate(866.5,490.7) rotate(-29)">Cd(II)</text>
<rect x="896.8" y="423.1" width="22.4" height="37.3" fill="#ff0000" stroke="#1a0f0c" stroke-width="1.2"/>
<line x1="908.0" y1="415.6" x2="908.0" y2="430.6" stroke="#1a0f0c" stroke-width="1.3"/>
<line x1="906.2" y1="415.6" x2="909.8" y2="415.6" stroke="#1a0f0c" stroke-width="1.1"/>
<line x1="906.2" y1="430.6" x2="909.8" y2="430.6" stroke="#1a0f0c" stroke-width="1.1"/>
<line x1="908.0" y1="460.4" x2="908.0" y2="463.6" stroke="#231815" stroke-width="1.0"/>
<text x="890.88" y="406.8" font-size="13.3" letter-spacing="1.06" fill="#231815" stroke="#231815" stroke-width="0.19">0.026</text>
<text x="0" y="0" font-size="16.3" letter-spacing="0.7" text-anchor="middle" fill="#231815" stroke="#231815" stroke-width="0.22" transform="translate(910.8,490.7) rotate(-29)">Cu(II)</text>
<rect x="941.0" y="336.9" width="22.4" height="123.5" fill="#ff0000" stroke="#1a0f0c" stroke-width="1.2"/>
<line x1="952.2" y1="328.4" x2="952.2" y2="345.4" stroke="#1a0f0c" stroke-width="1.3"/>
<line x1="950.4" y1="328.4" x2="954.0" y2="328.4" stroke="#1a0f0c" stroke-width="1.1"/>
<line x1="950.4" y1="345.4" x2="954.0" y2="345.4" stroke="#1a0f0c" stroke-width="1.1"/>
<line x1="952.2" y1="460.4" x2="952.2" y2="463.6" stroke="#231815" stroke-width="1.0"/>
<text x="933.38" y="321.6" font-size="13.3" letter-spacing="1.05" fill="#231815" stroke="#231815" stroke-width="0.19">0.085</text>
<text x="0" y="0" font-size="16.3" letter-spacing="0.7" text-anchor="middle" fill="#231815" stroke="#231815" stroke-width="0.22" transform="translate(955.0,490.7) rotate(-29)">Zn(II)</text>
<rect x="76.3" y="659.1" width="386.0" height="287.6" fill="none" stroke="#231815" stroke-width="1.3"/>
<line x1="104.0" y1="946.7" x2="104.0" y2="952.2" stroke="#231815" stroke-width="1.1"/>
<line x1="195.8" y1="946.7" x2="195.8" y2="952.2" stroke="#231815" stroke-width="1.1"/>
<line x1="287.6" y1="946.7" x2="287.6" y2="952.2" stroke="#231815" stroke-width="1.1"/>
<line x1="379.4" y1="946.7" x2="379.4" y2="952.2" stroke="#231815" stroke-width="1.1"/>
<line x1="149.9" y1="946.7" x2="149.9" y2="949.7" stroke="#231815" stroke-width="1.0"/>
<line x1="241.7" y1="946.7" x2="241.7" y2="949.7" stroke="#231815" stroke-width="1.0"/>
<line x1="333.5" y1="946.7" x2="333.5" y2="949.7" stroke="#231815" stroke-width="1.0"/>
<line x1="425.3" y1="946.7" x2="425.3" y2="949.7" stroke="#231815" stroke-width="1.0"/>
<text x="9.7" y="663.7" font-size="27.3" fill="#231815" stroke="#231815" stroke-width="0.38" letter-spacing="1.9">f)</text>
<text x="85.31" y="978.5" font-size="24.8" letter-spacing="0.43" fill="#231815" stroke="#231815" stroke-width="0.35">135</text>
<text x="175.81" y="978.5" font-size="24.8" letter-spacing="1.54" fill="#231815" stroke="#231815" stroke-width="0.35">140</text>
<text x="269.51" y="978.5" font-size="24.8" letter-spacing="1.43" fill="#231815" stroke="#231815" stroke-width="0.35">145</text>
<text x="359.01" y="978.5" font-size="24.8" letter-spacing="1.34" fill="#231815" stroke="#231815" stroke-width="0.35">150</text>
<text x="153.51" y="999.0" font-size="24.2" letter-spacing="0.92" fill="#231815" stroke="#231815" stroke-width="0.34">Binding energy / eV</text>
<text x="0" y="0" font-size="24.2" textLength="189.3" lengthAdjust="spacing" transform="translate(30.2,896.9) rotate(-90)" fill="#231815" stroke="#231815" stroke-width="0.34">Intensity / arb.u.</text>
<polyline points="89.5,920.8 91.0,921.1 92.5,920.8 94.0,920.9 95.5,920.5 97.0,920.5 98.5,920.7 100.0,921.3 101.5,921.3 103.0,920.4 104.5,920.4 106.0,920.6 107.5,920.5 109.0,919.8 110.5,919.6 112.0,920.0 113.5,919.8 115.0,919.9 116.5,919.5 118.0,919.3 119.5,919.1 121.0,918.8 122.5,919.1 124.0,918.4 125.5,918.7 127.0,918.2 128.5,918.2 130.0,918.4 131.5,918.5 133.0,918.4 134.5,917.9 136.0,917.6 137.5,917.2 139.0,916.8 140.5,916.6 142.0,916.4 143.5,916.7 145.0,916.1 146.5,916.2 148.0,915.5 149.5,915.3 151.0,913.4 152.5,911.5 154.0,909.0 155.5,907.1 157.0,904.3 158.5,900.8 160.0,896.4 161.5,891.6 163.0,886.3 164.5,880.9 166.0,875.4 167.5,870.3 169.0,865.4 170.5,861.2 172.0,858.0 173.5,856.2 175.0,855.7 176.5,855.8 178.0,856.6 179.5,858.2 181.0,860.5 182.5,863.2 184.0,866.3 185.5,869.8 187.0,873.6 188.5,877.4 190.0,881.0 191.5,884.7 193.0,888.1 194.5,891.9 196.0,895.2 197.5,898.5 199.0,901.1 200.5,903.4 202.0,905.7 203.5,907.8 205.0,909.7 206.5,911.1 208.0,912.4 209.5,913.4 211.0,914.3 212.5,915.0 214.0,915.6 215.5,916.3 217.0,916.9 218.5,917.2 220.0,917.3 221.5,917.4 223.0,917.6 224.5,917.7 226.0,917.6 227.5,917.3 229.0,917.0 230.5,916.8 232.0,916.6 233.5,916.3 235.0,915.7 236.5,914.8 238.0,914.0 239.5,913.1 241.0,911.9 242.5,910.2 244.0,908.4 245.5,906.1 247.0,903.3 248.5,900.4 250.0,897.0 251.5,893.5 253.0,889.6 254.5,885.9 256.0,882.4 257.5,878.9 259.0,875.8 260.5,873.3 262.0,871.4 263.5,870.3 265.0,870.2 266.5,870.7 268.0,871.5 269.5,872.7 271.0,874.4 272.5,876.6 274.0,879.2 275.5,881.9 277.0,884.8 278.5,887.7 280.0,890.6 281.5,893.5 283.0,896.4 284.5,898.7 286.0,901.0 287.5,903.2 289.0,905.3 290.5,907.2 292.0,908.8 293.5,910.0 295.0,911.2 296.5,912.2 298.0,913.2 299.5,913.8 301.0,915.0 302.5,915.1 304.0,916.1 305.5,916.2 307.0,916.8 308.5,916.5 310.0,915.9 311.5,915.5 313.0,915.4 314.5,916.0 316.0,916.5 317.5,916.7 319.0,916.2 320.5,915.2 322.0,915.2 323.5,915.6 325.0,915.5 326.5,915.7 328.0,915.1 329.5,915.1 331.0,915.3 332.5,915.5 334.0,916.3 335.5,915.7 337.0,915.2 338.5,914.3 340.0,914.1 341.5,914.7 343.0,915.3 344.5,915.6 346.0,915.6 347.5,914.9 349.0,914.5 350.5,914.1 352.0,914.4 353.5,914.2 355.0,914.4 356.5,914.3 358.0,914.0 359.5,914.3 361.0,914.5 362.5,915.4 364.0,915.3 365.5,915.4 367.0,915.6 368.5,915.2 370.0,914.8 371.5,913.5 373.0,913.9 374.5,914.1 376.0,914.8 377.5,915.1 379.0,914.7 380.5,914.2 382.0,913.9 383.5,914.6 385.0,914.9 386.5,914.1 388.0,913.5 389.5,913.9 391.0,914.4 392.5,914.5 394.0,914.0 395.5,914.1 397.0,914.3 398.5,914.6 400.0,914.9 401.5,915.1 403.0,914.7 404.5,913.9 406.0,913.9 407.5,914.4 409.0,915.2 410.5,914.5 412.0,914.6 413.5,914.5 415.0,914.3 416.5,913.7 418.0,913.3 419.5,913.4 421.0,914.0 422.5,913.6 424.0,914.2 425.5,913.5 427.0,913.5 428.5,912.9 430.0,913.1 431.5,913.7 433.0,913.7 434.5,913.9 436.0,913.4 437.5,913.9 439.0,913.5 440.5,913.3 442.0,912.7 443.5,912.3 445.0,912.9 446.5,913.2 448.0,913.3" fill="none" stroke="#d7261e" stroke-width="1.3" stroke-linejoin="round"/>
<polyline points="91.2,927.8 92.7,927.7 94.2,927.3 95.7,927.1 97.2,927.0 98.7,926.9 100.2,926.6 101.7,926.2 103.2,925.8 104.7,925.5 106.2,925.4 107.7,925.2 109.2,925.2 110.7,924.8 112.2,924.7 113.7,924.2 115.2,924.2 116.7,924.2 118.2,924.3 119.7,923.9 121.2,923.4 122.7,923.0 124.2,922.8 125.7,922.6 127.2,922.6 128.7,922.3 130.2,922.1 131.7,921.8 133.2,921.5 134.7,921.6 136.2,921.2 137.7,921.2 139.2,920.7 140.7,920.5 142.2,920.0 143.7,919.6 145.2,919.4 146.7,918.9 148.2,918.7 149.7,917.7 151.2,917.1 152.7,916.0 154.2,914.6 155.7,912.6 157.2,910.0 158.7,906.8 160.2,902.5 161.7,897.7 163.2,891.9 164.7,885.0 166.2,876.7 167.7,867.2 169.2,856.5 170.7,844.7 172.2,832.0 173.7,818.5 175.2,804.8 176.7,791.2 178.2,778.1 179.7,766.0 181.2,755.5 182.7,746.9 184.2,740.6 185.7,736.9 187.2,736.0 188.7,737.8 190.2,742.0 191.7,748.5 193.2,757.1 194.7,767.3 196.2,778.9 197.7,791.3 199.2,804.3 200.7,817.3 202.2,830.0 203.7,842.2 205.2,853.6 206.7,864.0 208.2,873.4 209.7,881.6 211.2,888.8 212.7,895.1 214.2,900.2 215.7,904.5 217.2,908.3 218.7,911.4 220.2,913.7 221.7,915.7 223.2,917.3 224.7,918.6 226.2,919.5 227.7,920.1 229.2,920.4 230.7,920.5 232.2,920.6 233.7,920.4 235.2,919.9 236.7,919.3 238.2,918.8 239.7,917.9 241.2,916.7 242.7,915.0 244.2,913.1 245.7,910.8 247.2,908.3 248.7,905.2 250.2,901.3 251.7,896.8 253.2,891.9 254.7,886.1 256.2,878.8 257.7,870.9 259.2,862.1 260.7,852.6 262.2,842.6 263.7,832.2 265.2,821.8 266.7,811.6 268.2,802.0 269.7,793.5 271.2,786.2 272.7,780.5 274.2,776.7 275.7,774.9 277.2,775.2 278.7,777.4 280.2,781.3 281.7,787.0 283.2,794.0 284.7,802.2 286.2,811.2 287.7,820.8 289.2,830.6 290.7,840.4 292.2,850.0 293.7,859.0 295.2,867.4 296.7,875.0 298.2,881.8 299.7,887.7 301.2,893.1 302.7,897.3 304.2,900.6 305.7,903.2 307.2,905.5 308.7,907.4 310.2,908.9 311.7,910.3 313.2,911.1 314.7,911.7 316.2,912.0 317.7,912.2 319.2,912.5 320.7,912.5 322.2,912.5 323.7,912.4 325.2,912.5 326.7,912.7 328.2,912.9 329.7,912.7 331.2,912.6 332.7,912.9 334.2,913.6 335.7,913.7 337.2,912.7 338.7,912.4 340.2,911.6 341.7,912.4 343.2,912.0 344.7,912.7 346.2,912.1 347.7,912.6 349.2,912.2 350.7,911.9 352.2,911.6 353.7,911.5 355.2,912.4 356.7,912.3 358.2,912.5 359.7,912.1 361.2,912.7 362.7,912.3 364.2,912.3 365.7,911.8 367.2,912.5 368.7,912.8 370.2,912.6 371.7,912.5 373.2,911.9 374.7,912.1 376.2,911.2 377.7,911.4 379.2,911.7 380.7,911.9 382.2,911.2 383.7,911.1 385.2,910.7 386.7,910.3 388.2,909.2 389.7,909.8 391.2,910.4 392.7,910.7 394.2,910.3 395.7,909.4 397.2,909.5 398.7,909.1 400.2,909.5 401.7,909.1 403.2,908.9 404.7,908.5 406.2,908.0 407.7,907.9 409.2,907.8 410.7,908.3 412.2,908.6 413.7,909.0 415.2,908.6 416.7,907.8 418.2,907.3 419.7,907.2 421.2,907.5 422.7,908.0 424.2,907.4 425.7,907.1 427.2,906.5 428.7,907.0 430.2,907.3 431.7,907.5 433.2,907.2 434.7,907.0 436.2,906.7 437.7,906.8 439.2,906.6 440.7,906.5 442.2,905.7 443.7,905.8 445.2,905.3 446.7,905.6 448.2,905.3 449.7,905.8" fill="none" stroke="#1a1311" stroke-width="1.3" stroke-linejoin="round"/>
<line x1="235.1" y1="681.7" x2="264.8" y2="681.7" stroke="#1a1311" stroke-width="1.6"/>
<line x1="235.1" y1="712.0" x2="264.8" y2="712.0" stroke="#e60012" stroke-width="1.6"/>
<text x="279.1" y="686.4" font-size="16.8" textLength="66.3" lengthAdjust="spacing" fill="#231815" stroke="#231815" stroke-width="0.24">Pb(NO<tspan font-size="7.5" dy="3">3</tspan><tspan dy="-3">)</tspan><tspan font-size="7.5" dy="3">2</tspan></text>
<text x="278.75" y="716.3" font-size="16.8" letter-spacing="0.05" fill="#231815" stroke="#231815" stroke-width="0.24">Ce-Zr oxide/Pb(II)</text>
<text x="165.6" y="727.1" font-size="16.8" textLength="46.0" lengthAdjust="spacing" fill="#231815" stroke="#231815" stroke-width="0.24">Pb4f<tspan font-size="7" dy="3">7/2</tspan></text>
<text x="254.0" y="761.0" font-size="16.8" textLength="46.0" lengthAdjust="spacing" fill="#231815" stroke="#231815" stroke-width="0.24">Pb4f<tspan font-size="7" dy="3">5/2</tspan></text>
<rect x="592.2" y="657.0" width="386.0" height="285.8" fill="none" stroke="#0a0605" stroke-width="1.5"/>
<line x1="586.6" y1="917.3" x2="592.2" y2="917.3" stroke="#231815" stroke-width="1.1"/>
<line x1="586.6" y1="839.0" x2="592.2" y2="839.0" stroke="#231815" stroke-width="1.1"/>
<line x1="586.6" y1="760.7" x2="592.2" y2="760.7" stroke="#231815" stroke-width="1.1"/>
<line x1="586.6" y1="682.4" x2="592.2" y2="682.4" stroke="#231815" stroke-width="1.1"/>
<line x1="589.4" y1="878.1" x2="592.2" y2="878.1" stroke="#231815" stroke-width="1.0"/>
<line x1="589.4" y1="799.8" x2="592.2" y2="799.8" stroke="#231815" stroke-width="1.0"/>
<line x1="589.4" y1="721.5" x2="592.2" y2="721.5" stroke="#231815" stroke-width="1.0"/>
<line x1="615.4" y1="942.8" x2="615.4" y2="948.3" stroke="#231815" stroke-width="1.1"/>
<line x1="709.5" y1="942.8" x2="709.5" y2="948.3" stroke="#231815" stroke-width="1.1"/>
<line x1="803.6" y1="942.8" x2="803.6" y2="948.3" stroke="#231815" stroke-width="1.1"/>
<line x1="897.8" y1="942.8" x2="897.8" y2="948.3" stroke="#231815" stroke-width="1.1"/>
<line x1="662.5" y1="942.8" x2="662.5" y2="945.8" stroke="#231815" stroke-width="1.0"/>
<line x1="756.6" y1="942.8" x2="756.6" y2="945.8" stroke="#231815" stroke-width="1.0"/>
<line x1="850.7" y1="942.8" x2="850.7" y2="945.8" stroke="#231815" stroke-width="1.0"/>
<line x1="944.8" y1="942.8" x2="944.8" y2="945.8" stroke="#231815" stroke-width="1.0"/>
<text x="491.7" y="663.7" font-size="27.3" fill="#231815" stroke="#231815" stroke-width="0.38" letter-spacing="1.9">g)</text>
<text x="568.53" y="925.7" font-size="24.8" letter-spacing="0.00" fill="#231815" stroke="#231815" stroke-width="0.35">0</text>
<text x="552.46" y="847.4" font-size="24.8" letter-spacing="1.33" fill="#231815" stroke="#231815" stroke-width="0.35">30</text>
<text x="552.14" y="769.1" font-size="24.8" letter-spacing="1.64" fill="#231815" stroke="#231815" stroke-width="0.35">60</text>
<text x="552.04" y="690.8" font-size="24.8" letter-spacing="1.75" fill="#231815" stroke="#231815" stroke-width="0.35">90</text>
<text x="611.03" y="978.3" font-size="24.8" letter-spacing="0.00" fill="#231815" stroke="#231815" stroke-width="0.35">0</text>
<text x="689.65" y="978.3" font-size="24.8" letter-spacing="0.77" fill="#231815" stroke="#231815" stroke-width="0.35">200</text>
<text x="785.83" y="978.3" font-size="24.8" letter-spacing="1.43" fill="#231815" stroke="#231815" stroke-width="0.35">400</text>
<text x="877.94" y="978.3" font-size="24.8" letter-spacing="1.68" fill="#231815" stroke="#231815" stroke-width="0.35">600</text>
<text x="742.33" y="1003.3" font-size="24.2" letter-spacing="0.44" fill="#231815" stroke="#231815" stroke-width="0.34">t / min</text>
<text x="0" y="0" font-size="23.5" textLength="104.0" lengthAdjust="spacing" transform="translate(511.9,842.3) rotate(-90)" fill="#231815" stroke="#231815" stroke-width="0.33">q<tspan font-size="9" dy="3">t</tspan><tspan dy="-3"> / mg g</tspan><tspan font-size="12" dy="-9">-1</tspan></text>
<line x1="615.5" y1="908.8" x2="615.8" y2="888.5" stroke="#000" stroke-width="1.4"/>
<line x1="616.0" y1="871.5" x2="616.3" y2="838.3" stroke="#000" stroke-width="1.4"/>
<line x1="616.7" y1="821.3" x2="617.3" y2="808.7" stroke="#000" stroke-width="1.4"/>
<line x1="618.8" y1="791.8" x2="619.1" y2="788.8" stroke="#000" stroke-width="1.4"/>
<line x1="622.2" y1="772.2" x2="622.7" y2="769.8" stroke="#000" stroke-width="1.4"/>
<line x1="631.4" y1="756.2" x2="637.0" y2="751.7" stroke="#000" stroke-width="1.4"/>
<line x1="651.3" y1="742.6" x2="664.2" y2="736.5" stroke="#000" stroke-width="1.4"/>
<line x1="680.3" y1="731.8" x2="776.4" y2="720.6" stroke="#000" stroke-width="1.4"/>
<line x1="793.3" y1="719.0" x2="945.8" y2="708.0" stroke="#000" stroke-width="1.4"/>
<line x1="615.6" y1="908.8" x2="615.7" y2="903.5" stroke="#000" stroke-width="1.4"/>
<line x1="616.0" y1="886.5" x2="616.2" y2="876.4" stroke="#000" stroke-width="1.4"/>
<line x1="616.9" y1="859.4" x2="617.2" y2="856.5" stroke="#000" stroke-width="1.4"/>
<line x1="617.8" y1="848.0" x2="620.1" y2="830.3" stroke="#000" stroke-width="1.4"/>
<line x1="620.1" y1="830.3" x2="624.8" y2="818.8" stroke="#000" stroke-width="1.4"/>
<line x1="629.4" y1="811.6" x2="639.0" y2="796.7" stroke="#000" stroke-width="1.4"/>
<line x1="650.2" y1="784.0" x2="665.4" y2="771.4" stroke="#000" stroke-width="1.4"/>
<line x1="680.2" y1="764.2" x2="776.5" y2="744.2" stroke="#000" stroke-width="1.4"/>
<line x1="793.2" y1="741.2" x2="945.8" y2="717.1" stroke="#000" stroke-width="1.4"/>
<line x1="615.4" y1="917.3" x2="615.9" y2="903.0" stroke="#000" stroke-width="1.4"/>
<line x1="615.9" y1="903.0" x2="616.3" y2="886.2" stroke="#000" stroke-width="1.4"/>
<line x1="616.9" y1="877.7" x2="617.2" y2="871.8" stroke="#000" stroke-width="1.4"/>
<line x1="617.8" y1="863.3" x2="620.1" y2="848.0" stroke="#000" stroke-width="1.4"/>
<line x1="620.1" y1="848.0" x2="624.8" y2="831.5" stroke="#000" stroke-width="1.4"/>
<line x1="630.2" y1="824.9" x2="638.2" y2="815.2" stroke="#000" stroke-width="1.4"/>
<line x1="649.7" y1="802.6" x2="665.9" y2="786.4" stroke="#000" stroke-width="1.4"/>
<line x1="680.2" y1="778.6" x2="776.5" y2="757.5" stroke="#000" stroke-width="1.4"/>
<line x1="793.2" y1="754.4" x2="945.8" y2="730.3" stroke="#000" stroke-width="1.4"/>
<line x1="615.9" y1="912.0" x2="616.3" y2="905.0" stroke="#000" stroke-width="1.4"/>
<line x1="616.3" y1="905.0" x2="617.8" y2="895.0" stroke="#000" stroke-width="1.4"/>
<line x1="617.8" y1="895.0" x2="620.1" y2="882.4" stroke="#000" stroke-width="1.4"/>
<line x1="620.1" y1="882.4" x2="624.8" y2="867.1" stroke="#000" stroke-width="1.4"/>
<line x1="629.0" y1="859.7" x2="639.4" y2="841.5" stroke="#000" stroke-width="1.4"/>
<line x1="650.0" y1="828.5" x2="665.5" y2="814.7" stroke="#000" stroke-width="1.4"/>
<line x1="679.9" y1="806.2" x2="776.8" y2="771.3" stroke="#000" stroke-width="1.4"/>
<line x1="793.2" y1="766.8" x2="945.9" y2="736.5" stroke="#000" stroke-width="1.4"/>
<line x1="616.3" y1="908.0" x2="617.8" y2="900.0" stroke="#e60012" stroke-width="1.4"/>
<line x1="617.8" y1="900.0" x2="620.1" y2="892.0" stroke="#e60012" stroke-width="1.4"/>
<line x1="620.1" y1="892.0" x2="624.8" y2="877.8" stroke="#e60012" stroke-width="1.4"/>
<line x1="631.1" y1="872.1" x2="637.3" y2="866.5" stroke="#e60012" stroke-width="1.4"/>
<line x1="649.8" y1="854.9" x2="665.8" y2="839.5" stroke="#e60012" stroke-width="1.4"/>
<line x1="679.7" y1="830.3" x2="777.0" y2="789.5" stroke="#e60012" stroke-width="1.4"/>
<line x1="793.1" y1="784.2" x2="946.0" y2="746.8" stroke="#e60012" stroke-width="1.4"/>
<rect x="609.9" y="911.8" width="11.0" height="11.0" fill="#000"/>
<line x1="615.9" y1="874.9" x2="615.9" y2="885.1" stroke="#000" stroke-width="1.2"/>
<line x1="612.9" y1="874.9" x2="618.9" y2="874.9" stroke="#000" stroke-width="1.2"/>
<line x1="612.9" y1="885.1" x2="618.9" y2="885.1" stroke="#000" stroke-width="1.2"/>
<rect x="610.4" y="874.5" width="11.0" height="11.0" fill="#000"/>
<line x1="616.3" y1="824.7" x2="616.3" y2="834.9" stroke="#000" stroke-width="1.2"/>
<line x1="613.3" y1="824.7" x2="619.3" y2="824.7" stroke="#000" stroke-width="1.2"/>
<line x1="613.3" y1="834.9" x2="619.3" y2="834.9" stroke="#000" stroke-width="1.2"/>
<rect x="610.8" y="824.3" width="11.0" height="11.0" fill="#000"/>
<line x1="617.8" y1="794.1" x2="617.8" y2="806.3" stroke="#000" stroke-width="1.2"/>
<line x1="614.8" y1="794.1" x2="620.8" y2="794.1" stroke="#000" stroke-width="1.2"/>
<line x1="614.8" y1="806.3" x2="620.8" y2="806.3" stroke="#000" stroke-width="1.2"/>
<rect x="612.3" y="794.7" width="11.0" height="11.0" fill="#000"/>
<line x1="620.1" y1="774.3" x2="620.1" y2="786.5" stroke="#000" stroke-width="1.2"/>
<line x1="617.1" y1="774.3" x2="623.1" y2="774.3" stroke="#000" stroke-width="1.2"/>
<line x1="617.1" y1="786.5" x2="623.1" y2="786.5" stroke="#000" stroke-width="1.2"/>
<rect x="614.6" y="774.9" width="11.0" height="11.0" fill="#000"/>
<line x1="624.8" y1="755.5" x2="624.8" y2="767.7" stroke="#000" stroke-width="1.2"/>
<line x1="621.8" y1="755.5" x2="627.8" y2="755.5" stroke="#000" stroke-width="1.2"/>
<line x1="621.8" y1="767.7" x2="627.8" y2="767.7" stroke="#000" stroke-width="1.2"/>
<rect x="619.3" y="756.1" width="11.0" height="11.0" fill="#000"/>
<line x1="643.6" y1="740.2" x2="643.6" y2="752.4" stroke="#000" stroke-width="1.2"/>
<line x1="640.6" y1="740.2" x2="646.6" y2="740.2" stroke="#000" stroke-width="1.2"/>
<line x1="640.6" y1="752.4" x2="646.6" y2="752.4" stroke="#000" stroke-width="1.2"/>
<rect x="638.1" y="740.8" width="11.0" height="11.0" fill="#000"/>
<line x1="671.9" y1="726.7" x2="671.9" y2="738.9" stroke="#000" stroke-width="1.2"/>
<line x1="668.9" y1="726.7" x2="674.9" y2="726.7" stroke="#000" stroke-width="1.2"/>
<line x1="668.9" y1="738.9" x2="674.9" y2="738.9" stroke="#000" stroke-width="1.2"/>
<rect x="666.4" y="727.3" width="11.0" height="11.0" fill="#000"/>
<line x1="784.8" y1="713.5" x2="784.8" y2="725.7" stroke="#000" stroke-width="1.2"/>
<line x1="781.8" y1="713.5" x2="787.8" y2="713.5" stroke="#000" stroke-width="1.2"/>
<line x1="781.8" y1="725.7" x2="787.8" y2="725.7" stroke="#000" stroke-width="1.2"/>
<rect x="779.3" y="714.1" width="11.0" height="11.0" fill="#000"/>
<line x1="954.2" y1="701.3" x2="954.2" y2="713.5" stroke="#000" stroke-width="1.2"/>
<line x1="951.2" y1="701.3" x2="957.2" y2="701.3" stroke="#000" stroke-width="1.2"/>
<line x1="951.2" y1="713.5" x2="957.2" y2="713.5" stroke="#000" stroke-width="1.2"/>
<rect x="948.7" y="701.9" width="11.0" height="11.0" fill="#000"/>
<circle cx="615.4" cy="917.3" r="6.1" fill="#f00"/>
<line x1="615.9" y1="890.0" x2="615.9" y2="900.0" stroke="#f00" stroke-width="1.2"/>
<line x1="612.9" y1="890.0" x2="618.9" y2="890.0" stroke="#f00" stroke-width="1.2"/>
<line x1="612.9" y1="900.0" x2="618.9" y2="900.0" stroke="#f00" stroke-width="1.2"/>
<circle cx="615.9" cy="895.0" r="6.1" fill="#f00"/>
<line x1="616.3" y1="862.9" x2="616.3" y2="872.9" stroke="#f00" stroke-width="1.2"/>
<line x1="613.3" y1="862.9" x2="619.3" y2="862.9" stroke="#f00" stroke-width="1.2"/>
<line x1="613.3" y1="872.9" x2="619.3" y2="872.9" stroke="#f00" stroke-width="1.2"/>
<circle cx="616.3" cy="867.9" r="6.1" fill="#f00"/>
<line x1="617.8" y1="842.3" x2="617.8" y2="853.7" stroke="#f00" stroke-width="1.2"/>
<line x1="614.8" y1="842.3" x2="620.8" y2="842.3" stroke="#f00" stroke-width="1.2"/>
<line x1="614.8" y1="853.7" x2="620.8" y2="853.7" stroke="#f00" stroke-width="1.2"/>
<circle cx="617.8" cy="848.0" r="6.1" fill="#f00"/>
<line x1="620.1" y1="824.6" x2="620.1" y2="836.0" stroke="#f00" stroke-width="1.2"/>
<line x1="617.1" y1="824.6" x2="623.1" y2="824.6" stroke="#f00" stroke-width="1.2"/>
<line x1="617.1" y1="836.0" x2="623.1" y2="836.0" stroke="#f00" stroke-width="1.2"/>
<circle cx="620.1" cy="830.3" r="6.1" fill="#f00"/>
<line x1="624.8" y1="813.1" x2="624.8" y2="824.5" stroke="#f00" stroke-width="1.2"/>
<line x1="621.8" y1="813.1" x2="627.8" y2="813.1" stroke="#f00" stroke-width="1.2"/>
<line x1="621.8" y1="824.5" x2="627.8" y2="824.5" stroke="#f00" stroke-width="1.2"/>
<circle cx="624.8" cy="818.8" r="6.1" fill="#f00"/>
<line x1="643.6" y1="783.8" x2="643.6" y2="795.2" stroke="#f00" stroke-width="1.2"/>
<line x1="640.6" y1="783.8" x2="646.6" y2="783.8" stroke="#f00" stroke-width="1.2"/>
<line x1="640.6" y1="795.2" x2="646.6" y2="795.2" stroke="#f00" stroke-width="1.2"/>
<circle cx="643.6" cy="789.5" r="6.1" fill="#f00"/>
<line x1="671.9" y1="760.2" x2="671.9" y2="771.6" stroke="#f00" stroke-width="1.2"/>
<line x1="668.9" y1="760.2" x2="674.9" y2="760.2" stroke="#f00" stroke-width="1.2"/>
<line x1="668.9" y1="771.6" x2="674.9" y2="771.6" stroke="#f00" stroke-width="1.2"/>
<circle cx="671.9" cy="765.9" r="6.1" fill="#f00"/>
<line x1="784.8" y1="736.8" x2="784.8" y2="748.2" stroke="#f00" stroke-width="1.2"/>
<line x1="781.8" y1="736.8" x2="787.8" y2="736.8" stroke="#f00" stroke-width="1.2"/>
<line x1="781.8" y1="748.2" x2="787.8" y2="748.2" stroke="#f00" stroke-width="1.2"/>
<circle cx="784.8" cy="742.5" r="6.1" fill="#f00"/>
<line x1="954.2" y1="710.1" x2="954.2" y2="721.5" stroke="#f00" stroke-width="1.2"/>
<line x1="951.2" y1="710.1" x2="957.2" y2="710.1" stroke="#f00" stroke-width="1.2"/>
<line x1="951.2" y1="721.5" x2="957.2" y2="721.5" stroke="#f00" stroke-width="1.2"/>
<circle cx="954.2" cy="715.8" r="6.1" fill="#f00"/>
<path d="M615.4 910.1 L623.4 922.8 L607.4 922.8 Z" fill="#00f"/>
<line x1="615.9" y1="897.8" x2="615.9" y2="908.2" stroke="#00f" stroke-width="1.2"/>
<line x1="612.9" y1="897.8" x2="618.9" y2="897.8" stroke="#00f" stroke-width="1.2"/>
<line x1="612.9" y1="908.2" x2="618.9" y2="908.2" stroke="#00f" stroke-width="1.2"/>
<path d="M615.9 895.8 L623.9 908.5 L607.9 908.5 Z" fill="#00f"/>
<line x1="616.3" y1="881.0" x2="616.3" y2="891.4" stroke="#00f" stroke-width="1.2"/>
<line x1="613.3" y1="881.0" x2="619.3" y2="881.0" stroke="#00f" stroke-width="1.2"/>
<line x1="613.3" y1="891.4" x2="619.3" y2="891.4" stroke="#00f" stroke-width="1.2"/>
<path d="M616.3 879.0 L624.3 891.7 L608.3 891.7 Z" fill="#00f"/>
<line x1="617.8" y1="857.0" x2="617.8" y2="869.6" stroke="#00f" stroke-width="1.2"/>
<line x1="614.8" y1="857.0" x2="620.8" y2="857.0" stroke="#00f" stroke-width="1.2"/>
<line x1="614.8" y1="869.6" x2="620.8" y2="869.6" stroke="#00f" stroke-width="1.2"/>
<path d="M617.8 856.1 L625.8 868.8 L609.8 868.8 Z" fill="#00f"/>
<line x1="620.1" y1="841.7" x2="620.1" y2="854.3" stroke="#00f" stroke-width="1.2"/>
<line x1="617.1" y1="841.7" x2="623.1" y2="841.7" stroke="#00f" stroke-width="1.2"/>
<line x1="617.1" y1="854.3" x2="623.1" y2="854.3" stroke="#00f" stroke-width="1.2"/>
<path d="M620.1 840.8 L628.1 853.5 L612.1 853.5 Z" fill="#00f"/>
<line x1="624.8" y1="825.2" x2="624.8" y2="837.8" stroke="#00f" stroke-width="1.2"/>
<line x1="621.8" y1="825.2" x2="627.8" y2="825.2" stroke="#00f" stroke-width="1.2"/>
<line x1="621.8" y1="837.8" x2="627.8" y2="837.8" stroke="#00f" stroke-width="1.2"/>
<path d="M624.8 824.3 L632.8 837.0 L616.8 837.0 Z" fill="#00f"/>
<line x1="643.6" y1="802.3" x2="643.6" y2="814.9" stroke="#00f" stroke-width="1.2"/>
<line x1="640.6" y1="802.3" x2="646.6" y2="802.3" stroke="#00f" stroke-width="1.2"/>
<line x1="640.6" y1="814.9" x2="646.6" y2="814.9" stroke="#00f" stroke-width="1.2"/>
<path d="M643.6 801.4 L651.6 814.1 L635.6 814.1 Z" fill="#00f"/>
<line x1="671.9" y1="774.1" x2="671.9" y2="786.7" stroke="#00f" stroke-width="1.2"/>
<line x1="668.9" y1="774.1" x2="674.9" y2="774.1" stroke="#00f" stroke-width="1.2"/>
<line x1="668.9" y1="786.7" x2="674.9" y2="786.7" stroke="#00f" stroke-width="1.2"/>
<path d="M671.9 773.2 L679.9 785.9 L663.9 785.9 Z" fill="#00f"/>
<line x1="784.8" y1="749.4" x2="784.8" y2="762.0" stroke="#00f" stroke-width="1.2"/>
<line x1="781.8" y1="749.4" x2="787.8" y2="749.4" stroke="#00f" stroke-width="1.2"/>
<line x1="781.8" y1="762.0" x2="787.8" y2="762.0" stroke="#00f" stroke-width="1.2"/>
<path d="M784.8 748.5 L792.8 761.2 L776.8 761.2 Z" fill="#00f"/>
<line x1="954.2" y1="722.7" x2="954.2" y2="735.3" stroke="#00f" stroke-width="1.2"/>
<line x1="951.2" y1="722.7" x2="957.2" y2="722.7" stroke="#00f" stroke-width="1.2"/>
<line x1="951.2" y1="735.3" x2="957.2" y2="735.3" stroke="#00f" stroke-width="1.2"/>
<path d="M954.2 721.8 L962.2 734.5 L946.2 734.5 Z" fill="#00f"/>
<path d="M615.4 924.5 L623.4 911.8 L607.4 911.8 Z" fill="#f0f"/>
<line x1="615.9" y1="906.9" x2="615.9" y2="917.1" stroke="#f0f" stroke-width="1.2"/>
<line x1="612.9" y1="906.9" x2="618.9" y2="906.9" stroke="#f0f" stroke-width="1.2"/>
<line x1="612.9" y1="917.1" x2="618.9" y2="917.1" stroke="#f0f" stroke-width="1.2"/>
<path d="M615.9 919.2 L623.9 906.5 L607.9 906.5 Z" fill="#f0f"/>
<line x1="616.3" y1="899.9" x2="616.3" y2="910.1" stroke="#f0f" stroke-width="1.2"/>
<line x1="613.3" y1="899.9" x2="619.3" y2="899.9" stroke="#f0f" stroke-width="1.2"/>
<line x1="613.3" y1="910.1" x2="619.3" y2="910.1" stroke="#f0f" stroke-width="1.2"/>
<path d="M616.3 912.2 L624.3 899.5 L608.3 899.5 Z" fill="#f0f"/>
<line x1="617.8" y1="889.1" x2="617.8" y2="900.9" stroke="#f0f" stroke-width="1.2"/>
<line x1="614.8" y1="889.1" x2="620.8" y2="889.1" stroke="#f0f" stroke-width="1.2"/>
<line x1="614.8" y1="900.9" x2="620.8" y2="900.9" stroke="#f0f" stroke-width="1.2"/>
<path d="M617.8 902.2 L625.8 889.5 L609.8 889.5 Z" fill="#f0f"/>
<line x1="620.1" y1="876.5" x2="620.1" y2="888.3" stroke="#f0f" stroke-width="1.2"/>
<line x1="617.1" y1="876.5" x2="623.1" y2="876.5" stroke="#f0f" stroke-width="1.2"/>
<line x1="617.1" y1="888.3" x2="623.1" y2="888.3" stroke="#f0f" stroke-width="1.2"/>
<path d="M620.1 889.6 L628.1 876.9 L612.1 876.9 Z" fill="#f0f"/>
<line x1="624.8" y1="861.2" x2="624.8" y2="873.0" stroke="#f0f" stroke-width="1.2"/>
<line x1="621.8" y1="861.2" x2="627.8" y2="861.2" stroke="#f0f" stroke-width="1.2"/>
<line x1="621.8" y1="873.0" x2="627.8" y2="873.0" stroke="#f0f" stroke-width="1.2"/>
<path d="M624.8 874.3 L632.8 861.6 L616.8 861.6 Z" fill="#f0f"/>
<line x1="643.6" y1="828.2" x2="643.6" y2="840.0" stroke="#f0f" stroke-width="1.2"/>
<line x1="640.6" y1="828.2" x2="646.6" y2="828.2" stroke="#f0f" stroke-width="1.2"/>
<line x1="640.6" y1="840.0" x2="646.6" y2="840.0" stroke="#f0f" stroke-width="1.2"/>
<path d="M643.6 841.3 L651.6 828.6 L635.6 828.6 Z" fill="#f0f"/>
<line x1="671.9" y1="803.2" x2="671.9" y2="815.0" stroke="#f0f" stroke-width="1.2"/>
<line x1="668.9" y1="803.2" x2="674.9" y2="803.2" stroke="#f0f" stroke-width="1.2"/>
<line x1="668.9" y1="815.0" x2="674.9" y2="815.0" stroke="#f0f" stroke-width="1.2"/>
<path d="M671.9 816.3 L679.9 803.6 L663.9 803.6 Z" fill="#f0f"/>
<line x1="784.8" y1="762.5" x2="784.8" y2="774.3" stroke="#f0f" stroke-width="1.2"/>
<line x1="781.8" y1="762.5" x2="787.8" y2="762.5" stroke="#f0f" stroke-width="1.2"/>
<line x1="781.8" y1="774.3" x2="787.8" y2="774.3" stroke="#f0f" stroke-width="1.2"/>
<path d="M784.8 775.6 L792.8 762.9 L776.8 762.9 Z" fill="#f0f"/>
<line x1="954.2" y1="729.0" x2="954.2" y2="740.8" stroke="#f0f" stroke-width="1.2"/>
<line x1="951.2" y1="729.0" x2="957.2" y2="729.0" stroke="#f0f" stroke-width="1.2"/>
<line x1="951.2" y1="740.8" x2="957.2" y2="740.8" stroke="#f0f" stroke-width="1.2"/>
<path d="M954.2 742.1 L962.2 729.4 L946.2 729.4 Z" fill="#f0f"/>
<polygon points="621.1,920.6 615.4,923.9 609.7,920.6 609.7,914.0 615.4,910.7 621.1,914.0" fill="#000"/>
<line x1="615.9" y1="907.6" x2="615.9" y2="918.4" stroke="#000" stroke-width="1.2"/>
<line x1="612.9" y1="907.6" x2="618.9" y2="907.6" stroke="#000" stroke-width="1.2"/>
<line x1="612.9" y1="918.4" x2="618.9" y2="918.4" stroke="#000" stroke-width="1.2"/>
<polygon points="621.6,916.3 615.9,919.6 610.2,916.3 610.2,909.7 615.9,906.4 621.6,909.7" fill="#000"/>
<line x1="616.3" y1="902.6" x2="616.3" y2="913.4" stroke="#000" stroke-width="1.2"/>
<line x1="613.3" y1="902.6" x2="619.3" y2="902.6" stroke="#000" stroke-width="1.2"/>
<line x1="613.3" y1="913.4" x2="619.3" y2="913.4" stroke="#000" stroke-width="1.2"/>
<polygon points="622.1,911.3 616.3,914.6 610.6,911.3 610.6,904.7 616.3,901.4 622.1,904.7" fill="#000"/>
<line x1="617.8" y1="893.3" x2="617.8" y2="906.7" stroke="#000" stroke-width="1.2"/>
<line x1="614.8" y1="893.3" x2="620.8" y2="893.3" stroke="#000" stroke-width="1.2"/>
<line x1="614.8" y1="906.7" x2="620.8" y2="906.7" stroke="#000" stroke-width="1.2"/>
<polygon points="623.5,903.3 617.8,906.6 612.0,903.3 612.0,896.7 617.8,893.4 623.5,896.7" fill="#000"/>
<line x1="620.1" y1="885.3" x2="620.1" y2="898.7" stroke="#000" stroke-width="1.2"/>
<line x1="617.1" y1="885.3" x2="623.1" y2="885.3" stroke="#000" stroke-width="1.2"/>
<line x1="617.1" y1="898.7" x2="623.1" y2="898.7" stroke="#000" stroke-width="1.2"/>
<polygon points="625.8,895.3 620.1,898.6 614.4,895.3 614.4,888.7 620.1,885.4 625.8,888.7" fill="#000"/>
<line x1="624.8" y1="871.1" x2="624.8" y2="884.5" stroke="#000" stroke-width="1.2"/>
<line x1="621.8" y1="871.1" x2="627.8" y2="871.1" stroke="#000" stroke-width="1.2"/>
<line x1="621.8" y1="884.5" x2="627.8" y2="884.5" stroke="#000" stroke-width="1.2"/>
<polygon points="630.5,881.1 624.8,884.4 619.1,881.1 619.1,874.5 624.8,871.2 630.5,874.5" fill="#000"/>
<line x1="643.6" y1="854.1" x2="643.6" y2="867.5" stroke="#000" stroke-width="1.2"/>
<line x1="640.6" y1="854.1" x2="646.6" y2="854.1" stroke="#000" stroke-width="1.2"/>
<line x1="640.6" y1="867.5" x2="646.6" y2="867.5" stroke="#000" stroke-width="1.2"/>
<polygon points="649.4,864.1 643.6,867.4 637.9,864.1 637.9,857.5 643.6,854.2 649.4,857.5" fill="#000"/>
<line x1="671.9" y1="826.9" x2="671.9" y2="840.3" stroke="#000" stroke-width="1.2"/>
<line x1="668.9" y1="826.9" x2="674.9" y2="826.9" stroke="#000" stroke-width="1.2"/>
<line x1="668.9" y1="840.3" x2="674.9" y2="840.3" stroke="#000" stroke-width="1.2"/>
<polygon points="677.6,836.9 671.9,840.2 666.2,836.9 666.2,830.3 671.9,827.0 677.6,830.3" fill="#000"/>
<line x1="784.8" y1="776.0" x2="784.8" y2="796.4" stroke="#000" stroke-width="1.2"/>
<line x1="781.8" y1="776.0" x2="787.8" y2="776.0" stroke="#000" stroke-width="1.2"/>
<line x1="781.8" y1="796.4" x2="787.8" y2="796.4" stroke="#000" stroke-width="1.2"/>
<polygon points="790.5,789.5 784.8,792.8 779.1,789.5 779.1,782.9 784.8,779.6 790.5,782.9" fill="#000"/>
<line x1="954.2" y1="738.1" x2="954.2" y2="751.5" stroke="#000" stroke-width="1.2"/>
<line x1="951.2" y1="738.1" x2="957.2" y2="738.1" stroke="#000" stroke-width="1.2"/>
<line x1="951.2" y1="751.5" x2="957.2" y2="751.5" stroke="#000" stroke-width="1.2"/>
<polygon points="959.9,748.1 954.2,751.4 948.5,748.1 948.5,741.5 954.2,738.2 959.9,741.5" fill="#000"/>
<line x1="822.5" y1="804.7" x2="827.6" y2="804.7" stroke="#000" stroke-width="1.3"/>
<line x1="844.1" y1="804.7" x2="849.5" y2="804.7" stroke="#000" stroke-width="1.3"/>
<rect x="830.2" y="799.2" width="11.0" height="11.0" fill="#000"/>
<text x="860.06" y="809.2" font-size="16.3" letter-spacing="0.64" fill="#231815" stroke="#231815" stroke-width="0.23">Pb(II)</text>
<line x1="822.5" y1="828.8" x2="827.6" y2="828.8" stroke="#000" stroke-width="1.3"/>
<line x1="844.1" y1="828.8" x2="849.5" y2="828.8" stroke="#000" stroke-width="1.3"/>
<circle cx="835.7" cy="828.8" r="6.1" fill="#f00"/>
<text x="860.06" y="832.9" font-size="16.3" letter-spacing="0.72" fill="#231815" stroke="#231815" stroke-width="0.23">Hg(II)</text>
<line x1="822.5" y1="858.8" x2="827.6" y2="858.8" stroke="#000" stroke-width="1.3"/>
<line x1="844.1" y1="858.8" x2="849.5" y2="858.8" stroke="#000" stroke-width="1.3"/>
<path d="M835.7 852.6 L843.7 865.3 L827.7 865.3 Z" fill="#00f"/>
<text x="860.57" y="863.4" font-size="16.3" letter-spacing="0.62" fill="#231815" stroke="#231815" stroke-width="0.23">Cd(II)</text>
<line x1="822.5" y1="885.5" x2="827.6" y2="885.5" stroke="#000" stroke-width="1.3"/>
<line x1="844.1" y1="885.5" x2="849.5" y2="885.5" stroke="#000" stroke-width="1.3"/>
<path d="M835.7 891.7 L843.7 879.0 L827.7 879.0 Z" fill="#f0f"/>
<text x="860.57" y="890.6" font-size="16.3" letter-spacing="0.62" fill="#231815" stroke="#231815" stroke-width="0.23">Cu(II)</text>
<line x1="822.5" y1="909.7" x2="827.6" y2="909.7" stroke="#000" stroke-width="1.3"/>
<line x1="844.1" y1="909.7" x2="849.5" y2="909.7" stroke="#000" stroke-width="1.3"/>
<polygon points="841.4,913.0 835.7,916.3 830.0,913.0 830.0,906.4 835.7,903.1 841.4,906.4" fill="#000"/>
<text x="860.88" y="914.0" font-size="16.3" letter-spacing="0.52" fill="#231815" stroke="#231815" stroke-width="0.23">Zn(II)</text>
</svg></body></html>
